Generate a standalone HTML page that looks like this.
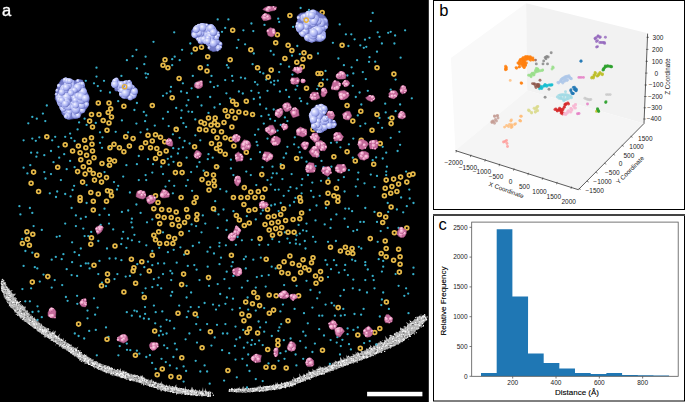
<!DOCTYPE html>
<html><head><meta charset="utf-8"><style>
html,body{margin:0;padding:0;background:#fff;width:685px;height:402px;overflow:hidden}
svg{display:block}
text{font-family:"Liberation Sans",sans-serif}
.tk{font-size:6.5px;fill:#222}
.tb{font-size:6.5px;fill:#222}
.lb{font-size:8px;fill:#000;stroke:#000;stroke-width:0.12px}
.pl{font-size:16.5px;fill:#000}
</style></head><body>
<svg width="685" height="402" viewBox="0 0 685 402">
<rect x="0" y="0" width="685" height="402" fill="#fff"/>
<rect x="0" y="0" width="428.8" height="402" fill="#000"/>
<filter id="sb" x="0" y="0" width="1" height="1"><feGaussianBlur stdDeviation="0.3"/></filter><g id="pana" filter="url(#sb)">
<defs><radialGradient id="lav" cx="0.42" cy="0.38" r="0.7"><stop offset="0" stop-color="#c9d0fb"/><stop offset="0.6" stop-color="#9ea6ec"/><stop offset="1" stop-color="#6f78c8"/></radialGradient><radialGradient id="pkg" cx="0.4" cy="0.35" r="0.7"><stop offset="0" stop-color="#f6b6d4"/><stop offset="0.6" stop-color="#e48ab6"/><stop offset="1" stop-color="#b95a8e"/></radialGradient><radialGradient id="lump" cx="0.36" cy="0.33" r="0.7"><stop offset="0" stop-color="#fbfbff"/><stop offset="0.3" stop-color="#cfd4fb"/><stop offset="0.72" stop-color="#a2aaee"/><stop offset="1" stop-color="#6a72c0"/></radialGradient><radialGradient id="plump" cx="0.38" cy="0.35" r="0.65"><stop offset="0" stop-color="#fde0ee"/><stop offset="0.45" stop-color="#f0a6ca"/><stop offset="0.85" stop-color="#d27aa8"/><stop offset="1" stop-color="#a85283"/></radialGradient></defs>
<polygon points="3.5,280.3 3.7,281.0 4.0,281.7 5.6,282.1 5.5,282.8 5.7,283.6 5.8,284.3 6.8,284.7 6.0,285.6 6.4,286.1 7.1,286.5 6.9,287.3 7.9,287.5 8.4,288.1 9.3,288.5 9.4,289.3 9.4,290.1 10.0,290.6 13.0,290.0 11.2,291.6 11.8,292.0 11.7,292.9 12.1,293.4 13.0,293.6 13.7,293.9 15.6,293.5 15.5,294.5 13.8,296.5 13.9,297.4 16.1,296.8 15.2,298.3 17.0,297.9 15.8,299.6 16.9,299.6 16.2,300.9 17.8,300.4 18.1,300.9 17.6,302.3 19.8,301.3 21.2,301.1 19.0,303.9 20.8,303.3 20.0,304.9 22.1,304.0 21.2,305.7 21.4,306.4 22.5,306.3 22.2,307.4 24.1,306.5 24.7,306.8 26.1,306.4 25.5,308.0 25.1,309.4 25.9,309.6 25.8,310.7 27.4,310.1 27.7,310.8 28.2,311.3 27.7,312.7 28.5,312.8 29.9,312.4 29.1,314.2 30.2,313.9 30.5,314.6 30.3,315.9 32.0,315.1 31.5,316.7 33.0,316.0 32.9,317.2 33.0,318.1 34.7,317.3 35.1,318.0 34.9,319.3 34.8,320.3 36.1,319.9 37.0,319.7 36.7,321.3 37.7,321.1 37.7,322.4 38.7,322.3 39.2,322.8 39.9,323.1 40.4,323.7 41.4,323.6 41.9,324.2 42.2,325.0 42.3,326.1 43.0,326.2 43.9,326.1 44.4,326.7 45.0,327.0 45.6,327.4 46.4,327.5 46.4,328.7 47.7,328.1 48.7,327.9 48.6,329.2 48.6,330.5 49.2,330.9 49.8,331.2 50.7,331.2 50.9,332.2 51.7,332.3 54.1,330.1 52.5,333.6 55.6,330.4 55.7,331.5 55.1,333.6 55.2,334.6 55.6,335.3 56.5,335.2 56.5,336.4 57.1,336.8 60.3,333.4 59.1,336.3 59.4,337.2 59.5,338.3 60.1,338.8 60.8,339.0 62.0,338.6 62.0,339.9 64.2,337.8 63.2,340.7 63.7,341.2 64.7,341.0 65.3,341.4 65.7,342.1 66.6,342.0 66.6,343.4 67.9,342.7 67.8,344.1 69.1,343.6 69.3,344.6 70.0,344.8 71.2,344.4 71.8,344.8 71.3,346.7 72.5,346.4 72.5,347.6 74.1,346.5 73.9,348.0 75.0,347.6 75.8,347.8 76.4,348.1 78.4,346.5 77.2,349.5 77.3,350.6 78.6,350.0 78.9,350.7 79.6,351.0 79.6,352.2 80.9,351.6 81.2,352.3 81.1,353.6 82.3,353.3 82.4,354.4 83.0,354.8 83.7,355.0 84.5,354.9 85.3,355.1 86.5,354.4 86.4,355.7 87.1,355.8 87.4,356.4 87.8,357.0 88.0,358.0 89.4,356.9 89.6,358.1 90.2,358.4 91.2,358.0 91.2,359.6 91.8,359.9 93.0,359.1 93.6,359.4 93.5,361.1 94.4,361.0 95.0,361.3 96.0,360.9 96.8,361.0 96.9,362.3 98.1,361.6 98.2,362.8 98.6,363.6 99.9,362.7 100.1,363.6 101.0,363.2 101.3,364.0 101.9,364.4 102.6,364.3 103.2,364.7 104.0,364.5 104.4,365.6 105.4,364.9 105.7,366.2 106.3,366.7 107.4,365.7 108.1,366.0 108.3,367.5 109.7,365.9 110.0,367.2 110.6,367.7 111.2,368.1 111.8,368.5 112.7,368.3 113.2,369.1 114.0,369.0 114.9,368.5 115.1,370.1 116.0,369.6 116.6,369.9 117.5,369.3 117.8,370.8 118.7,370.0 119.4,370.3 120.9,367.9 120.9,370.3 121.2,371.8 122.6,369.9 122.9,371.5 124.1,370.0 124.4,371.3 124.9,372.3 125.8,371.7 126.0,373.5 126.9,373.0 127.9,372.4 128.3,373.6 128.9,374.0 129.7,373.7 130.3,374.2 130.9,374.6 132.0,373.6 132.3,375.0 133.3,374.0 133.6,375.4 134.8,374.0 135.3,374.8 136.0,374.9 136.7,375.1 137.2,375.7 137.7,376.5 138.3,376.8 138.9,377.2 139.7,377.1 141.1,375.1 141.3,376.6 142.6,374.9 142.9,376.2 143.4,377.2 144.0,377.4 144.7,377.6 145.3,378.2 145.7,379.5 146.7,378.7 147.1,379.6 148.2,378.7 148.6,379.8 149.2,380.4 150.2,379.6 150.6,380.6 152.0,378.8 152.2,380.2 152.6,381.4 153.6,380.6 153.8,382.2 154.7,381.9 155.5,381.8 156.2,381.7 156.9,382.0 157.3,382.9 157.9,383.4 159.0,382.6 159.4,383.6 160.0,384.1 161.8,381.1 161.6,383.6 162.4,383.3 162.7,384.4 163.4,384.2 164.0,384.5 164.6,384.9 165.2,385.4 165.8,385.7 166.9,384.2 167.2,386.2 168.1,385.3 168.6,386.6 169.7,384.5 170.1,386.4 170.9,385.7 171.4,386.8 172.4,385.9 173.0,386.5 173.7,386.4 174.3,387.3 175.4,385.5 176.4,384.3 176.4,387.6 177.1,387.7 177.8,387.9 178.4,388.6 179.3,387.5 179.9,387.7 180.5,388.3 181.2,388.1 181.8,388.1 182.4,389.2 183.1,389.0 183.9,388.6 184.5,388.9 185.6,386.1 186.0,389.0 186.6,389.1 187.3,389.4 188.1,389.2 188.8,389.1 189.4,390.1 190.1,390.2 190.8,389.8 191.9,386.8 192.5,387.6 193.0,389.3 193.7,389.3 194.3,390.6 195.1,389.6 195.8,389.9 196.4,390.6 197.2,389.9 197.8,391.1 198.5,391.1 199.3,389.5 200.0,390.1 200.6,391.3 201.3,390.9 202.1,390.4 203.0,387.0 203.4,391.3 204.2,390.5 204.9,390.9 205.8,387.9 206.3,391.2 207.0,391.2 207.6,392.2 208.4,391.7 209.0,392.2 209.9,390.5 210.5,392.0 211.2,391.7 210.8,396.6 210.1,396.5 209.4,396.2 208.7,396.5 208.0,396.6 207.3,396.4 206.6,396.0 205.9,396.3 205.2,396.1 204.5,396.0 203.8,396.1 203.1,396.0 202.3,396.2 201.6,396.1 200.9,395.9 200.2,395.7 199.5,396.2 198.8,395.7 198.1,395.9 197.3,396.1 196.6,396.0 195.9,395.5 195.2,395.3 194.5,395.3 193.8,395.5 193.1,395.6 192.4,395.6 191.7,395.2 191.0,395.4 190.3,394.8 189.6,394.8 188.9,394.7 188.2,394.9 187.5,394.7 186.8,394.5 186.0,394.8 185.3,394.6 184.6,394.6 184.0,394.2 183.3,394.1 182.5,394.2 181.8,394.3 181.1,394.0 180.3,394.1 179.6,393.8 178.8,394.2 178.1,393.5 177.2,393.9 176.5,393.8 176.0,393.1 175.2,393.0 174.5,393.0 173.8,393.0 173.1,392.7 172.4,392.9 171.8,392.1 171.1,392.1 170.2,392.5 169.6,392.1 168.9,391.8 168.2,391.9 167.5,391.7 166.9,391.2 166.1,391.1 165.4,391.3 164.7,391.1 164.0,390.7 163.3,390.5 162.5,390.3 161.8,390.2 161.0,390.1 160.1,390.2 159.6,389.3 158.8,389.6 158.1,389.3 157.5,389.0 156.9,388.6 156.2,388.2 155.6,388.0 154.8,388.1 154.2,387.5 153.4,387.7 152.8,387.3 152.1,387.2 151.5,386.5 150.7,386.9 150.1,386.4 149.4,386.3 148.8,385.8 148.0,385.7 147.3,385.6 146.6,385.5 146.1,384.8 145.3,385.1 144.9,384.2 144.0,384.6 143.5,383.9 142.8,383.7 142.2,383.5 141.4,383.7 140.9,383.0 140.0,383.3 139.5,382.8 138.8,382.6 138.0,382.7 137.5,382.1 136.6,382.4 136.2,381.5 135.4,381.6 134.8,381.2 134.1,381.1 133.3,381.5 132.6,381.2 132.1,380.4 131.4,380.4 130.6,380.4 130.1,379.9 129.4,379.7 128.7,379.5 127.9,379.8 127.3,379.5 126.6,379.2 126.0,378.5 125.2,378.8 124.5,378.6 123.9,378.2 123.2,377.9 122.4,378.2 121.8,377.7 121.1,377.3 120.4,377.3 119.7,377.2 119.0,376.7 118.4,376.5 117.6,376.5 116.8,376.5 116.2,376.1 115.5,375.7 114.7,375.9 114.1,375.1 113.2,375.5 112.7,374.6 111.8,375.0 111.3,374.2 110.4,374.4 109.9,373.6 109.3,373.3 108.5,373.4 107.7,373.3 107.2,372.7 106.6,372.3 105.8,372.3 105.2,371.9 104.5,371.7 103.8,371.5 103.0,371.5 102.3,371.3 101.7,370.8 101.1,370.3 100.2,370.5 99.7,369.7 98.6,370.1 98.0,369.6 97.5,369.0 96.8,368.6 96.2,368.3 95.6,367.8 94.9,367.7 94.2,367.4 93.4,367.4 93.1,366.6 92.5,366.2 91.7,366.1 91.1,365.8 90.6,365.2 89.9,365.0 89.2,364.9 88.4,364.9 87.9,364.3 87.4,363.8 86.5,364.0 86.2,363.0 85.5,362.8 84.7,362.6 84.1,362.2 83.3,362.1 82.7,361.6 82.2,360.9 81.4,360.7 80.8,360.2 80.0,360.2 79.6,359.6 79.2,358.9 78.4,358.7 77.8,358.4 77.4,357.8 76.7,357.5 76.4,356.8 75.9,356.3 75.0,356.4 74.3,356.0 73.9,355.4 73.2,355.2 72.5,354.9 72.0,354.4 71.7,353.7 70.9,353.6 70.4,353.0 69.9,352.5 69.5,351.9 68.7,351.8 68.1,351.4 67.6,350.9 67.1,350.5 66.1,350.6 65.9,349.6 65.3,349.3 64.3,349.3 64.1,348.4 63.5,348.0 62.8,347.8 62.0,347.6 61.3,347.4 60.9,346.6 60.3,346.2 59.5,346.2 59.1,345.5 58.7,344.7 57.9,344.7 57.4,344.2 56.9,343.6 56.2,343.3 55.6,342.9 54.9,342.6 54.5,342.0 53.6,342.0 53.0,341.4 52.6,340.8 51.6,341.0 51.1,340.5 50.8,339.6 50.3,339.1 49.3,339.3 48.8,338.7 48.4,338.2 47.8,337.7 47.2,337.5 46.4,337.3 46.1,336.6 45.2,336.6 44.8,336.0 44.0,335.7 43.9,334.7 43.3,334.4 42.3,334.6 41.7,334.2 41.1,333.8 40.8,333.0 40.2,332.6 39.4,332.5 39.0,331.8 38.6,331.2 37.7,331.2 37.3,330.4 36.6,330.1 36.2,329.3 35.6,328.9 34.7,328.8 33.8,328.7 33.5,327.9 32.8,327.5 32.3,326.9 31.7,326.4 30.9,326.1 30.2,325.8 30.0,324.9 29.0,324.9 28.8,324.0 28.3,323.6 27.3,323.6 27.0,322.9 26.5,322.4 25.8,322.1 25.0,322.0 24.5,321.5 23.9,321.0 23.8,320.0 23.2,319.5 22.0,319.7 21.5,319.1 21.5,318.0 20.7,317.8 20.0,317.5 19.3,317.2 19.3,316.2 18.4,316.1 18.4,315.1 17.2,315.3 17.4,314.1 17.0,313.5 16.2,313.1 15.8,312.5 14.5,312.6 14.5,311.5 14.2,310.8 13.9,310.1 13.3,309.7 12.8,309.2 12.5,308.5 11.7,308.3 10.9,308.1 10.5,307.4 10.0,306.8 9.8,306.0 9.3,305.3 8.9,304.5 8.6,303.7 7.9,303.2 7.0,302.9 7.0,302.0 6.3,301.6 6.6,300.4 6.2,299.8 5.6,299.3 4.6,299.0 5.1,297.7 3.8,297.5 3.8,296.4 3.8,295.5 3.1,294.9 3.4,293.9 3.2,293.2 2.4,292.8 2.3,292.0 1.9,291.4 1.9,290.6 1.5,289.8 1.7,288.7 1.0,288.1 0.8,287.2 1.3,286.2 1.4,285.3 1.1,284.6 1.3,283.8 1.3,283.1 1.5,282.3 1.4,281.5 1.3,280.8" fill="#b4b4b4"/>
<g><circle cx="2.4" cy="279.6" r="0.63" fill="#444"/><circle cx="2.4" cy="279.5" r="0.70" fill="#ececec"/><circle cx="3.2" cy="280.3" r="0.74" fill="#666"/><circle cx="1.4" cy="282.1" r="0.59" fill="#fff"/><circle cx="2.9" cy="281.5" r="0.64" fill="#fff"/><circle cx="2.0" cy="282.4" r="0.37" fill="#fff"/><circle cx="1.3" cy="280.9" r="0.37" fill="#ececec"/><circle cx="3.8" cy="280.3" r="0.61" fill="#fff"/><circle cx="1.8" cy="281.7" r="0.59" fill="#fff"/><circle cx="3.0" cy="283.2" r="0.55" fill="#ececec"/><circle cx="1.4" cy="283.1" r="0.64" fill="#e8e8e8"/><circle cx="1.2" cy="284.0" r="0.38" fill="#e8e8e8"/><circle cx="3.8" cy="282.0" r="0.45" fill="#f6f6f6"/><circle cx="3.8" cy="281.8" r="0.63" fill="#666"/><circle cx="2.2" cy="283.6" r="0.62" fill="#fff"/><circle cx="5.3" cy="286.3" r="0.61" fill="#666"/><circle cx="5.5" cy="282.8" r="0.36" fill="#fff"/><circle cx="2.2" cy="282.9" r="0.73" fill="#444"/><circle cx="4.7" cy="284.0" r="0.48" fill="#fff"/><circle cx="2.2" cy="286.9" r="0.54" fill="#fff"/><circle cx="5.2" cy="285.8" r="0.52" fill="#fff"/><circle cx="4.9" cy="285.9" r="0.67" fill="#666"/><circle cx="3.1" cy="286.0" r="0.41" fill="#ececec"/><circle cx="1.1" cy="283.4" r="0.49" fill="#ececec"/><circle cx="1.7" cy="283.5" r="0.41" fill="#fff"/><circle cx="4.7" cy="283.6" r="0.64" fill="#f6f6f6"/><circle cx="1.2" cy="286.8" r="0.43" fill="#fff"/><circle cx="6.9" cy="287.2" r="0.70" fill="#f6f6f6"/><circle cx="5.6" cy="288.4" r="0.39" fill="#fff"/><circle cx="2.1" cy="284.5" r="0.73" fill="#fff"/><circle cx="7.1" cy="289.3" r="0.68" fill="#f6f6f6"/><circle cx="5.2" cy="286.3" r="0.40" fill="#f6f6f6"/><circle cx="6.3" cy="288.6" r="0.48" fill="#666"/><circle cx="4.1" cy="285.1" r="0.72" fill="#666"/><circle cx="1.6" cy="290.1" r="0.66" fill="#fff"/><circle cx="5.4" cy="288.2" r="0.60" fill="#666"/><circle cx="1.7" cy="288.4" r="0.56" fill="#fff"/><circle cx="2.2" cy="288.8" r="0.57" fill="#fff"/><circle cx="3.0" cy="291.6" r="0.58" fill="#f6f6f6"/><circle cx="3.8" cy="289.2" r="0.43" fill="#fff"/><circle cx="7.2" cy="293.1" r="0.49" fill="#fff"/><circle cx="2.4" cy="291.1" r="0.74" fill="#ececec"/><circle cx="6.4" cy="293.8" r="0.45" fill="#fff"/><circle cx="9.0" cy="288.7" r="0.73" fill="#444"/><circle cx="3.7" cy="287.8" r="0.55" fill="#f6f6f6"/><circle cx="9.8" cy="291.5" r="0.60" fill="#f6f6f6"/><circle cx="4.9" cy="290.2" r="0.71" fill="#fff"/><circle cx="7.9" cy="290.4" r="0.50" fill="#fff"/><circle cx="4.8" cy="291.1" r="0.55" fill="#fff"/><circle cx="5.4" cy="294.7" r="0.73" fill="#444"/><circle cx="3.4" cy="292.4" r="0.49" fill="#fff"/><circle cx="5.3" cy="289.5" r="0.61" fill="#e8e8e8"/><circle cx="8.6" cy="289.6" r="0.63" fill="#e8e8e8"/><circle cx="4.7" cy="290.1" r="0.53" fill="#fff"/><circle cx="10.2" cy="290.8" r="0.46" fill="#444"/><circle cx="9.1" cy="295.7" r="0.64" fill="#ececec"/><circle cx="11.0" cy="294.9" r="0.49" fill="#fff"/><circle cx="5.1" cy="297.6" r="0.74" fill="#666"/><circle cx="9.3" cy="290.3" r="0.43" fill="#f6f6f6"/><circle cx="4.3" cy="290.7" r="0.64" fill="#666"/><circle cx="7.1" cy="291.7" r="0.46" fill="#f6f6f6"/><circle cx="11.1" cy="294.0" r="0.51" fill="#fff"/><circle cx="10.2" cy="296.0" r="0.74" fill="#fff"/><circle cx="6.2" cy="290.7" r="0.59" fill="#666"/><circle cx="7.1" cy="297.2" r="0.63" fill="#fff"/><circle cx="8.8" cy="296.3" r="0.62" fill="#444"/><circle cx="9.8" cy="299.1" r="0.62" fill="#444"/><circle cx="9.7" cy="295.2" r="0.45" fill="#fff"/><circle cx="10.2" cy="299.2" r="0.66" fill="#444"/><circle cx="10.8" cy="297.4" r="0.69" fill="#666"/><circle cx="8.7" cy="291.8" r="0.56" fill="#fff"/><circle cx="10.3" cy="299.7" r="0.66" fill="#fff"/><circle cx="8.2" cy="296.8" r="0.37" fill="#f6f6f6"/><circle cx="9.7" cy="293.7" r="0.56" fill="#444"/><circle cx="5.6" cy="297.6" r="0.43" fill="#fff"/><circle cx="9.4" cy="293.0" r="0.56" fill="#fff"/><circle cx="8.8" cy="301.7" r="0.75" fill="#444"/><circle cx="6.7" cy="297.6" r="0.64" fill="#f6f6f6"/><circle cx="11.2" cy="299.4" r="0.46" fill="#666"/><circle cx="9.1" cy="293.5" r="0.72" fill="#fff"/><circle cx="11.3" cy="299.8" r="0.39" fill="#666"/><circle cx="8.6" cy="297.8" r="0.74" fill="#fff"/><circle cx="15.2" cy="303.1" r="0.43" fill="#e8e8e8"/><circle cx="7.0" cy="301.4" r="0.54" fill="#444"/><circle cx="11.5" cy="296.7" r="0.49" fill="#ececec"/><circle cx="12.2" cy="302.4" r="0.54" fill="#fff"/><circle cx="8.9" cy="299.8" r="0.66" fill="#ececec"/><circle cx="11.0" cy="302.7" r="0.46" fill="#444"/><circle cx="10.1" cy="297.6" r="0.62" fill="#fff"/><circle cx="11.2" cy="303.0" r="0.49" fill="#666"/><circle cx="13.3" cy="298.9" r="0.52" fill="#e8e8e8"/><circle cx="13.1" cy="302.2" r="0.41" fill="#fff"/><circle cx="9.8" cy="299.5" r="0.68" fill="#f6f6f6"/><circle cx="16.2" cy="304.0" r="0.56" fill="#ececec"/><circle cx="10.6" cy="302.1" r="0.43" fill="#fff"/><circle cx="8.0" cy="299.2" r="0.58" fill="#f6f6f6"/><circle cx="16.1" cy="298.8" r="0.49" fill="#e8e8e8"/><circle cx="9.1" cy="305.9" r="0.42" fill="#fff"/><circle cx="16.5" cy="302.9" r="0.62" fill="#f6f6f6"/><circle cx="16.9" cy="305.4" r="0.43" fill="#666"/><circle cx="14.9" cy="302.8" r="0.62" fill="#e8e8e8"/><circle cx="9.2" cy="298.7" r="0.44" fill="#fff"/><circle cx="9.9" cy="303.0" r="0.54" fill="#fff"/><circle cx="17.5" cy="305.0" r="0.55" fill="#444"/><circle cx="13.9" cy="306.7" r="0.41" fill="#fff"/><circle cx="12.1" cy="305.5" r="0.62" fill="#e8e8e8"/><circle cx="17.3" cy="302.3" r="0.75" fill="#fff"/><circle cx="15.7" cy="300.4" r="0.60" fill="#fff"/><circle cx="9.7" cy="305.2" r="0.67" fill="#fff"/><circle cx="10.3" cy="304.0" r="0.36" fill="#ececec"/><circle cx="16.6" cy="305.4" r="0.39" fill="#fff"/><circle cx="16.4" cy="303.1" r="0.57" fill="#fff"/><circle cx="19.0" cy="302.5" r="0.52" fill="#fff"/><circle cx="15.4" cy="307.9" r="0.49" fill="#666"/><circle cx="15.2" cy="303.5" r="0.70" fill="#666"/><circle cx="13.8" cy="302.2" r="0.67" fill="#e8e8e8"/><circle cx="13.6" cy="303.4" r="0.40" fill="#666"/><circle cx="20.5" cy="301.6" r="0.51" fill="#fff"/><circle cx="16.3" cy="304.8" r="0.51" fill="#fff"/><circle cx="11.9" cy="301.2" r="0.59" fill="#e8e8e8"/><circle cx="17.8" cy="309.2" r="0.59" fill="#fff"/><circle cx="17.4" cy="307.5" r="0.44" fill="#f6f6f6"/><circle cx="17.9" cy="305.8" r="0.39" fill="#ececec"/><circle cx="13.5" cy="302.2" r="0.72" fill="#f6f6f6"/><circle cx="18.2" cy="305.5" r="0.66" fill="#ececec"/><circle cx="17.3" cy="304.4" r="0.42" fill="#666"/><circle cx="12.5" cy="302.6" r="0.55" fill="#fff"/><circle cx="17.4" cy="310.6" r="0.58" fill="#fff"/><circle cx="21.3" cy="306.8" r="0.62" fill="#fff"/><circle cx="18.6" cy="312.8" r="0.54" fill="#ececec"/><circle cx="16.7" cy="303.9" r="0.43" fill="#e8e8e8"/><circle cx="14.1" cy="303.0" r="0.35" fill="#fff"/><circle cx="19.8" cy="313.3" r="0.44" fill="#f6f6f6"/><circle cx="14.3" cy="308.1" r="0.64" fill="#666"/><circle cx="15.5" cy="310.8" r="0.72" fill="#ececec"/><circle cx="17.2" cy="311.4" r="0.64" fill="#ececec"/><circle cx="14.4" cy="310.2" r="0.53" fill="#e8e8e8"/><circle cx="22.9" cy="306.5" r="0.64" fill="#fff"/><circle cx="14.1" cy="304.6" r="0.51" fill="#f6f6f6"/><circle cx="17.1" cy="310.5" r="0.59" fill="#e8e8e8"/><circle cx="17.2" cy="314.0" r="0.54" fill="#e8e8e8"/><circle cx="16.2" cy="314.6" r="0.50" fill="#f6f6f6"/><circle cx="20.9" cy="311.3" r="0.54" fill="#fff"/><circle cx="22.3" cy="309.5" r="0.66" fill="#666"/><circle cx="20.7" cy="308.4" r="0.60" fill="#fff"/><circle cx="21.5" cy="313.5" r="0.70" fill="#fff"/><circle cx="22.2" cy="305.7" r="0.59" fill="#ececec"/><circle cx="18.6" cy="310.3" r="0.50" fill="#444"/><circle cx="22.3" cy="312.0" r="0.67" fill="#444"/><circle cx="18.4" cy="306.1" r="0.46" fill="#666"/><circle cx="17.7" cy="315.6" r="0.47" fill="#fff"/><circle cx="17.5" cy="315.3" r="0.46" fill="#ececec"/><circle cx="24.4" cy="314.5" r="0.49" fill="#e8e8e8"/><circle cx="17.5" cy="312.5" r="0.43" fill="#fff"/><circle cx="23.9" cy="316.2" r="0.47" fill="#444"/><circle cx="17.2" cy="311.0" r="0.72" fill="#444"/><circle cx="22.8" cy="307.8" r="0.53" fill="#fff"/><circle cx="18.0" cy="315.5" r="0.44" fill="#f6f6f6"/><circle cx="22.8" cy="316.3" r="0.48" fill="#fff"/><circle cx="22.6" cy="310.1" r="0.43" fill="#444"/><circle cx="19.4" cy="314.9" r="0.58" fill="#fff"/><circle cx="21.1" cy="315.7" r="0.45" fill="#ececec"/><circle cx="27.0" cy="313.4" r="0.50" fill="#f6f6f6"/><circle cx="22.7" cy="309.5" r="0.59" fill="#fff"/><circle cx="21.5" cy="313.7" r="0.39" fill="#fff"/><circle cx="20.7" cy="317.5" r="0.58" fill="#e8e8e8"/><circle cx="20.8" cy="318.0" r="0.52" fill="#666"/><circle cx="27.7" cy="316.5" r="0.45" fill="#ececec"/><circle cx="19.6" cy="311.7" r="0.50" fill="#ececec"/><circle cx="19.5" cy="310.1" r="0.70" fill="#fff"/><circle cx="23.6" cy="318.7" r="0.70" fill="#f6f6f6"/><circle cx="25.8" cy="319.0" r="0.45" fill="#f6f6f6"/><circle cx="25.1" cy="316.3" r="0.51" fill="#fff"/><circle cx="24.0" cy="311.8" r="0.75" fill="#444"/><circle cx="22.4" cy="311.2" r="0.73" fill="#666"/><circle cx="20.9" cy="316.0" r="0.68" fill="#fff"/><circle cx="20.8" cy="318.2" r="0.37" fill="#e8e8e8"/><circle cx="22.2" cy="318.4" r="0.62" fill="#444"/><circle cx="23.6" cy="316.8" r="0.54" fill="#f6f6f6"/><circle cx="24.3" cy="315.0" r="0.54" fill="#fff"/><circle cx="23.0" cy="314.1" r="0.72" fill="#ececec"/><circle cx="29.6" cy="316.2" r="0.67" fill="#444"/><circle cx="22.8" cy="319.6" r="0.72" fill="#f6f6f6"/><circle cx="29.9" cy="320.5" r="0.66" fill="#ececec"/><circle cx="30.7" cy="320.9" r="0.69" fill="#fff"/><circle cx="27.7" cy="316.5" r="0.48" fill="#fff"/><circle cx="24.7" cy="313.9" r="0.41" fill="#fff"/><circle cx="24.5" cy="313.4" r="0.57" fill="#e8e8e8"/><circle cx="23.8" cy="320.8" r="0.52" fill="#666"/><circle cx="25.3" cy="313.6" r="0.48" fill="#666"/><circle cx="24.6" cy="317.8" r="0.53" fill="#fff"/><circle cx="27.4" cy="314.8" r="0.37" fill="#fff"/><circle cx="31.7" cy="319.9" r="0.57" fill="#444"/><circle cx="31.1" cy="315.0" r="0.74" fill="#444"/><circle cx="27.5" cy="316.2" r="0.72" fill="#444"/><circle cx="25.1" cy="317.0" r="0.37" fill="#ececec"/><circle cx="30.7" cy="317.0" r="0.53" fill="#fff"/><circle cx="28.7" cy="318.9" r="0.35" fill="#e8e8e8"/><circle cx="32.1" cy="319.5" r="0.49" fill="#ececec"/><circle cx="25.2" cy="318.5" r="0.58" fill="#666"/><circle cx="26.0" cy="316.5" r="0.63" fill="#444"/><circle cx="27.1" cy="316.1" r="0.71" fill="#f6f6f6"/><circle cx="31.7" cy="322.0" r="0.43" fill="#ececec"/><circle cx="30.7" cy="321.6" r="0.58" fill="#444"/><circle cx="27.7" cy="316.5" r="0.51" fill="#fff"/><circle cx="32.2" cy="316.4" r="0.48" fill="#fff"/><circle cx="33.2" cy="323.4" r="0.39" fill="#e8e8e8"/><circle cx="30.0" cy="323.0" r="0.70" fill="#ececec"/><circle cx="28.8" cy="318.0" r="0.36" fill="#fff"/><circle cx="32.5" cy="321.3" r="0.49" fill="#fff"/><circle cx="35.0" cy="325.2" r="0.40" fill="#f6f6f6"/><circle cx="33.2" cy="323.9" r="0.66" fill="#fff"/><circle cx="34.5" cy="321.8" r="0.47" fill="#fff"/><circle cx="28.5" cy="323.6" r="0.56" fill="#e8e8e8"/><circle cx="32.1" cy="321.9" r="0.45" fill="#fff"/><circle cx="28.4" cy="322.6" r="0.39" fill="#ececec"/><circle cx="30.3" cy="324.8" r="0.36" fill="#fff"/><circle cx="36.0" cy="324.1" r="0.36" fill="#666"/><circle cx="33.2" cy="322.7" r="0.45" fill="#fff"/><circle cx="32.5" cy="321.3" r="0.64" fill="#f6f6f6"/><circle cx="29.1" cy="319.4" r="0.58" fill="#e8e8e8"/><circle cx="35.1" cy="319.3" r="0.51" fill="#f6f6f6"/><circle cx="30.5" cy="323.8" r="0.41" fill="#444"/><circle cx="34.1" cy="325.1" r="0.73" fill="#ececec"/><circle cx="29.5" cy="324.1" r="0.59" fill="#fff"/><circle cx="34.8" cy="319.7" r="0.66" fill="#fff"/><circle cx="32.7" cy="321.4" r="0.64" fill="#fff"/><circle cx="36.8" cy="324.0" r="0.68" fill="#fff"/><circle cx="37.4" cy="320.3" r="0.41" fill="#fff"/><circle cx="36.1" cy="322.8" r="0.62" fill="#fff"/><circle cx="30.6" cy="320.8" r="0.38" fill="#ececec"/><circle cx="34.7" cy="324.4" r="0.44" fill="#fff"/><circle cx="34.6" cy="323.6" r="0.60" fill="#e8e8e8"/><circle cx="37.7" cy="327.5" r="0.36" fill="#fff"/><circle cx="36.9" cy="323.0" r="0.60" fill="#666"/><circle cx="38.3" cy="321.1" r="0.45" fill="#f6f6f6"/><circle cx="36.0" cy="324.3" r="0.47" fill="#fff"/><circle cx="34.9" cy="326.5" r="0.37" fill="#f6f6f6"/><circle cx="40.1" cy="328.7" r="0.38" fill="#666"/><circle cx="37.1" cy="328.7" r="0.40" fill="#e8e8e8"/><circle cx="34.1" cy="324.1" r="0.58" fill="#fff"/><circle cx="35.2" cy="327.6" r="0.46" fill="#fff"/><circle cx="36.6" cy="327.3" r="0.61" fill="#444"/><circle cx="35.3" cy="327.8" r="0.71" fill="#e8e8e8"/><circle cx="36.1" cy="326.0" r="0.36" fill="#666"/><circle cx="36.3" cy="323.8" r="0.50" fill="#fff"/><circle cx="38.9" cy="322.9" r="0.41" fill="#fff"/><circle cx="41.7" cy="325.3" r="0.55" fill="#fff"/><circle cx="36.5" cy="330.4" r="0.37" fill="#666"/><circle cx="35.1" cy="327.5" r="0.53" fill="#fff"/><circle cx="35.4" cy="326.2" r="0.49" fill="#e8e8e8"/><circle cx="40.8" cy="327.3" r="0.52" fill="#ececec"/><circle cx="40.7" cy="324.8" r="0.60" fill="#444"/><circle cx="42.1" cy="330.0" r="0.39" fill="#fff"/><circle cx="42.1" cy="330.8" r="0.46" fill="#e8e8e8"/><circle cx="41.0" cy="329.0" r="0.52" fill="#ececec"/><circle cx="37.0" cy="327.3" r="0.58" fill="#fff"/><circle cx="40.0" cy="331.5" r="0.52" fill="#ececec"/><circle cx="42.7" cy="331.2" r="0.50" fill="#f6f6f6"/><circle cx="40.2" cy="328.1" r="0.47" fill="#fff"/><circle cx="39.7" cy="328.8" r="0.61" fill="#fff"/><circle cx="37.4" cy="330.7" r="0.50" fill="#e8e8e8"/><circle cx="39.6" cy="329.1" r="0.52" fill="#ececec"/><circle cx="40.2" cy="326.8" r="0.48" fill="#fff"/><circle cx="44.3" cy="331.8" r="0.43" fill="#fff"/><circle cx="41.2" cy="332.3" r="0.36" fill="#fff"/><circle cx="39.9" cy="332.2" r="0.72" fill="#666"/><circle cx="44.4" cy="329.9" r="0.56" fill="#fff"/><circle cx="42.4" cy="331.0" r="0.54" fill="#fff"/><circle cx="38.8" cy="331.0" r="0.73" fill="#e8e8e8"/><circle cx="44.2" cy="330.2" r="0.51" fill="#f6f6f6"/><circle cx="42.9" cy="331.2" r="0.70" fill="#ececec"/><circle cx="46.4" cy="329.9" r="0.66" fill="#e8e8e8"/><circle cx="46.5" cy="331.1" r="0.65" fill="#fff"/><circle cx="40.4" cy="329.4" r="0.74" fill="#fff"/><circle cx="45.9" cy="330.5" r="0.61" fill="#f6f6f6"/><circle cx="42.5" cy="329.7" r="0.71" fill="#fff"/><circle cx="43.4" cy="328.3" r="0.68" fill="#666"/><circle cx="41.8" cy="333.8" r="0.42" fill="#fff"/><circle cx="45.6" cy="332.0" r="0.58" fill="#fff"/><circle cx="45.6" cy="332.9" r="0.35" fill="#fff"/><circle cx="40.9" cy="332.8" r="0.35" fill="#fff"/><circle cx="43.7" cy="334.2" r="0.62" fill="#fff"/><circle cx="42.9" cy="331.7" r="0.58" fill="#fff"/><circle cx="48.0" cy="334.6" r="0.75" fill="#fff"/><circle cx="46.3" cy="331.4" r="0.41" fill="#f6f6f6"/><circle cx="45.9" cy="332.1" r="0.39" fill="#fff"/><circle cx="43.3" cy="332.2" r="0.60" fill="#e8e8e8"/><circle cx="48.6" cy="329.2" r="0.62" fill="#fff"/><circle cx="46.9" cy="329.8" r="0.49" fill="#444"/><circle cx="43.9" cy="330.8" r="0.69" fill="#f6f6f6"/><circle cx="50.2" cy="329.7" r="0.53" fill="#444"/><circle cx="46.1" cy="329.6" r="0.58" fill="#fff"/><circle cx="50.3" cy="332.4" r="0.45" fill="#444"/><circle cx="44.1" cy="336.5" r="0.48" fill="#ececec"/><circle cx="50.5" cy="335.6" r="0.52" fill="#666"/><circle cx="45.7" cy="336.2" r="0.45" fill="#f6f6f6"/><circle cx="47.3" cy="335.3" r="0.52" fill="#444"/><circle cx="47.3" cy="335.3" r="0.67" fill="#fff"/><circle cx="46.2" cy="331.3" r="0.50" fill="#fff"/><circle cx="45.0" cy="336.9" r="0.57" fill="#fff"/><circle cx="45.8" cy="334.4" r="0.48" fill="#fff"/><circle cx="49.8" cy="337.5" r="0.68" fill="#fff"/><circle cx="48.1" cy="332.6" r="0.54" fill="#444"/><circle cx="48.1" cy="334.0" r="0.62" fill="#666"/><circle cx="48.1" cy="332.0" r="0.39" fill="#ececec"/><circle cx="48.1" cy="337.4" r="0.57" fill="#ececec"/><circle cx="49.6" cy="337.1" r="0.41" fill="#444"/><circle cx="48.7" cy="336.6" r="0.60" fill="#fff"/><circle cx="51.0" cy="333.9" r="0.55" fill="#e8e8e8"/><circle cx="48.4" cy="335.0" r="0.73" fill="#ececec"/><circle cx="54.0" cy="336.0" r="0.59" fill="#e8e8e8"/><circle cx="50.0" cy="333.9" r="0.44" fill="#fff"/><circle cx="53.7" cy="333.0" r="0.39" fill="#fff"/><circle cx="53.5" cy="337.5" r="0.36" fill="#fff"/><circle cx="53.1" cy="333.6" r="0.51" fill="#fff"/><circle cx="48.5" cy="333.8" r="0.48" fill="#444"/><circle cx="52.7" cy="333.3" r="0.72" fill="#fff"/><circle cx="54.3" cy="338.4" r="0.38" fill="#444"/><circle cx="50.7" cy="334.6" r="0.68" fill="#ececec"/><circle cx="51.4" cy="335.5" r="0.66" fill="#e8e8e8"/><circle cx="55.5" cy="339.6" r="0.72" fill="#ececec"/><circle cx="50.3" cy="336.0" r="0.71" fill="#fff"/><circle cx="49.2" cy="338.4" r="0.45" fill="#e8e8e8"/><circle cx="55.8" cy="336.3" r="0.42" fill="#f6f6f6"/><circle cx="50.5" cy="340.4" r="0.64" fill="#444"/><circle cx="49.9" cy="334.0" r="0.52" fill="#ececec"/><circle cx="55.7" cy="335.3" r="0.57" fill="#fff"/><circle cx="54.8" cy="341.0" r="0.58" fill="#444"/><circle cx="55.4" cy="336.0" r="0.62" fill="#fff"/><circle cx="55.0" cy="341.3" r="0.68" fill="#f6f6f6"/><circle cx="56.4" cy="336.7" r="0.70" fill="#fff"/><circle cx="55.0" cy="339.6" r="0.62" fill="#444"/><circle cx="51.7" cy="337.3" r="0.65" fill="#fff"/><circle cx="52.0" cy="340.0" r="0.75" fill="#fff"/><circle cx="55.8" cy="336.6" r="0.39" fill="#fff"/><circle cx="58.8" cy="338.5" r="0.63" fill="#fff"/><circle cx="57.3" cy="341.4" r="0.55" fill="#e8e8e8"/><circle cx="56.9" cy="336.9" r="0.69" fill="#fff"/><circle cx="58.2" cy="339.3" r="0.37" fill="#444"/><circle cx="57.7" cy="341.6" r="0.42" fill="#666"/><circle cx="53.8" cy="341.4" r="0.57" fill="#444"/><circle cx="55.0" cy="336.7" r="0.49" fill="#fff"/><circle cx="53.9" cy="340.8" r="0.40" fill="#ececec"/><circle cx="58.3" cy="341.0" r="0.63" fill="#444"/><circle cx="53.9" cy="341.6" r="0.72" fill="#ececec"/><circle cx="56.3" cy="338.8" r="0.59" fill="#ececec"/><circle cx="55.6" cy="341.1" r="0.57" fill="#f6f6f6"/><circle cx="59.9" cy="338.3" r="0.59" fill="#ececec"/><circle cx="57.7" cy="342.5" r="0.40" fill="#444"/><circle cx="56.5" cy="339.6" r="0.37" fill="#444"/><circle cx="61.4" cy="339.6" r="0.63" fill="#f6f6f6"/><circle cx="58.2" cy="338.3" r="0.53" fill="#fff"/><circle cx="59.1" cy="339.5" r="0.38" fill="#fff"/><circle cx="55.7" cy="344.9" r="0.38" fill="#e8e8e8"/><circle cx="60.7" cy="344.8" r="0.39" fill="#666"/><circle cx="59.1" cy="341.0" r="0.66" fill="#444"/><circle cx="58.5" cy="340.8" r="0.61" fill="#f6f6f6"/><circle cx="60.7" cy="344.9" r="0.61" fill="#666"/><circle cx="56.8" cy="343.6" r="0.66" fill="#fff"/><circle cx="62.8" cy="340.8" r="0.73" fill="#ececec"/><circle cx="60.6" cy="345.0" r="0.39" fill="#ececec"/><circle cx="61.9" cy="340.9" r="0.50" fill="#fff"/><circle cx="62.0" cy="341.6" r="0.50" fill="#444"/><circle cx="61.4" cy="341.7" r="0.45" fill="#666"/><circle cx="57.8" cy="343.1" r="0.71" fill="#fff"/><circle cx="64.7" cy="343.0" r="0.64" fill="#e8e8e8"/><circle cx="65.1" cy="343.8" r="0.41" fill="#f6f6f6"/><circle cx="59.7" cy="340.5" r="0.39" fill="#fff"/><circle cx="59.0" cy="343.0" r="0.44" fill="#444"/><circle cx="61.3" cy="340.2" r="0.52" fill="#fff"/><circle cx="60.7" cy="344.6" r="0.63" fill="#fff"/><circle cx="65.5" cy="340.8" r="0.62" fill="#fff"/><circle cx="65.1" cy="346.7" r="0.50" fill="#ececec"/><circle cx="59.3" cy="346.0" r="0.58" fill="#fff"/><circle cx="63.2" cy="344.6" r="0.53" fill="#fff"/><circle cx="66.7" cy="347.1" r="0.74" fill="#ececec"/><circle cx="66.6" cy="345.1" r="0.64" fill="#fff"/><circle cx="62.8" cy="345.8" r="0.73" fill="#fff"/><circle cx="63.9" cy="345.7" r="0.70" fill="#666"/><circle cx="64.2" cy="345.6" r="0.44" fill="#444"/><circle cx="66.3" cy="346.4" r="0.61" fill="#ececec"/><circle cx="63.7" cy="345.6" r="0.49" fill="#fff"/><circle cx="62.8" cy="344.7" r="0.40" fill="#666"/><circle cx="63.0" cy="348.2" r="0.65" fill="#fff"/><circle cx="63.3" cy="347.8" r="0.43" fill="#f6f6f6"/><circle cx="66.4" cy="346.9" r="0.57" fill="#444"/><circle cx="63.9" cy="346.4" r="0.64" fill="#f6f6f6"/><circle cx="68.6" cy="346.3" r="0.62" fill="#fff"/><circle cx="67.9" cy="343.3" r="0.57" fill="#fff"/><circle cx="67.9" cy="348.0" r="0.60" fill="#f6f6f6"/><circle cx="69.6" cy="346.4" r="0.68" fill="#e8e8e8"/><circle cx="65.7" cy="344.0" r="0.58" fill="#444"/><circle cx="68.9" cy="344.2" r="0.51" fill="#fff"/><circle cx="63.9" cy="343.5" r="0.53" fill="#444"/><circle cx="64.4" cy="344.2" r="0.60" fill="#f6f6f6"/><circle cx="70.2" cy="347.5" r="0.42" fill="#fff"/><circle cx="69.3" cy="346.0" r="0.68" fill="#fff"/><circle cx="65.0" cy="346.2" r="0.73" fill="#fff"/><circle cx="69.7" cy="344.4" r="0.39" fill="#fff"/><circle cx="68.5" cy="349.6" r="0.36" fill="#f6f6f6"/><circle cx="71.0" cy="345.7" r="0.43" fill="#fff"/><circle cx="68.4" cy="350.2" r="0.40" fill="#e8e8e8"/><circle cx="65.5" cy="345.2" r="0.42" fill="#666"/><circle cx="69.2" cy="346.5" r="0.68" fill="#fff"/><circle cx="70.0" cy="346.6" r="0.73" fill="#666"/><circle cx="66.1" cy="347.2" r="0.54" fill="#ececec"/><circle cx="69.3" cy="345.1" r="0.38" fill="#fff"/><circle cx="70.8" cy="349.7" r="0.69" fill="#fff"/><circle cx="73.2" cy="350.0" r="0.51" fill="#e8e8e8"/><circle cx="72.5" cy="349.5" r="0.49" fill="#f6f6f6"/><circle cx="70.8" cy="347.8" r="0.59" fill="#ececec"/><circle cx="67.5" cy="346.9" r="0.64" fill="#fff"/><circle cx="69.4" cy="348.9" r="0.48" fill="#fff"/><circle cx="70.0" cy="349.4" r="0.36" fill="#444"/><circle cx="70.9" cy="352.8" r="0.60" fill="#fff"/><circle cx="72.7" cy="347.1" r="0.46" fill="#fff"/><circle cx="71.7" cy="348.3" r="0.58" fill="#fff"/><circle cx="69.3" cy="351.3" r="0.71" fill="#fff"/><circle cx="69.0" cy="347.9" r="0.60" fill="#fff"/><circle cx="73.2" cy="349.4" r="0.67" fill="#666"/><circle cx="70.5" cy="352.3" r="0.62" fill="#ececec"/><circle cx="71.0" cy="352.1" r="0.55" fill="#fff"/><circle cx="73.8" cy="349.7" r="0.64" fill="#fff"/><circle cx="71.8" cy="352.1" r="0.70" fill="#fff"/><circle cx="74.8" cy="350.7" r="0.67" fill="#444"/><circle cx="76.8" cy="348.8" r="0.35" fill="#444"/><circle cx="76.0" cy="350.8" r="0.51" fill="#e8e8e8"/><circle cx="75.3" cy="354.0" r="0.41" fill="#f6f6f6"/><circle cx="75.5" cy="349.9" r="0.61" fill="#fff"/><circle cx="77.2" cy="348.6" r="0.58" fill="#444"/><circle cx="71.2" cy="349.4" r="0.74" fill="#fff"/><circle cx="73.7" cy="353.8" r="0.64" fill="#fff"/><circle cx="77.5" cy="354.2" r="0.71" fill="#fff"/><circle cx="73.1" cy="350.3" r="0.65" fill="#fff"/><circle cx="76.0" cy="350.6" r="0.44" fill="#fff"/><circle cx="74.5" cy="350.3" r="0.70" fill="#666"/><circle cx="76.2" cy="350.3" r="0.74" fill="#fff"/><circle cx="76.4" cy="349.9" r="0.64" fill="#fff"/><circle cx="72.4" cy="351.2" r="0.61" fill="#fff"/><circle cx="78.6" cy="350.8" r="0.70" fill="#fff"/><circle cx="73.2" cy="353.1" r="0.42" fill="#fff"/><circle cx="78.8" cy="355.1" r="0.60" fill="#f6f6f6"/><circle cx="75.2" cy="353.1" r="0.45" fill="#fff"/><circle cx="76.7" cy="350.3" r="0.58" fill="#fff"/><circle cx="80.2" cy="350.6" r="0.41" fill="#fff"/><circle cx="73.7" cy="351.6" r="0.66" fill="#fff"/><circle cx="74.8" cy="356.1" r="0.49" fill="#fff"/><circle cx="78.7" cy="356.4" r="0.61" fill="#ececec"/><circle cx="78.2" cy="352.8" r="0.68" fill="#666"/><circle cx="77.9" cy="351.2" r="0.61" fill="#666"/><circle cx="78.4" cy="355.7" r="0.46" fill="#fff"/><circle cx="78.2" cy="357.3" r="0.45" fill="#ececec"/><circle cx="79.0" cy="352.1" r="0.41" fill="#fff"/><circle cx="79.5" cy="354.1" r="0.72" fill="#f6f6f6"/><circle cx="79.5" cy="352.2" r="0.55" fill="#fff"/><circle cx="79.6" cy="353.0" r="0.65" fill="#fff"/><circle cx="81.9" cy="357.6" r="0.56" fill="#ececec"/><circle cx="78.2" cy="356.6" r="0.74" fill="#e8e8e8"/><circle cx="79.8" cy="356.5" r="0.71" fill="#fff"/><circle cx="79.1" cy="353.6" r="0.39" fill="#fff"/><circle cx="81.4" cy="352.7" r="0.62" fill="#fff"/><circle cx="79.4" cy="354.2" r="0.51" fill="#fff"/><circle cx="83.2" cy="358.9" r="0.36" fill="#444"/><circle cx="77.2" cy="357.4" r="0.44" fill="#444"/><circle cx="79.0" cy="358.1" r="0.47" fill="#666"/><circle cx="84.3" cy="354.5" r="0.54" fill="#ececec"/><circle cx="83.8" cy="358.2" r="0.68" fill="#ececec"/><circle cx="80.1" cy="355.7" r="0.70" fill="#e8e8e8"/><circle cx="79.9" cy="355.6" r="0.43" fill="#e8e8e8"/><circle cx="78.6" cy="358.7" r="0.37" fill="#fff"/><circle cx="83.9" cy="356.8" r="0.70" fill="#fff"/><circle cx="85.4" cy="355.8" r="0.67" fill="#fff"/><circle cx="79.8" cy="359.9" r="0.71" fill="#ececec"/><circle cx="80.4" cy="359.1" r="0.65" fill="#f6f6f6"/><circle cx="82.5" cy="356.9" r="0.49" fill="#fff"/><circle cx="85.5" cy="359.0" r="0.74" fill="#fff"/><circle cx="80.2" cy="356.2" r="0.37" fill="#fff"/><circle cx="83.3" cy="356.2" r="0.63" fill="#fff"/><circle cx="84.8" cy="355.0" r="0.38" fill="#fff"/><circle cx="81.3" cy="361.4" r="0.56" fill="#ececec"/><circle cx="80.6" cy="356.6" r="0.41" fill="#fff"/><circle cx="85.4" cy="358.4" r="0.56" fill="#f6f6f6"/><circle cx="86.7" cy="361.8" r="0.49" fill="#f6f6f6"/><circle cx="82.5" cy="361.9" r="0.64" fill="#444"/><circle cx="82.9" cy="356.7" r="0.46" fill="#666"/><circle cx="88.1" cy="357.2" r="0.51" fill="#fff"/><circle cx="85.4" cy="358.3" r="0.48" fill="#fff"/><circle cx="82.0" cy="358.9" r="0.57" fill="#666"/><circle cx="86.9" cy="362.7" r="0.51" fill="#666"/><circle cx="84.4" cy="359.0" r="0.50" fill="#ececec"/><circle cx="84.9" cy="358.9" r="0.71" fill="#ececec"/><circle cx="87.1" cy="358.1" r="0.72" fill="#fff"/><circle cx="84.6" cy="360.6" r="0.75" fill="#fff"/><circle cx="88.4" cy="360.9" r="0.69" fill="#f6f6f6"/><circle cx="88.7" cy="362.9" r="0.51" fill="#fff"/><circle cx="87.3" cy="361.4" r="0.57" fill="#e8e8e8"/><circle cx="85.7" cy="363.3" r="0.54" fill="#fff"/><circle cx="88.5" cy="360.3" r="0.59" fill="#fff"/><circle cx="90.7" cy="358.8" r="0.49" fill="#fff"/><circle cx="84.7" cy="363.6" r="0.60" fill="#666"/><circle cx="89.3" cy="359.7" r="0.62" fill="#fff"/><circle cx="90.9" cy="362.6" r="0.71" fill="#666"/><circle cx="88.0" cy="362.3" r="0.59" fill="#fff"/><circle cx="89.2" cy="364.4" r="0.72" fill="#f6f6f6"/><circle cx="88.9" cy="361.3" r="0.42" fill="#fff"/><circle cx="87.9" cy="362.3" r="0.68" fill="#ececec"/><circle cx="89.1" cy="362.4" r="0.48" fill="#fff"/><circle cx="88.5" cy="363.8" r="0.40" fill="#fff"/><circle cx="87.1" cy="359.9" r="0.50" fill="#f6f6f6"/><circle cx="91.1" cy="361.9" r="0.53" fill="#666"/><circle cx="87.3" cy="361.1" r="0.63" fill="#e8e8e8"/><circle cx="89.7" cy="361.7" r="0.65" fill="#ececec"/><circle cx="88.4" cy="363.3" r="0.55" fill="#fff"/><circle cx="91.7" cy="362.9" r="0.49" fill="#fff"/><circle cx="89.9" cy="359.0" r="0.35" fill="#444"/><circle cx="89.7" cy="363.0" r="0.64" fill="#666"/><circle cx="89.8" cy="361.3" r="0.46" fill="#444"/><circle cx="90.9" cy="362.6" r="0.69" fill="#e8e8e8"/><circle cx="90.0" cy="362.3" r="0.60" fill="#666"/><circle cx="91.1" cy="359.8" r="0.50" fill="#e8e8e8"/><circle cx="88.9" cy="364.4" r="0.52" fill="#fff"/><circle cx="93.2" cy="361.5" r="0.50" fill="#444"/><circle cx="93.0" cy="365.8" r="0.74" fill="#444"/><circle cx="94.8" cy="363.6" r="0.62" fill="#f6f6f6"/><circle cx="92.0" cy="360.7" r="0.50" fill="#e8e8e8"/><circle cx="93.3" cy="363.4" r="0.39" fill="#fff"/><circle cx="93.5" cy="366.2" r="0.52" fill="#fff"/><circle cx="93.6" cy="366.2" r="0.51" fill="#e8e8e8"/><circle cx="91.4" cy="365.4" r="0.62" fill="#fff"/><circle cx="95.3" cy="363.1" r="0.72" fill="#fff"/><circle cx="93.1" cy="363.0" r="0.66" fill="#fff"/><circle cx="92.0" cy="362.3" r="0.58" fill="#f6f6f6"/><circle cx="91.3" cy="364.1" r="0.58" fill="#444"/><circle cx="92.2" cy="365.5" r="0.54" fill="#fff"/><circle cx="92.2" cy="365.6" r="0.69" fill="#fff"/><circle cx="92.7" cy="363.8" r="0.70" fill="#fff"/><circle cx="93.4" cy="363.7" r="0.74" fill="#fff"/><circle cx="93.6" cy="365.0" r="0.45" fill="#fff"/><circle cx="94.4" cy="363.2" r="0.57" fill="#666"/><circle cx="96.3" cy="364.5" r="0.47" fill="#fff"/><circle cx="94.7" cy="364.3" r="0.69" fill="#fff"/><circle cx="94.7" cy="363.2" r="0.43" fill="#fff"/><circle cx="97.8" cy="368.1" r="0.63" fill="#e8e8e8"/><circle cx="94.6" cy="368.1" r="0.43" fill="#fff"/><circle cx="99.5" cy="365.7" r="0.64" fill="#fff"/><circle cx="94.4" cy="363.0" r="0.36" fill="#fff"/><circle cx="95.7" cy="365.3" r="0.63" fill="#444"/><circle cx="99.4" cy="366.3" r="0.51" fill="#e8e8e8"/><circle cx="99.5" cy="364.2" r="0.37" fill="#444"/><circle cx="97.7" cy="366.9" r="0.40" fill="#fff"/><circle cx="100.5" cy="368.0" r="0.42" fill="#e8e8e8"/><circle cx="101.4" cy="366.7" r="0.55" fill="#ececec"/><circle cx="99.8" cy="367.4" r="0.67" fill="#666"/><circle cx="99.0" cy="364.2" r="0.56" fill="#444"/><circle cx="99.2" cy="364.8" r="0.73" fill="#f6f6f6"/><circle cx="98.8" cy="367.7" r="0.63" fill="#666"/><circle cx="99.0" cy="366.2" r="0.72" fill="#fff"/><circle cx="97.7" cy="364.9" r="0.47" fill="#e8e8e8"/><circle cx="98.3" cy="367.5" r="0.63" fill="#fff"/><circle cx="101.4" cy="365.8" r="0.48" fill="#666"/><circle cx="102.8" cy="365.1" r="0.51" fill="#444"/><circle cx="97.8" cy="366.5" r="0.44" fill="#666"/><circle cx="101.0" cy="364.7" r="0.41" fill="#e8e8e8"/><circle cx="99.4" cy="366.5" r="0.40" fill="#fff"/><circle cx="103.4" cy="365.2" r="0.75" fill="#444"/><circle cx="104.1" cy="367.7" r="0.55" fill="#666"/><circle cx="99.0" cy="369.5" r="0.43" fill="#f6f6f6"/><circle cx="100.7" cy="366.5" r="0.65" fill="#fff"/><circle cx="100.2" cy="367.6" r="0.58" fill="#444"/><circle cx="101.5" cy="368.5" r="0.74" fill="#f6f6f6"/><circle cx="101.8" cy="370.8" r="0.37" fill="#666"/><circle cx="101.7" cy="367.7" r="0.48" fill="#444"/><circle cx="102.6" cy="365.8" r="0.67" fill="#666"/><circle cx="104.8" cy="368.0" r="0.40" fill="#fff"/><circle cx="101.3" cy="367.6" r="0.36" fill="#fff"/><circle cx="104.2" cy="366.0" r="0.52" fill="#ececec"/><circle cx="106.2" cy="365.8" r="0.49" fill="#ececec"/><circle cx="105.1" cy="365.9" r="0.69" fill="#fff"/><circle cx="107.1" cy="368.6" r="0.45" fill="#ececec"/><circle cx="102.3" cy="367.1" r="0.55" fill="#ececec"/><circle cx="105.0" cy="366.4" r="0.45" fill="#e8e8e8"/><circle cx="105.9" cy="366.1" r="0.50" fill="#666"/><circle cx="103.6" cy="368.4" r="0.75" fill="#444"/><circle cx="108.0" cy="370.4" r="0.55" fill="#fff"/><circle cx="108.6" cy="366.2" r="0.55" fill="#fff"/><circle cx="108.0" cy="369.7" r="0.38" fill="#444"/><circle cx="104.1" cy="371.4" r="0.52" fill="#fff"/><circle cx="107.6" cy="367.0" r="0.38" fill="#f6f6f6"/><circle cx="107.3" cy="367.8" r="0.63" fill="#fff"/><circle cx="104.1" cy="367.9" r="0.74" fill="#fff"/><circle cx="104.6" cy="370.5" r="0.68" fill="#ececec"/><circle cx="106.5" cy="371.7" r="0.59" fill="#e8e8e8"/><circle cx="105.5" cy="368.6" r="0.66" fill="#fff"/><circle cx="105.2" cy="371.8" r="0.64" fill="#ececec"/><circle cx="109.3" cy="367.8" r="0.66" fill="#fff"/><circle cx="106.3" cy="372.7" r="0.63" fill="#fff"/><circle cx="106.1" cy="367.1" r="0.37" fill="#e8e8e8"/><circle cx="109.0" cy="369.2" r="0.65" fill="#f6f6f6"/><circle cx="109.7" cy="368.3" r="0.69" fill="#fff"/><circle cx="111.4" cy="367.9" r="0.58" fill="#fff"/><circle cx="111.5" cy="370.5" r="0.40" fill="#e8e8e8"/><circle cx="111.6" cy="373.3" r="0.65" fill="#fff"/><circle cx="112.3" cy="372.7" r="0.52" fill="#ececec"/><circle cx="112.3" cy="372.6" r="0.47" fill="#fff"/><circle cx="113.1" cy="371.0" r="0.38" fill="#f6f6f6"/><circle cx="112.7" cy="372.9" r="0.45" fill="#444"/><circle cx="111.5" cy="371.4" r="0.58" fill="#e8e8e8"/><circle cx="113.7" cy="373.5" r="0.51" fill="#fff"/><circle cx="113.4" cy="373.1" r="0.68" fill="#fff"/><circle cx="111.0" cy="368.6" r="0.62" fill="#fff"/><circle cx="114.2" cy="370.8" r="0.35" fill="#666"/><circle cx="112.2" cy="368.4" r="0.70" fill="#f6f6f6"/><circle cx="112.1" cy="370.9" r="0.53" fill="#666"/><circle cx="111.2" cy="369.7" r="0.51" fill="#fff"/><circle cx="112.7" cy="368.8" r="0.39" fill="#fff"/><circle cx="111.5" cy="373.0" r="0.51" fill="#e8e8e8"/><circle cx="113.2" cy="370.1" r="0.62" fill="#444"/><circle cx="110.7" cy="374.1" r="0.51" fill="#ececec"/><circle cx="112.6" cy="369.8" r="0.44" fill="#ececec"/><circle cx="116.1" cy="372.7" r="0.47" fill="#fff"/><circle cx="113.2" cy="374.7" r="0.69" fill="#444"/><circle cx="117.3" cy="371.6" r="0.35" fill="#fff"/><circle cx="112.2" cy="375.1" r="0.58" fill="#e8e8e8"/><circle cx="116.0" cy="374.0" r="0.74" fill="#f6f6f6"/><circle cx="116.5" cy="374.1" r="0.40" fill="#fff"/><circle cx="116.6" cy="370.9" r="0.38" fill="#fff"/><circle cx="116.5" cy="372.3" r="0.49" fill="#666"/><circle cx="116.7" cy="373.5" r="0.73" fill="#fff"/><circle cx="117.7" cy="369.9" r="0.55" fill="#e8e8e8"/><circle cx="117.6" cy="369.8" r="0.57" fill="#f6f6f6"/><circle cx="116.1" cy="374.5" r="0.64" fill="#ececec"/><circle cx="118.0" cy="369.9" r="0.54" fill="#fff"/><circle cx="113.9" cy="375.9" r="0.41" fill="#666"/><circle cx="117.6" cy="373.6" r="0.75" fill="#fff"/><circle cx="115.0" cy="373.7" r="0.60" fill="#666"/><circle cx="116.1" cy="375.1" r="0.52" fill="#fff"/><circle cx="120.8" cy="374.3" r="0.55" fill="#fff"/><circle cx="120.8" cy="372.4" r="0.48" fill="#666"/><circle cx="120.6" cy="373.5" r="0.67" fill="#fff"/><circle cx="117.5" cy="371.2" r="0.67" fill="#fff"/><circle cx="115.7" cy="372.3" r="0.42" fill="#fff"/><circle cx="118.0" cy="370.9" r="0.74" fill="#666"/><circle cx="120.9" cy="372.8" r="0.46" fill="#ececec"/><circle cx="121.6" cy="373.6" r="0.72" fill="#fff"/><circle cx="119.2" cy="375.1" r="0.51" fill="#fff"/><circle cx="119.1" cy="376.9" r="0.39" fill="#666"/><circle cx="122.6" cy="374.7" r="0.68" fill="#fff"/><circle cx="121.4" cy="375.9" r="0.37" fill="#fff"/><circle cx="119.2" cy="374.4" r="0.69" fill="#fff"/><circle cx="120.0" cy="371.5" r="0.50" fill="#fff"/><circle cx="123.9" cy="374.5" r="0.69" fill="#666"/><circle cx="118.9" cy="374.0" r="0.37" fill="#fff"/><circle cx="123.3" cy="374.8" r="0.59" fill="#fff"/><circle cx="121.1" cy="377.6" r="0.70" fill="#f6f6f6"/><circle cx="119.4" cy="375.2" r="0.68" fill="#fff"/><circle cx="123.3" cy="377.3" r="0.61" fill="#ececec"/><circle cx="125.6" cy="375.6" r="0.66" fill="#f6f6f6"/><circle cx="122.0" cy="377.5" r="0.51" fill="#fff"/><circle cx="122.6" cy="373.7" r="0.63" fill="#ececec"/><circle cx="121.1" cy="376.4" r="0.62" fill="#fff"/><circle cx="125.8" cy="372.7" r="0.62" fill="#fff"/><circle cx="126.0" cy="372.3" r="0.69" fill="#fff"/><circle cx="125.1" cy="375.7" r="0.44" fill="#fff"/><circle cx="125.5" cy="377.0" r="0.41" fill="#ececec"/><circle cx="125.1" cy="376.8" r="0.40" fill="#fff"/><circle cx="123.4" cy="372.5" r="0.70" fill="#fff"/><circle cx="122.4" cy="376.7" r="0.59" fill="#fff"/><circle cx="123.3" cy="372.7" r="0.46" fill="#fff"/><circle cx="123.6" cy="373.9" r="0.49" fill="#f6f6f6"/><circle cx="125.8" cy="378.0" r="0.49" fill="#f6f6f6"/><circle cx="126.7" cy="372.9" r="0.44" fill="#fff"/><circle cx="125.8" cy="377.4" r="0.46" fill="#e8e8e8"/><circle cx="123.4" cy="375.5" r="0.59" fill="#fff"/><circle cx="123.2" cy="376.0" r="0.39" fill="#e8e8e8"/><circle cx="125.1" cy="376.8" r="0.74" fill="#fff"/><circle cx="127.0" cy="374.3" r="0.67" fill="#fff"/><circle cx="125.0" cy="378.1" r="0.64" fill="#fff"/><circle cx="125.8" cy="374.2" r="0.46" fill="#fff"/><circle cx="126.7" cy="379.0" r="0.64" fill="#666"/><circle cx="128.0" cy="375.6" r="0.73" fill="#fff"/><circle cx="127.6" cy="377.4" r="0.67" fill="#fff"/><circle cx="131.0" cy="375.3" r="0.38" fill="#666"/><circle cx="128.0" cy="374.1" r="0.74" fill="#e8e8e8"/><circle cx="131.2" cy="377.3" r="0.49" fill="#444"/><circle cx="126.9" cy="376.0" r="0.65" fill="#666"/><circle cx="126.2" cy="379.1" r="0.53" fill="#fff"/><circle cx="127.7" cy="378.1" r="0.66" fill="#444"/><circle cx="127.7" cy="378.4" r="0.65" fill="#666"/><circle cx="132.3" cy="379.4" r="0.38" fill="#fff"/><circle cx="128.4" cy="374.0" r="0.46" fill="#fff"/><circle cx="129.3" cy="374.9" r="0.75" fill="#fff"/><circle cx="129.0" cy="374.2" r="0.63" fill="#ececec"/><circle cx="130.4" cy="374.3" r="0.66" fill="#e8e8e8"/><circle cx="129.9" cy="379.4" r="0.66" fill="#fff"/><circle cx="130.7" cy="380.2" r="0.67" fill="#fff"/><circle cx="131.4" cy="379.4" r="0.69" fill="#ececec"/><circle cx="131.7" cy="375.9" r="0.43" fill="#fff"/><circle cx="130.0" cy="374.5" r="0.63" fill="#444"/><circle cx="134.9" cy="380.6" r="0.66" fill="#fff"/><circle cx="133.6" cy="375.5" r="0.40" fill="#fff"/><circle cx="129.2" cy="375.9" r="0.50" fill="#fff"/><circle cx="129.9" cy="379.9" r="0.54" fill="#f6f6f6"/><circle cx="130.1" cy="380.2" r="0.72" fill="#fff"/><circle cx="135.1" cy="376.8" r="0.70" fill="#fff"/><circle cx="133.5" cy="378.9" r="0.35" fill="#444"/><circle cx="131.7" cy="377.1" r="0.39" fill="#f6f6f6"/><circle cx="135.9" cy="380.8" r="0.53" fill="#e8e8e8"/><circle cx="134.8" cy="379.1" r="0.65" fill="#e8e8e8"/><circle cx="134.7" cy="379.6" r="0.42" fill="#e8e8e8"/><circle cx="135.2" cy="380.5" r="0.64" fill="#444"/><circle cx="134.7" cy="380.8" r="0.40" fill="#ececec"/><circle cx="134.9" cy="377.7" r="0.67" fill="#444"/><circle cx="137.3" cy="375.4" r="0.60" fill="#444"/><circle cx="137.1" cy="375.8" r="0.71" fill="#f6f6f6"/><circle cx="133.7" cy="375.6" r="0.37" fill="#e8e8e8"/><circle cx="134.0" cy="381.3" r="0.66" fill="#444"/><circle cx="133.5" cy="379.2" r="0.46" fill="#fff"/><circle cx="134.1" cy="375.9" r="0.65" fill="#f6f6f6"/><circle cx="138.6" cy="376.4" r="0.67" fill="#ececec"/><circle cx="134.9" cy="379.1" r="0.55" fill="#f6f6f6"/><circle cx="139.7" cy="378.3" r="0.38" fill="#fff"/><circle cx="134.1" cy="380.0" r="0.55" fill="#f6f6f6"/><circle cx="138.3" cy="379.8" r="0.38" fill="#fff"/><circle cx="134.9" cy="379.5" r="0.53" fill="#666"/><circle cx="138.6" cy="379.6" r="0.36" fill="#444"/><circle cx="140.3" cy="381.4" r="0.43" fill="#e8e8e8"/><circle cx="139.5" cy="380.9" r="0.74" fill="#fff"/><circle cx="139.0" cy="376.9" r="0.49" fill="#fff"/><circle cx="136.5" cy="381.1" r="0.39" fill="#f6f6f6"/><circle cx="137.6" cy="378.5" r="0.41" fill="#666"/><circle cx="139.6" cy="382.6" r="0.35" fill="#444"/><circle cx="137.0" cy="377.5" r="0.56" fill="#444"/><circle cx="139.3" cy="379.3" r="0.72" fill="#444"/><circle cx="141.0" cy="381.7" r="0.68" fill="#fff"/><circle cx="141.6" cy="377.2" r="0.69" fill="#ececec"/><circle cx="139.9" cy="382.4" r="0.60" fill="#ececec"/><circle cx="139.0" cy="378.6" r="0.45" fill="#ececec"/><circle cx="139.8" cy="379.4" r="0.50" fill="#fff"/><circle cx="138.9" cy="378.2" r="0.65" fill="#e8e8e8"/><circle cx="143.0" cy="383.3" r="0.46" fill="#fff"/><circle cx="140.1" cy="380.0" r="0.49" fill="#fff"/><circle cx="141.9" cy="379.6" r="0.35" fill="#fff"/><circle cx="143.3" cy="378.9" r="0.67" fill="#fff"/><circle cx="142.5" cy="378.3" r="0.52" fill="#fff"/><circle cx="141.3" cy="378.1" r="0.74" fill="#f6f6f6"/><circle cx="140.3" cy="380.9" r="0.45" fill="#fff"/><circle cx="145.5" cy="383.5" r="0.63" fill="#fff"/><circle cx="145.8" cy="378.4" r="0.44" fill="#444"/><circle cx="144.5" cy="383.2" r="0.52" fill="#666"/><circle cx="141.4" cy="383.8" r="0.60" fill="#e8e8e8"/><circle cx="141.6" cy="383.8" r="0.65" fill="#666"/><circle cx="142.1" cy="379.6" r="0.39" fill="#fff"/><circle cx="146.5" cy="382.1" r="0.61" fill="#ececec"/><circle cx="144.9" cy="382.5" r="0.38" fill="#666"/><circle cx="145.7" cy="381.5" r="0.49" fill="#f6f6f6"/><circle cx="142.9" cy="379.2" r="0.61" fill="#e8e8e8"/><circle cx="145.1" cy="383.8" r="0.42" fill="#e8e8e8"/><circle cx="142.6" cy="380.3" r="0.63" fill="#fff"/><circle cx="143.7" cy="384.7" r="0.69" fill="#f6f6f6"/><circle cx="145.4" cy="380.7" r="0.36" fill="#444"/><circle cx="147.6" cy="380.1" r="0.67" fill="#444"/><circle cx="147.4" cy="380.6" r="0.69" fill="#fff"/><circle cx="143.8" cy="379.5" r="0.61" fill="#666"/><circle cx="144.4" cy="379.8" r="0.68" fill="#f6f6f6"/><circle cx="144.4" cy="380.7" r="0.58" fill="#f6f6f6"/><circle cx="145.4" cy="379.6" r="0.46" fill="#fff"/><circle cx="149.6" cy="384.8" r="0.50" fill="#fff"/><circle cx="149.0" cy="380.3" r="0.50" fill="#666"/><circle cx="145.7" cy="383.4" r="0.71" fill="#444"/><circle cx="145.7" cy="384.0" r="0.44" fill="#fff"/><circle cx="146.5" cy="381.0" r="0.69" fill="#fff"/><circle cx="146.8" cy="385.0" r="0.70" fill="#666"/><circle cx="145.7" cy="383.7" r="0.44" fill="#fff"/><circle cx="146.2" cy="382.5" r="0.39" fill="#f6f6f6"/><circle cx="149.4" cy="382.9" r="0.40" fill="#fff"/><circle cx="148.9" cy="381.0" r="0.52" fill="#444"/><circle cx="147.1" cy="381.3" r="0.49" fill="#666"/><circle cx="149.5" cy="385.8" r="0.37" fill="#fff"/><circle cx="149.8" cy="383.0" r="0.58" fill="#444"/><circle cx="152.6" cy="386.2" r="0.39" fill="#fff"/><circle cx="153.0" cy="383.5" r="0.56" fill="#444"/><circle cx="150.4" cy="382.3" r="0.38" fill="#f6f6f6"/><circle cx="149.6" cy="386.2" r="0.66" fill="#e8e8e8"/><circle cx="148.8" cy="385.5" r="0.39" fill="#fff"/><circle cx="149.7" cy="385.3" r="0.40" fill="#f6f6f6"/><circle cx="154.6" cy="383.7" r="0.55" fill="#ececec"/><circle cx="152.5" cy="385.7" r="0.61" fill="#fff"/><circle cx="152.9" cy="381.0" r="0.66" fill="#444"/><circle cx="153.4" cy="381.9" r="0.41" fill="#fff"/><circle cx="154.2" cy="386.8" r="0.69" fill="#fff"/><circle cx="151.6" cy="386.5" r="0.63" fill="#ececec"/><circle cx="150.2" cy="384.1" r="0.53" fill="#f6f6f6"/><circle cx="155.2" cy="383.0" r="0.69" fill="#ececec"/><circle cx="151.9" cy="383.2" r="0.73" fill="#444"/><circle cx="153.2" cy="385.6" r="0.49" fill="#fff"/><circle cx="153.7" cy="381.9" r="0.55" fill="#fff"/><circle cx="156.4" cy="384.5" r="0.60" fill="#444"/><circle cx="152.7" cy="386.8" r="0.47" fill="#444"/><circle cx="156.1" cy="383.4" r="0.36" fill="#fff"/><circle cx="152.5" cy="384.3" r="0.58" fill="#fff"/><circle cx="156.7" cy="383.4" r="0.41" fill="#fff"/><circle cx="157.0" cy="385.7" r="0.57" fill="#e8e8e8"/><circle cx="156.4" cy="382.8" r="0.57" fill="#444"/><circle cx="154.4" cy="384.8" r="0.75" fill="#ececec"/><circle cx="153.6" cy="384.2" r="0.42" fill="#fff"/><circle cx="155.3" cy="382.7" r="0.67" fill="#e8e8e8"/><circle cx="155.0" cy="385.9" r="0.69" fill="#444"/><circle cx="159.2" cy="384.1" r="0.39" fill="#fff"/><circle cx="156.1" cy="387.4" r="0.71" fill="#fff"/><circle cx="154.5" cy="387.2" r="0.70" fill="#ececec"/><circle cx="156.6" cy="385.9" r="0.67" fill="#666"/><circle cx="158.0" cy="385.8" r="0.53" fill="#f6f6f6"/><circle cx="157.8" cy="386.1" r="0.71" fill="#fff"/><circle cx="160.6" cy="384.1" r="0.59" fill="#f6f6f6"/><circle cx="156.3" cy="385.2" r="0.61" fill="#666"/><circle cx="157.9" cy="388.9" r="0.62" fill="#666"/><circle cx="155.9" cy="387.6" r="0.43" fill="#e8e8e8"/><circle cx="157.4" cy="388.7" r="0.54" fill="#e8e8e8"/><circle cx="160.2" cy="387.7" r="0.54" fill="#ececec"/><circle cx="158.1" cy="389.3" r="0.39" fill="#fff"/><circle cx="162.0" cy="386.7" r="0.73" fill="#fff"/><circle cx="162.2" cy="385.1" r="0.50" fill="#fff"/><circle cx="159.8" cy="385.9" r="0.61" fill="#444"/><circle cx="162.1" cy="384.3" r="0.40" fill="#fff"/><circle cx="159.9" cy="386.4" r="0.54" fill="#f6f6f6"/><circle cx="160.2" cy="385.9" r="0.49" fill="#fff"/><circle cx="161.7" cy="386.5" r="0.67" fill="#ececec"/><circle cx="162.3" cy="388.2" r="0.51" fill="#ececec"/><circle cx="158.9" cy="387.9" r="0.68" fill="#666"/><circle cx="162.0" cy="387.9" r="0.50" fill="#444"/><circle cx="163.9" cy="388.3" r="0.68" fill="#ececec"/><circle cx="162.4" cy="389.5" r="0.43" fill="#fff"/><circle cx="158.9" cy="387.6" r="0.46" fill="#fff"/><circle cx="159.9" cy="384.6" r="0.38" fill="#ececec"/><circle cx="161.0" cy="385.6" r="0.46" fill="#ececec"/><circle cx="163.8" cy="390.5" r="0.36" fill="#fff"/><circle cx="160.7" cy="385.3" r="0.41" fill="#444"/><circle cx="162.2" cy="387.9" r="0.47" fill="#fff"/><circle cx="164.7" cy="390.0" r="0.37" fill="#fff"/><circle cx="161.4" cy="385.9" r="0.38" fill="#f6f6f6"/><circle cx="161.2" cy="390.7" r="0.67" fill="#ececec"/><circle cx="165.3" cy="386.9" r="0.41" fill="#e8e8e8"/><circle cx="165.2" cy="391.0" r="0.65" fill="#fff"/><circle cx="166.6" cy="387.6" r="0.64" fill="#666"/><circle cx="163.0" cy="389.8" r="0.39" fill="#e8e8e8"/><circle cx="165.8" cy="386.3" r="0.67" fill="#e8e8e8"/><circle cx="167.0" cy="386.6" r="0.68" fill="#f6f6f6"/><circle cx="165.1" cy="387.8" r="0.43" fill="#fff"/><circle cx="166.5" cy="386.0" r="0.45" fill="#e8e8e8"/><circle cx="164.6" cy="387.9" r="0.48" fill="#fff"/><circle cx="163.4" cy="386.7" r="0.44" fill="#fff"/><circle cx="165.5" cy="389.3" r="0.60" fill="#e8e8e8"/><circle cx="169.1" cy="386.7" r="0.75" fill="#666"/><circle cx="169.1" cy="386.3" r="0.44" fill="#fff"/><circle cx="169.0" cy="390.6" r="0.51" fill="#666"/><circle cx="167.5" cy="387.5" r="0.39" fill="#fff"/><circle cx="164.7" cy="388.7" r="0.42" fill="#ececec"/><circle cx="168.9" cy="387.3" r="0.43" fill="#fff"/><circle cx="165.8" cy="388.8" r="0.70" fill="#fff"/><circle cx="169.2" cy="388.6" r="0.66" fill="#666"/><circle cx="166.5" cy="386.4" r="0.52" fill="#fff"/><circle cx="166.2" cy="390.7" r="0.44" fill="#fff"/><circle cx="167.7" cy="388.8" r="0.66" fill="#fff"/><circle cx="168.7" cy="388.8" r="0.60" fill="#fff"/><circle cx="167.2" cy="388.8" r="0.40" fill="#666"/><circle cx="171.6" cy="391.7" r="0.40" fill="#fff"/><circle cx="170.0" cy="389.9" r="0.61" fill="#666"/><circle cx="172.3" cy="390.2" r="0.52" fill="#fff"/><circle cx="167.8" cy="388.6" r="0.64" fill="#f6f6f6"/><circle cx="172.3" cy="386.6" r="0.56" fill="#ececec"/><circle cx="172.1" cy="388.3" r="0.59" fill="#fff"/><circle cx="170.3" cy="387.8" r="0.66" fill="#fff"/><circle cx="171.2" cy="388.6" r="0.71" fill="#f6f6f6"/><circle cx="171.4" cy="389.8" r="0.45" fill="#f6f6f6"/><circle cx="173.0" cy="391.8" r="0.54" fill="#fff"/><circle cx="175.0" cy="390.3" r="0.65" fill="#666"/><circle cx="171.7" cy="387.9" r="0.65" fill="#ececec"/><circle cx="174.7" cy="389.6" r="0.49" fill="#fff"/><circle cx="171.5" cy="388.4" r="0.68" fill="#e8e8e8"/><circle cx="174.1" cy="392.6" r="0.48" fill="#fff"/><circle cx="174.3" cy="391.9" r="0.61" fill="#444"/><circle cx="171.1" cy="387.0" r="0.58" fill="#444"/><circle cx="170.8" cy="391.5" r="0.71" fill="#fff"/><circle cx="176.4" cy="389.0" r="0.68" fill="#fff"/><circle cx="173.0" cy="389.3" r="0.60" fill="#fff"/><circle cx="173.8" cy="388.8" r="0.36" fill="#444"/><circle cx="175.4" cy="391.6" r="0.68" fill="#444"/><circle cx="175.9" cy="387.6" r="0.65" fill="#ececec"/><circle cx="176.9" cy="388.8" r="0.50" fill="#fff"/><circle cx="177.1" cy="388.1" r="0.64" fill="#fff"/><circle cx="176.8" cy="387.8" r="0.69" fill="#ececec"/><circle cx="178.0" cy="388.3" r="0.61" fill="#fff"/><circle cx="173.2" cy="392.6" r="0.74" fill="#fff"/><circle cx="179.1" cy="390.4" r="0.66" fill="#e8e8e8"/><circle cx="178.7" cy="388.9" r="0.49" fill="#fff"/><circle cx="174.0" cy="388.3" r="0.71" fill="#fff"/><circle cx="174.4" cy="390.0" r="0.55" fill="#f6f6f6"/><circle cx="174.6" cy="392.8" r="0.47" fill="#fff"/><circle cx="177.1" cy="390.0" r="0.48" fill="#e8e8e8"/><circle cx="177.0" cy="392.8" r="0.58" fill="#fff"/><circle cx="175.6" cy="391.4" r="0.38" fill="#fff"/><circle cx="177.6" cy="388.0" r="0.43" fill="#444"/><circle cx="177.8" cy="390.2" r="0.61" fill="#f6f6f6"/><circle cx="179.0" cy="390.8" r="0.36" fill="#fff"/><circle cx="176.5" cy="393.9" r="0.56" fill="#ececec"/><circle cx="181.2" cy="392.8" r="0.39" fill="#fff"/><circle cx="181.0" cy="391.8" r="0.44" fill="#fff"/><circle cx="181.5" cy="394.0" r="0.41" fill="#fff"/><circle cx="180.8" cy="388.8" r="0.43" fill="#fff"/><circle cx="178.9" cy="390.3" r="0.55" fill="#ececec"/><circle cx="181.5" cy="388.5" r="0.59" fill="#ececec"/><circle cx="180.0" cy="393.3" r="0.42" fill="#ececec"/><circle cx="183.1" cy="391.7" r="0.70" fill="#f6f6f6"/><circle cx="179.9" cy="393.8" r="0.55" fill="#444"/><circle cx="183.7" cy="393.5" r="0.55" fill="#444"/><circle cx="183.9" cy="391.8" r="0.41" fill="#ececec"/><circle cx="181.1" cy="388.7" r="0.59" fill="#ececec"/><circle cx="180.7" cy="390.2" r="0.44" fill="#fff"/><circle cx="182.9" cy="389.0" r="0.67" fill="#fff"/><circle cx="184.4" cy="389.6" r="0.57" fill="#444"/><circle cx="181.3" cy="393.5" r="0.59" fill="#444"/><circle cx="185.1" cy="389.9" r="0.65" fill="#f6f6f6"/><circle cx="184.0" cy="392.8" r="0.68" fill="#666"/><circle cx="183.1" cy="391.7" r="0.73" fill="#e8e8e8"/><circle cx="183.2" cy="389.3" r="0.71" fill="#f6f6f6"/><circle cx="183.9" cy="391.2" r="0.53" fill="#fff"/><circle cx="185.0" cy="394.6" r="0.51" fill="#fff"/><circle cx="185.5" cy="394.6" r="0.41" fill="#444"/><circle cx="183.7" cy="392.4" r="0.47" fill="#666"/><circle cx="185.7" cy="391.5" r="0.43" fill="#ececec"/><circle cx="183.9" cy="391.9" r="0.52" fill="#ececec"/><circle cx="186.9" cy="393.4" r="0.54" fill="#e8e8e8"/><circle cx="184.4" cy="392.0" r="0.59" fill="#e8e8e8"/><circle cx="183.6" cy="390.0" r="0.49" fill="#f6f6f6"/><circle cx="185.0" cy="389.5" r="0.49" fill="#f6f6f6"/><circle cx="185.9" cy="391.1" r="0.61" fill="#fff"/><circle cx="186.1" cy="393.9" r="0.35" fill="#fff"/><circle cx="188.3" cy="393.3" r="0.55" fill="#fff"/><circle cx="188.2" cy="393.1" r="0.60" fill="#fff"/><circle cx="185.1" cy="392.9" r="0.73" fill="#fff"/><circle cx="185.0" cy="391.3" r="0.67" fill="#fff"/><circle cx="188.3" cy="393.1" r="0.67" fill="#fff"/><circle cx="185.8" cy="392.4" r="0.46" fill="#ececec"/><circle cx="185.7" cy="394.4" r="0.60" fill="#fff"/><circle cx="190.2" cy="391.9" r="0.50" fill="#666"/><circle cx="190.7" cy="391.4" r="0.67" fill="#fff"/><circle cx="187.5" cy="394.7" r="0.48" fill="#f6f6f6"/><circle cx="188.5" cy="392.9" r="0.36" fill="#666"/><circle cx="190.8" cy="389.9" r="0.35" fill="#fff"/><circle cx="191.3" cy="391.1" r="0.41" fill="#e8e8e8"/><circle cx="190.9" cy="389.7" r="0.43" fill="#444"/><circle cx="191.2" cy="390.4" r="0.44" fill="#666"/><circle cx="187.4" cy="391.0" r="0.73" fill="#f6f6f6"/><circle cx="190.8" cy="394.8" r="0.66" fill="#f6f6f6"/><circle cx="188.6" cy="394.3" r="0.65" fill="#fff"/><circle cx="192.6" cy="391.8" r="0.60" fill="#f6f6f6"/><circle cx="192.4" cy="390.7" r="0.74" fill="#ececec"/><circle cx="188.7" cy="390.1" r="0.37" fill="#f6f6f6"/><circle cx="190.3" cy="393.6" r="0.39" fill="#ececec"/><circle cx="190.1" cy="390.8" r="0.62" fill="#fff"/><circle cx="194.6" cy="391.8" r="0.48" fill="#fff"/><circle cx="191.5" cy="392.3" r="0.74" fill="#e8e8e8"/><circle cx="195.4" cy="393.8" r="0.42" fill="#ececec"/><circle cx="194.8" cy="394.3" r="0.53" fill="#fff"/><circle cx="193.3" cy="394.9" r="0.57" fill="#e8e8e8"/><circle cx="195.5" cy="390.1" r="0.70" fill="#e8e8e8"/><circle cx="193.9" cy="391.8" r="0.55" fill="#fff"/><circle cx="191.4" cy="390.3" r="0.56" fill="#fff"/><circle cx="194.1" cy="393.9" r="0.63" fill="#ececec"/><circle cx="191.4" cy="394.5" r="0.73" fill="#fff"/><circle cx="196.0" cy="392.1" r="0.58" fill="#444"/><circle cx="196.0" cy="392.4" r="0.73" fill="#e8e8e8"/><circle cx="197.1" cy="393.5" r="0.71" fill="#fff"/><circle cx="193.1" cy="395.6" r="0.67" fill="#444"/><circle cx="197.1" cy="394.7" r="0.48" fill="#fff"/><circle cx="196.9" cy="391.7" r="0.41" fill="#fff"/><circle cx="197.4" cy="392.9" r="0.69" fill="#666"/><circle cx="198.8" cy="393.0" r="0.41" fill="#fff"/><circle cx="197.6" cy="393.4" r="0.58" fill="#666"/><circle cx="195.8" cy="395.4" r="0.59" fill="#f6f6f6"/><circle cx="194.9" cy="392.5" r="0.59" fill="#f6f6f6"/><circle cx="196.5" cy="395.2" r="0.38" fill="#666"/><circle cx="196.6" cy="392.4" r="0.55" fill="#fff"/><circle cx="198.8" cy="391.7" r="0.46" fill="#666"/><circle cx="196.9" cy="395.5" r="0.75" fill="#fff"/><circle cx="197.2" cy="393.6" r="0.53" fill="#666"/><circle cx="200.3" cy="392.7" r="0.73" fill="#e8e8e8"/><circle cx="195.9" cy="395.1" r="0.37" fill="#666"/><circle cx="200.9" cy="393.5" r="0.49" fill="#ececec"/><circle cx="200.9" cy="395.2" r="0.68" fill="#666"/><circle cx="196.5" cy="393.2" r="0.38" fill="#f6f6f6"/><circle cx="200.6" cy="395.4" r="0.54" fill="#444"/><circle cx="199.6" cy="394.5" r="0.49" fill="#666"/><circle cx="202.0" cy="391.7" r="0.61" fill="#ececec"/><circle cx="201.1" cy="394.1" r="0.45" fill="#fff"/><circle cx="198.7" cy="395.6" r="0.54" fill="#444"/><circle cx="201.9" cy="392.1" r="0.44" fill="#fff"/><circle cx="202.6" cy="394.0" r="0.60" fill="#f6f6f6"/><circle cx="201.3" cy="395.3" r="0.43" fill="#e8e8e8"/><circle cx="200.7" cy="393.3" r="0.62" fill="#fff"/><circle cx="202.4" cy="392.1" r="0.54" fill="#e8e8e8"/><circle cx="202.0" cy="391.9" r="0.41" fill="#666"/><circle cx="202.8" cy="393.8" r="0.71" fill="#fff"/><circle cx="204.0" cy="395.6" r="0.55" fill="#e8e8e8"/><circle cx="201.3" cy="392.9" r="0.55" fill="#fff"/><circle cx="205.0" cy="392.7" r="0.70" fill="#fff"/><circle cx="201.9" cy="395.9" r="0.55" fill="#ececec"/><circle cx="202.1" cy="392.7" r="0.42" fill="#fff"/><circle cx="204.6" cy="392.7" r="0.40" fill="#e8e8e8"/><circle cx="202.1" cy="394.3" r="0.54" fill="#fff"/><circle cx="206.1" cy="392.1" r="0.49" fill="#ececec"/><circle cx="204.5" cy="392.7" r="0.63" fill="#444"/><circle cx="204.4" cy="393.3" r="0.57" fill="#444"/><circle cx="203.2" cy="393.8" r="0.65" fill="#f6f6f6"/><circle cx="203.3" cy="391.7" r="0.72" fill="#666"/><circle cx="207.2" cy="394.6" r="0.46" fill="#fff"/><circle cx="207.8" cy="391.7" r="0.48" fill="#666"/><circle cx="205.7" cy="391.3" r="0.49" fill="#fff"/><circle cx="206.4" cy="393.9" r="0.36" fill="#ececec"/><circle cx="204.6" cy="392.2" r="0.39" fill="#444"/><circle cx="208.2" cy="392.7" r="0.73" fill="#fff"/><circle cx="206.9" cy="393.2" r="0.38" fill="#fff"/><circle cx="208.4" cy="396.3" r="0.68" fill="#f6f6f6"/><circle cx="208.7" cy="394.0" r="0.50" fill="#fff"/><circle cx="207.6" cy="396.1" r="0.75" fill="#fff"/><circle cx="208.1" cy="394.7" r="0.50" fill="#ececec"/><circle cx="206.8" cy="392.1" r="0.45" fill="#fff"/><circle cx="205.7" cy="392.2" r="0.39" fill="#ececec"/><circle cx="209.6" cy="392.1" r="0.55" fill="#666"/><circle cx="208.5" cy="394.3" r="0.54" fill="#fff"/><circle cx="209.4" cy="395.1" r="0.52" fill="#444"/><circle cx="207.6" cy="395.3" r="0.71" fill="#444"/><circle cx="208.2" cy="395.4" r="0.59" fill="#e8e8e8"/><circle cx="208.5" cy="393.9" r="0.44" fill="#fff"/><circle cx="210.4" cy="395.7" r="0.75" fill="#e8e8e8"/><circle cx="208.3" cy="391.8" r="0.43" fill="#ececec"/><circle cx="208.4" cy="395.4" r="0.49" fill="#f6f6f6"/><circle cx="208.3" cy="395.4" r="0.55" fill="#f6f6f6"/><circle cx="212.4" cy="392.9" r="0.42" fill="#ececec"/><circle cx="210.0" cy="396.2" r="0.63" fill="#f6f6f6"/><circle cx="210.7" cy="392.6" r="0.55" fill="#fff"/><circle cx="213.4" cy="395.3" r="0.68" fill="#ececec"/><circle cx="212.4" cy="393.2" r="0.48" fill="#fff"/></g>
<polygon points="229.2,389.4 230.0,389.1 230.7,389.2 231.4,387.9 232.2,387.8 232.8,389.2 233.6,389.3 234.3,388.4 235.0,388.6 235.7,389.0 236.5,388.8 237.2,389.2 237.9,387.5 238.6,388.8 239.2,386.5 240.0,389.3 240.6,388.8 241.3,388.6 242.0,389.0 242.6,387.1 243.3,386.1 244.2,389.0 244.8,387.6 245.5,388.0 246.2,388.2 246.9,387.9 247.7,388.3 248.4,388.3 249.1,388.2 249.8,388.4 250.5,388.2 251.2,388.1 251.8,387.8 252.6,388.3 253.3,388.0 253.9,387.6 254.6,387.5 255.4,387.8 256.0,387.3 256.8,387.8 257.4,387.2 258.0,386.0 258.8,386.8 259.5,386.7 260.0,384.8 261.0,387.1 261.7,387.0 262.3,386.5 263.1,386.9 263.6,385.6 264.4,386.2 265.1,386.1 265.8,386.1 266.4,385.8 267.2,386.1 267.9,386.2 268.6,386.1 269.3,385.6 270.1,386.4 270.8,385.9 271.4,385.0 272.1,385.3 272.9,385.5 273.3,383.7 274.3,385.2 275.0,385.4 275.5,384.3 275.8,382.0 277.0,384.9 277.0,381.9 278.2,384.1 278.9,384.0 279.7,384.4 280.3,383.8 281.0,383.6 281.4,382.0 282.4,383.2 283.1,383.0 283.8,382.8 284.4,382.1 285.2,382.6 285.9,382.2 286.4,381.4 287.2,381.7 288.0,382.0 288.6,381.7 289.2,381.5 289.7,380.9 290.5,381.2 290.8,380.2 291.9,380.9 292.2,379.8 293.0,379.8 293.6,379.2 293.2,376.6 295.0,378.8 295.9,379.0 296.5,378.7 296.9,377.9 297.6,377.6 298.1,376.9 299.1,377.2 299.5,376.3 299.1,373.3 300.9,375.9 301.9,376.5 302.6,376.4 302.8,375.0 303.5,374.7 303.7,373.5 305.2,375.3 305.8,374.9 306.0,373.6 306.7,373.2 307.7,374.0 308.1,373.0 308.6,372.5 308.4,369.8 310.0,372.2 310.6,371.7 311.3,371.6 312.2,372.0 312.6,370.9 312.4,368.6 313.9,370.5 314.9,371.0 315.5,370.7 315.8,369.6 316.6,369.6 317.5,370.0 318.2,369.8 318.8,369.4 318.3,366.3 319.8,368.2 319.6,365.5 321.1,367.6 321.8,367.4 322.4,366.9 323.3,367.5 324.1,367.6 324.8,367.5 325.4,367.1 325.9,366.5 326.9,366.9 327.5,366.6 327.8,365.6 328.6,365.7 329.1,365.0 328.9,362.4 330.7,365.2 331.4,365.0 332.1,364.8 331.8,362.2 333.2,363.9 333.6,362.8 333.9,361.8 334.9,362.5 334.9,360.3 336.1,361.6 337.3,362.8 337.7,361.9 338.1,361.0 339.0,361.4 339.5,360.8 340.2,360.6 340.0,358.1 340.4,357.0 342.0,359.4 343.0,360.1 343.7,360.0 343.3,357.0 344.7,358.8 345.3,358.4 346.2,358.7 347.0,358.8 346.0,354.4 348.3,358.1 347.9,355.3 349.0,356.1 350.2,357.2 350.5,356.2 351.1,355.7 352.3,356.7 352.8,356.2 352.6,353.6 353.6,354.2 354.5,354.6 355.2,354.6 355.8,354.0 355.5,351.5 357.5,354.6 357.3,352.1 358.2,352.5 359.4,353.5 360.0,353.0 360.8,353.1 360.7,351.0 361.0,349.9 362.3,351.2 363.0,351.1 363.8,351.3 364.5,351.0 364.6,349.7 365.8,350.8 365.9,349.3 366.3,348.6 366.9,348.3 368.1,349.3 368.8,349.1 368.9,347.5 369.4,347.1 370.3,347.3 369.7,344.3 371.7,346.9 372.8,347.5 373.1,346.4 373.4,345.5 374.3,345.8 375.2,345.9 375.2,344.3 375.8,343.8 376.5,343.8 377.0,343.1 378.0,343.7 378.3,342.6 379.1,342.6 379.8,342.5 379.8,340.7 380.8,341.2 382.0,342.1 383.0,342.5 383.6,342.2 384.2,341.9 384.1,339.8 384.9,339.9 385.8,340.2 385.6,338.3 385.1,335.8 387.2,338.4 388.4,339.3 388.7,338.4 389.0,337.6 389.6,337.2 390.3,337.0 390.3,335.5 391.0,335.4 391.6,335.0 392.8,335.8 393.9,336.3 394.4,335.6 394.1,333.6 394.7,333.2 395.5,333.2 395.8,332.4 395.9,331.5 396.7,331.9 397.5,332.1 398.7,332.9 398.5,331.7 399.0,331.5 399.3,330.7 400.5,331.0 400.0,329.3 400.1,328.2 400.3,327.3 402.6,329.0 402.7,328.0 404.4,329.0 403.4,326.6 404.1,326.4 404.6,325.8 406.4,326.9 406.8,326.3 407.3,325.8 407.5,324.8 405.9,321.7 408.3,323.6 409.3,323.7 409.5,322.8 410.8,323.2 408.9,319.7 412.1,322.5 411.9,321.1 413.2,321.4 413.0,320.1 414.0,320.2 414.2,319.2 414.8,318.8 416.2,319.4 417.0,319.1 417.0,318.0 417.0,317.0 417.9,316.9 418.5,316.4 419.1,316.1 419.7,315.6 421.6,316.7 422.2,316.2 422.3,315.2 423.3,315.2 424.1,314.9 427.2,318.4 426.9,319.2 426.5,319.9 426.0,320.5 425.7,321.2 424.9,321.5 424.5,322.2 424.0,322.8 423.5,323.4 423.1,324.1 422.4,324.4 422.0,325.2 421.9,326.2 420.7,325.9 420.5,326.9 419.8,327.2 419.2,327.6 419.2,328.8 418.4,329.0 417.6,329.1 417.5,330.2 416.4,330.0 415.8,330.4 415.7,331.5 415.2,332.1 414.6,332.4 414.0,332.9 413.7,333.7 412.9,333.9 412.2,334.1 412.0,335.1 411.0,334.9 410.2,335.1 410.3,336.4 409.6,336.6 408.6,336.5 408.3,337.2 407.6,337.6 407.3,338.3 406.8,338.9 405.8,338.7 405.3,339.3 404.7,340.0 404.1,340.6 403.3,340.9 403.0,342.0 401.9,341.9 400.9,341.9 400.4,342.4 399.9,343.0 399.2,343.2 398.9,344.1 398.2,344.3 397.3,344.1 396.7,344.6 396.2,345.1 395.6,345.5 395.1,346.0 394.4,346.2 393.7,346.3 393.1,346.7 392.1,346.6 391.8,347.5 391.1,347.8 390.1,347.4 389.5,348.0 388.8,348.1 388.4,348.9 387.5,348.7 386.9,349.1 386.3,349.4 385.6,349.7 385.2,350.5 384.2,350.1 383.7,350.5 382.9,350.6 382.6,351.6 381.7,351.4 381.3,352.1 380.7,352.5 380.0,352.7 379.2,352.7 378.8,353.4 377.9,353.3 377.3,353.7 376.5,353.7 376.2,354.6 375.4,354.6 374.5,354.3 374.0,355.0 373.3,355.1 372.5,355.2 372.1,356.0 371.5,356.3 371.0,356.9 370.3,357.2 369.4,357.0 368.7,357.4 367.9,357.4 367.1,357.5 366.5,358.0 365.9,358.3 365.2,358.4 364.6,359.1 363.9,359.2 363.1,359.0 362.7,359.9 361.9,359.8 361.3,360.1 360.5,360.1 359.8,360.2 359.3,361.0 358.4,360.7 357.8,361.1 357.1,361.1 356.5,361.6 355.9,362.0 355.3,362.5 354.7,362.8 353.8,362.4 353.2,362.9 352.5,363.1 351.9,363.4 351.2,363.6 350.6,364.0 349.9,364.1 349.1,364.1 348.7,365.0 348.0,365.2 347.1,364.9 346.5,365.3 345.9,365.8 345.3,366.1 344.4,365.9 343.9,366.5 343.3,367.0 342.6,366.9 341.9,367.1 341.2,367.3 340.5,367.4 340.0,368.1 339.3,368.1 338.6,368.2 337.9,368.5 337.4,369.2 336.5,368.7 335.9,369.0 335.3,369.4 334.6,369.6 333.9,369.7 333.5,370.5 332.8,370.7 332.1,370.9 331.3,370.9 330.6,371.0 330.1,371.6 329.4,371.7 328.7,371.7 328.2,372.4 327.4,372.4 326.8,372.7 326.1,372.8 325.3,372.9 324.7,373.1 324.2,373.7 323.5,374.0 322.8,373.9 322.2,374.4 321.4,374.4 320.7,374.6 320.2,375.0 319.4,375.0 318.9,375.7 318.2,375.7 317.4,375.7 316.9,376.3 316.1,376.3 315.6,376.9 314.9,376.9 314.1,377.0 313.6,377.5 312.9,377.8 312.1,377.7 311.5,378.1 310.9,378.4 310.1,378.3 309.6,379.1 309.0,379.3 308.3,379.6 307.5,379.4 306.8,379.6 306.1,379.8 305.7,380.5 304.9,380.5 304.2,380.7 303.6,381.0 303.0,381.5 302.4,381.8 301.5,381.5 301.1,382.2 300.4,382.4 299.7,382.5 299.1,382.9 298.4,383.2 297.7,383.4 297.0,383.6 296.3,383.7 295.6,384.0 294.9,384.2 294.3,384.7 293.8,385.3 293.1,385.4 292.3,385.6 291.5,385.8 290.8,386.3 290.0,386.3 289.3,386.5 288.5,386.7 287.8,386.7 287.1,386.9 286.4,387.4 285.8,387.7 285.0,387.6 284.3,387.6 283.6,388.1 282.9,388.1 282.1,388.0 281.4,388.2 280.8,388.8 280.2,389.0 279.4,389.2 278.6,389.0 277.9,389.4 277.2,389.7 276.4,389.6 275.6,389.5 274.9,390.0 274.2,389.7 273.5,390.0 272.7,389.7 272.1,390.1 271.4,390.4 270.7,390.3 269.9,390.2 269.2,390.3 268.5,390.2 267.8,390.3 267.1,390.6 266.4,390.5 265.7,390.7 265.0,391.1 264.3,391.2 263.5,391.3 262.8,391.1 262.1,391.4 261.4,391.1 260.7,391.4 259.9,391.2 259.3,391.5 258.5,391.2 257.8,391.6 257.1,391.6 256.4,391.5 255.7,391.6 255.0,391.7 254.3,391.8 253.6,391.8 252.9,391.9 252.1,392.0 251.4,392.1 250.7,391.8 250.0,392.0 249.3,391.9 248.6,392.0 247.9,392.1 247.2,392.4 246.5,392.2 245.8,392.4 245.1,392.4 244.3,392.3 243.6,392.4 242.9,392.5 242.2,392.3 241.5,392.5 240.8,392.3 240.0,392.2 239.3,392.6 238.6,392.4 237.8,392.2 237.1,392.4 236.4,392.4 235.6,392.0 234.9,392.0 234.2,392.1 233.5,392.1 232.8,392.0 232.0,392.1 231.3,391.8 230.6,391.6 229.9,391.8 229.2,391.7" fill="#b4b4b4"/>
<g><circle cx="230.1" cy="390.6" r="0.67" fill="#666"/><circle cx="229.5" cy="389.6" r="0.71" fill="#fff"/><circle cx="228.5" cy="390.9" r="0.43" fill="#f6f6f6"/><circle cx="229.4" cy="389.1" r="0.39" fill="#fff"/><circle cx="229.3" cy="391.1" r="0.67" fill="#e8e8e8"/><circle cx="230.0" cy="390.3" r="0.49" fill="#f6f6f6"/><circle cx="231.7" cy="389.5" r="0.72" fill="#f6f6f6"/><circle cx="229.3" cy="391.6" r="0.38" fill="#fff"/><circle cx="229.9" cy="390.9" r="0.60" fill="#fff"/><circle cx="230.3" cy="390.2" r="0.45" fill="#444"/><circle cx="232.2" cy="391.1" r="0.56" fill="#e8e8e8"/><circle cx="231.9" cy="389.4" r="0.38" fill="#fff"/><circle cx="231.9" cy="389.9" r="0.44" fill="#f6f6f6"/><circle cx="231.6" cy="389.9" r="0.47" fill="#e8e8e8"/><circle cx="232.4" cy="389.3" r="0.53" fill="#f6f6f6"/><circle cx="233.0" cy="391.6" r="0.55" fill="#666"/><circle cx="232.5" cy="389.7" r="0.55" fill="#ececec"/><circle cx="231.9" cy="389.0" r="0.68" fill="#fff"/><circle cx="234.9" cy="390.1" r="0.57" fill="#f6f6f6"/><circle cx="234.2" cy="389.3" r="0.61" fill="#fff"/><circle cx="232.9" cy="390.6" r="0.48" fill="#666"/><circle cx="235.3" cy="389.9" r="0.59" fill="#e8e8e8"/><circle cx="234.6" cy="389.5" r="0.61" fill="#666"/><circle cx="235.4" cy="390.3" r="0.46" fill="#fff"/><circle cx="235.1" cy="390.6" r="0.52" fill="#444"/><circle cx="233.4" cy="392.1" r="0.63" fill="#444"/><circle cx="235.5" cy="389.3" r="0.47" fill="#444"/><circle cx="234.7" cy="390.2" r="0.60" fill="#e8e8e8"/><circle cx="235.3" cy="389.3" r="0.47" fill="#f6f6f6"/><circle cx="234.4" cy="391.4" r="0.61" fill="#fff"/><circle cx="236.6" cy="391.1" r="0.73" fill="#444"/><circle cx="236.7" cy="390.8" r="0.48" fill="#fff"/><circle cx="236.0" cy="392.3" r="0.36" fill="#e8e8e8"/><circle cx="237.1" cy="390.7" r="0.68" fill="#fff"/><circle cx="235.6" cy="390.0" r="0.71" fill="#f6f6f6"/><circle cx="236.2" cy="391.6" r="0.71" fill="#e8e8e8"/><circle cx="237.5" cy="389.2" r="0.42" fill="#f6f6f6"/><circle cx="236.8" cy="389.2" r="0.72" fill="#ececec"/><circle cx="239.0" cy="390.0" r="0.41" fill="#f6f6f6"/><circle cx="238.0" cy="390.4" r="0.37" fill="#f6f6f6"/><circle cx="238.5" cy="389.0" r="0.60" fill="#fff"/><circle cx="237.8" cy="390.5" r="0.46" fill="#444"/><circle cx="239.2" cy="389.5" r="0.73" fill="#e8e8e8"/><circle cx="240.7" cy="391.6" r="0.59" fill="#ececec"/><circle cx="239.9" cy="390.3" r="0.38" fill="#fff"/><circle cx="239.3" cy="390.2" r="0.56" fill="#666"/><circle cx="240.5" cy="389.2" r="0.50" fill="#fff"/><circle cx="240.4" cy="390.0" r="0.53" fill="#fff"/><circle cx="242.1" cy="391.7" r="0.47" fill="#fff"/><circle cx="239.7" cy="391.4" r="0.43" fill="#666"/><circle cx="241.2" cy="390.8" r="0.58" fill="#e8e8e8"/><circle cx="242.6" cy="392.4" r="0.38" fill="#fff"/><circle cx="242.8" cy="390.9" r="0.59" fill="#fff"/><circle cx="242.1" cy="391.1" r="0.55" fill="#fff"/><circle cx="241.9" cy="391.1" r="0.55" fill="#444"/><circle cx="240.4" cy="391.5" r="0.48" fill="#444"/><circle cx="243.1" cy="391.3" r="0.62" fill="#666"/><circle cx="243.8" cy="391.0" r="0.67" fill="#e8e8e8"/><circle cx="243.3" cy="391.8" r="0.56" fill="#666"/><circle cx="243.2" cy="391.4" r="0.75" fill="#444"/><circle cx="243.2" cy="388.7" r="0.49" fill="#666"/><circle cx="244.4" cy="390.8" r="0.52" fill="#ececec"/><circle cx="242.7" cy="390.0" r="0.74" fill="#ececec"/><circle cx="243.5" cy="391.4" r="0.46" fill="#fff"/><circle cx="245.7" cy="392.1" r="0.66" fill="#666"/><circle cx="244.9" cy="392.0" r="0.45" fill="#fff"/><circle cx="246.6" cy="392.1" r="0.44" fill="#fff"/><circle cx="243.9" cy="391.4" r="0.46" fill="#fff"/><circle cx="244.3" cy="391.3" r="0.46" fill="#666"/><circle cx="245.7" cy="392.1" r="0.43" fill="#ececec"/><circle cx="244.2" cy="389.8" r="0.55" fill="#f6f6f6"/><circle cx="245.4" cy="388.8" r="0.55" fill="#e8e8e8"/><circle cx="245.8" cy="390.4" r="0.49" fill="#fff"/><circle cx="248.0" cy="391.4" r="0.42" fill="#fff"/><circle cx="246.4" cy="391.9" r="0.70" fill="#444"/><circle cx="247.5" cy="388.7" r="0.70" fill="#444"/><circle cx="245.3" cy="391.0" r="0.40" fill="#444"/><circle cx="247.8" cy="390.2" r="0.50" fill="#e8e8e8"/><circle cx="246.1" cy="390.9" r="0.52" fill="#444"/><circle cx="249.6" cy="389.0" r="0.37" fill="#fff"/><circle cx="246.9" cy="388.8" r="0.56" fill="#ececec"/><circle cx="250.0" cy="392.0" r="0.56" fill="#f6f6f6"/><circle cx="247.1" cy="389.7" r="0.44" fill="#666"/><circle cx="249.5" cy="390.1" r="0.49" fill="#e8e8e8"/><circle cx="248.8" cy="391.9" r="0.36" fill="#fff"/><circle cx="249.1" cy="390.1" r="0.57" fill="#444"/><circle cx="250.9" cy="388.7" r="0.66" fill="#e8e8e8"/><circle cx="250.9" cy="390.5" r="0.48" fill="#f6f6f6"/><circle cx="248.5" cy="388.9" r="0.64" fill="#fff"/><circle cx="249.2" cy="390.8" r="0.39" fill="#fff"/><circle cx="250.8" cy="389.3" r="0.67" fill="#fff"/><circle cx="250.4" cy="389.2" r="0.47" fill="#fff"/><circle cx="250.8" cy="388.2" r="0.42" fill="#e8e8e8"/><circle cx="250.1" cy="389.4" r="0.43" fill="#fff"/><circle cx="252.2" cy="388.3" r="0.56" fill="#f6f6f6"/><circle cx="252.7" cy="388.2" r="0.36" fill="#ececec"/><circle cx="253.7" cy="389.8" r="0.46" fill="#666"/><circle cx="250.1" cy="391.7" r="0.56" fill="#666"/><circle cx="251.1" cy="389.8" r="0.65" fill="#444"/><circle cx="251.5" cy="388.5" r="0.40" fill="#666"/><circle cx="252.4" cy="391.7" r="0.52" fill="#fff"/><circle cx="253.5" cy="390.0" r="0.55" fill="#f6f6f6"/><circle cx="253.8" cy="391.3" r="0.51" fill="#fff"/><circle cx="251.9" cy="391.0" r="0.41" fill="#ececec"/><circle cx="253.5" cy="391.1" r="0.55" fill="#ececec"/><circle cx="255.9" cy="388.9" r="0.45" fill="#f6f6f6"/><circle cx="254.0" cy="390.4" r="0.71" fill="#f6f6f6"/><circle cx="254.2" cy="389.9" r="0.44" fill="#fff"/><circle cx="252.8" cy="389.0" r="0.44" fill="#fff"/><circle cx="253.0" cy="388.4" r="0.72" fill="#f6f6f6"/><circle cx="254.8" cy="391.3" r="0.65" fill="#444"/><circle cx="254.7" cy="390.6" r="0.41" fill="#444"/><circle cx="256.3" cy="389.5" r="0.42" fill="#e8e8e8"/><circle cx="254.9" cy="391.0" r="0.74" fill="#fff"/><circle cx="254.7" cy="388.4" r="0.40" fill="#f6f6f6"/><circle cx="257.3" cy="388.9" r="0.66" fill="#fff"/><circle cx="256.3" cy="389.9" r="0.61" fill="#fff"/><circle cx="257.3" cy="389.5" r="0.58" fill="#fff"/><circle cx="255.4" cy="389.2" r="0.38" fill="#fff"/><circle cx="255.9" cy="389.6" r="0.51" fill="#fff"/><circle cx="257.3" cy="388.9" r="0.53" fill="#f6f6f6"/><circle cx="256.9" cy="387.9" r="0.53" fill="#e8e8e8"/><circle cx="258.0" cy="388.9" r="0.58" fill="#444"/><circle cx="256.9" cy="387.5" r="0.70" fill="#666"/><circle cx="259.1" cy="391.1" r="0.68" fill="#444"/><circle cx="257.3" cy="388.4" r="0.53" fill="#e8e8e8"/><circle cx="257.4" cy="388.0" r="0.40" fill="#fff"/><circle cx="259.5" cy="391.4" r="0.72" fill="#e8e8e8"/><circle cx="261.0" cy="389.0" r="0.38" fill="#444"/><circle cx="261.1" cy="390.0" r="0.67" fill="#e8e8e8"/><circle cx="261.6" cy="390.4" r="0.39" fill="#ececec"/><circle cx="260.1" cy="388.9" r="0.55" fill="#444"/><circle cx="261.4" cy="391.3" r="0.53" fill="#444"/><circle cx="259.3" cy="390.9" r="0.53" fill="#f6f6f6"/><circle cx="261.8" cy="387.8" r="0.48" fill="#fff"/><circle cx="263.1" cy="391.1" r="0.70" fill="#fff"/><circle cx="259.1" cy="388.1" r="0.61" fill="#ececec"/><circle cx="260.5" cy="387.1" r="0.48" fill="#f6f6f6"/><circle cx="260.6" cy="390.6" r="0.60" fill="#fff"/><circle cx="263.6" cy="389.1" r="0.71" fill="#666"/><circle cx="262.7" cy="388.8" r="0.47" fill="#ececec"/><circle cx="263.5" cy="387.8" r="0.58" fill="#ececec"/><circle cx="262.3" cy="390.6" r="0.42" fill="#fff"/><circle cx="264.0" cy="388.2" r="0.74" fill="#e8e8e8"/><circle cx="261.8" cy="388.3" r="0.52" fill="#fff"/><circle cx="265.1" cy="387.8" r="0.48" fill="#fff"/><circle cx="262.0" cy="391.0" r="0.40" fill="#ececec"/><circle cx="265.8" cy="391.0" r="0.56" fill="#e8e8e8"/><circle cx="264.4" cy="387.3" r="0.74" fill="#fff"/><circle cx="265.2" cy="387.8" r="0.42" fill="#fff"/><circle cx="266.7" cy="387.0" r="0.68" fill="#f6f6f6"/><circle cx="264.9" cy="388.0" r="0.74" fill="#444"/><circle cx="266.1" cy="390.1" r="0.63" fill="#fff"/><circle cx="267.1" cy="389.4" r="0.58" fill="#f6f6f6"/><circle cx="263.3" cy="389.0" r="0.38" fill="#fff"/><circle cx="266.0" cy="390.3" r="0.45" fill="#444"/><circle cx="268.3" cy="389.7" r="0.53" fill="#fff"/><circle cx="267.7" cy="387.7" r="0.51" fill="#f6f6f6"/><circle cx="267.4" cy="389.9" r="0.47" fill="#fff"/><circle cx="265.0" cy="387.1" r="0.46" fill="#fff"/><circle cx="265.8" cy="386.6" r="0.38" fill="#fff"/><circle cx="266.3" cy="388.8" r="0.49" fill="#fff"/><circle cx="266.5" cy="389.0" r="0.55" fill="#fff"/><circle cx="266.1" cy="390.1" r="0.57" fill="#f6f6f6"/><circle cx="265.4" cy="387.8" r="0.54" fill="#fff"/><circle cx="268.5" cy="389.3" r="0.42" fill="#e8e8e8"/><circle cx="267.6" cy="386.4" r="0.68" fill="#fff"/><circle cx="266.1" cy="386.3" r="0.40" fill="#ececec"/><circle cx="268.0" cy="389.8" r="0.55" fill="#f6f6f6"/><circle cx="267.4" cy="390.0" r="0.57" fill="#ececec"/><circle cx="268.0" cy="386.7" r="0.42" fill="#e8e8e8"/><circle cx="269.2" cy="386.4" r="0.40" fill="#fff"/><circle cx="268.8" cy="386.9" r="0.67" fill="#fff"/><circle cx="267.7" cy="387.3" r="0.70" fill="#e8e8e8"/><circle cx="272.3" cy="389.2" r="0.57" fill="#fff"/><circle cx="270.9" cy="389.7" r="0.59" fill="#666"/><circle cx="268.7" cy="387.2" r="0.36" fill="#fff"/><circle cx="269.2" cy="386.4" r="0.67" fill="#fff"/><circle cx="272.8" cy="387.0" r="0.65" fill="#ececec"/><circle cx="270.0" cy="386.1" r="0.49" fill="#fff"/><circle cx="270.1" cy="389.4" r="0.61" fill="#e8e8e8"/><circle cx="269.6" cy="386.9" r="0.39" fill="#fff"/><circle cx="270.9" cy="385.7" r="0.51" fill="#fff"/><circle cx="274.2" cy="388.9" r="0.59" fill="#fff"/><circle cx="272.2" cy="386.0" r="0.67" fill="#f6f6f6"/><circle cx="271.5" cy="385.7" r="0.61" fill="#444"/><circle cx="272.8" cy="385.4" r="0.46" fill="#fff"/><circle cx="275.2" cy="386.1" r="0.57" fill="#fff"/><circle cx="271.4" cy="386.4" r="0.73" fill="#ececec"/><circle cx="273.6" cy="388.1" r="0.72" fill="#fff"/><circle cx="271.7" cy="385.1" r="0.65" fill="#444"/><circle cx="275.9" cy="386.9" r="0.41" fill="#ececec"/><circle cx="274.7" cy="389.4" r="0.74" fill="#fff"/><circle cx="276.1" cy="385.0" r="0.62" fill="#444"/><circle cx="273.6" cy="388.5" r="0.72" fill="#e8e8e8"/><circle cx="273.0" cy="387.0" r="0.62" fill="#ececec"/><circle cx="275.0" cy="387.6" r="0.48" fill="#fff"/><circle cx="276.0" cy="388.3" r="0.57" fill="#e8e8e8"/><circle cx="276.2" cy="384.8" r="0.64" fill="#e8e8e8"/><circle cx="277.6" cy="386.6" r="0.61" fill="#fff"/><circle cx="273.7" cy="385.3" r="0.39" fill="#f6f6f6"/><circle cx="276.2" cy="385.8" r="0.61" fill="#e8e8e8"/><circle cx="276.4" cy="387.3" r="0.72" fill="#fff"/><circle cx="277.1" cy="387.3" r="0.49" fill="#fff"/><circle cx="279.8" cy="389.3" r="0.68" fill="#444"/><circle cx="275.3" cy="385.1" r="0.63" fill="#fff"/><circle cx="277.6" cy="389.1" r="0.73" fill="#444"/><circle cx="276.7" cy="385.4" r="0.51" fill="#fff"/><circle cx="277.0" cy="384.4" r="0.47" fill="#fff"/><circle cx="279.0" cy="387.1" r="0.65" fill="#666"/><circle cx="279.2" cy="387.3" r="0.54" fill="#ececec"/><circle cx="278.6" cy="385.6" r="0.39" fill="#fff"/><circle cx="281.0" cy="385.8" r="0.70" fill="#fff"/><circle cx="281.3" cy="388.1" r="0.70" fill="#e8e8e8"/><circle cx="278.1" cy="385.8" r="0.48" fill="#f6f6f6"/><circle cx="279.9" cy="388.6" r="0.59" fill="#fff"/><circle cx="278.2" cy="388.0" r="0.48" fill="#fff"/><circle cx="281.3" cy="387.9" r="0.42" fill="#ececec"/><circle cx="282.5" cy="386.7" r="0.53" fill="#f6f6f6"/><circle cx="283.3" cy="385.2" r="0.72" fill="#444"/><circle cx="278.9" cy="385.5" r="0.56" fill="#fff"/><circle cx="283.2" cy="384.9" r="0.38" fill="#fff"/><circle cx="281.8" cy="386.9" r="0.38" fill="#fff"/><circle cx="281.9" cy="387.0" r="0.70" fill="#fff"/><circle cx="280.4" cy="387.6" r="0.49" fill="#fff"/><circle cx="279.9" cy="384.7" r="0.50" fill="#fff"/><circle cx="282.7" cy="384.4" r="0.61" fill="#fff"/><circle cx="280.2" cy="387.9" r="0.56" fill="#f6f6f6"/><circle cx="281.8" cy="383.5" r="0.65" fill="#f6f6f6"/><circle cx="284.4" cy="387.3" r="0.67" fill="#e8e8e8"/><circle cx="285.4" cy="387.7" r="0.67" fill="#fff"/><circle cx="285.9" cy="384.6" r="0.62" fill="#e8e8e8"/><circle cx="285.4" cy="384.9" r="0.58" fill="#fff"/><circle cx="285.3" cy="383.3" r="0.57" fill="#fff"/><circle cx="286.2" cy="383.0" r="0.49" fill="#e8e8e8"/><circle cx="283.9" cy="387.0" r="0.52" fill="#666"/><circle cx="281.9" cy="383.1" r="0.40" fill="#fff"/><circle cx="283.8" cy="386.6" r="0.64" fill="#ececec"/><circle cx="287.6" cy="382.6" r="0.48" fill="#fff"/><circle cx="282.8" cy="383.8" r="0.59" fill="#444"/><circle cx="288.3" cy="383.4" r="0.61" fill="#f6f6f6"/><circle cx="284.4" cy="383.5" r="0.53" fill="#f6f6f6"/><circle cx="288.3" cy="384.0" r="0.75" fill="#fff"/><circle cx="288.7" cy="386.2" r="0.63" fill="#e8e8e8"/><circle cx="285.6" cy="386.2" r="0.56" fill="#ececec"/><circle cx="287.4" cy="382.6" r="0.72" fill="#fff"/><circle cx="285.2" cy="385.8" r="0.69" fill="#fff"/><circle cx="285.1" cy="385.4" r="0.54" fill="#fff"/><circle cx="287.1" cy="385.5" r="0.55" fill="#fff"/><circle cx="290.1" cy="383.2" r="0.71" fill="#f6f6f6"/><circle cx="290.5" cy="384.6" r="0.50" fill="#fff"/><circle cx="288.4" cy="386.0" r="0.45" fill="#444"/><circle cx="289.6" cy="386.7" r="0.55" fill="#fff"/><circle cx="288.6" cy="384.4" r="0.43" fill="#ececec"/><circle cx="287.8" cy="386.7" r="0.38" fill="#f6f6f6"/><circle cx="287.3" cy="382.3" r="0.60" fill="#e8e8e8"/><circle cx="291.5" cy="384.9" r="0.51" fill="#fff"/><circle cx="289.7" cy="384.1" r="0.36" fill="#444"/><circle cx="290.1" cy="384.5" r="0.65" fill="#444"/><circle cx="289.2" cy="382.9" r="0.49" fill="#444"/><circle cx="290.6" cy="384.0" r="0.43" fill="#666"/><circle cx="292.8" cy="385.8" r="0.65" fill="#fff"/><circle cx="292.5" cy="381.2" r="0.36" fill="#666"/><circle cx="291.7" cy="385.9" r="0.66" fill="#fff"/><circle cx="290.8" cy="383.4" r="0.65" fill="#fff"/><circle cx="290.6" cy="385.0" r="0.72" fill="#fff"/><circle cx="292.6" cy="384.3" r="0.59" fill="#ececec"/><circle cx="290.2" cy="384.7" r="0.48" fill="#e8e8e8"/><circle cx="290.8" cy="385.1" r="0.54" fill="#fff"/><circle cx="290.9" cy="385.0" r="0.38" fill="#fff"/><circle cx="295.2" cy="384.8" r="0.56" fill="#fff"/><circle cx="294.5" cy="384.2" r="0.67" fill="#e8e8e8"/><circle cx="294.2" cy="384.2" r="0.46" fill="#f6f6f6"/><circle cx="292.8" cy="384.4" r="0.68" fill="#fff"/><circle cx="293.4" cy="381.0" r="0.40" fill="#444"/><circle cx="292.4" cy="379.7" r="0.52" fill="#fff"/><circle cx="295.4" cy="383.7" r="0.74" fill="#ececec"/><circle cx="295.4" cy="384.3" r="0.38" fill="#fff"/><circle cx="295.3" cy="380.6" r="0.75" fill="#fff"/><circle cx="294.1" cy="383.7" r="0.52" fill="#fff"/><circle cx="292.7" cy="384.4" r="0.43" fill="#e8e8e8"/><circle cx="293.6" cy="379.2" r="0.48" fill="#444"/><circle cx="294.9" cy="382.8" r="0.47" fill="#444"/><circle cx="297.2" cy="382.8" r="0.51" fill="#444"/><circle cx="295.7" cy="379.3" r="0.39" fill="#f6f6f6"/><circle cx="296.2" cy="381.1" r="0.64" fill="#f6f6f6"/><circle cx="296.6" cy="379.7" r="0.68" fill="#ececec"/><circle cx="296.6" cy="379.8" r="0.51" fill="#fff"/><circle cx="295.4" cy="379.1" r="0.60" fill="#fff"/><circle cx="299.0" cy="379.2" r="0.73" fill="#666"/><circle cx="296.5" cy="382.8" r="0.57" fill="#444"/><circle cx="297.2" cy="382.8" r="0.50" fill="#fff"/><circle cx="294.7" cy="383.2" r="0.38" fill="#ececec"/><circle cx="300.0" cy="381.9" r="0.69" fill="#ececec"/><circle cx="296.2" cy="378.5" r="0.45" fill="#fff"/><circle cx="297.4" cy="378.8" r="0.68" fill="#fff"/><circle cx="299.0" cy="382.3" r="0.52" fill="#ececec"/><circle cx="297.9" cy="379.1" r="0.55" fill="#fff"/><circle cx="297.6" cy="380.6" r="0.61" fill="#fff"/><circle cx="296.4" cy="379.9" r="0.68" fill="#444"/><circle cx="299.2" cy="377.8" r="0.53" fill="#fff"/><circle cx="302.0" cy="377.1" r="0.60" fill="#ececec"/><circle cx="300.3" cy="380.5" r="0.56" fill="#fff"/><circle cx="300.9" cy="377.9" r="0.38" fill="#666"/><circle cx="301.5" cy="377.7" r="0.40" fill="#fff"/><circle cx="300.3" cy="382.0" r="0.46" fill="#fff"/><circle cx="299.0" cy="378.7" r="0.62" fill="#f6f6f6"/><circle cx="299.2" cy="378.6" r="0.52" fill="#f6f6f6"/><circle cx="300.8" cy="377.4" r="0.41" fill="#666"/><circle cx="302.2" cy="377.1" r="0.55" fill="#444"/><circle cx="303.8" cy="377.4" r="0.41" fill="#ececec"/><circle cx="299.0" cy="378.2" r="0.61" fill="#fff"/><circle cx="299.7" cy="377.2" r="0.36" fill="#fff"/><circle cx="302.9" cy="379.2" r="0.39" fill="#f6f6f6"/><circle cx="301.3" cy="381.1" r="0.56" fill="#fff"/><circle cx="301.8" cy="381.0" r="0.58" fill="#fff"/><circle cx="303.0" cy="381.2" r="0.66" fill="#ececec"/><circle cx="302.8" cy="379.7" r="0.74" fill="#fff"/><circle cx="304.7" cy="376.7" r="0.53" fill="#fff"/><circle cx="301.8" cy="379.8" r="0.64" fill="#444"/><circle cx="300.9" cy="379.8" r="0.63" fill="#fff"/><circle cx="305.2" cy="380.7" r="0.67" fill="#fff"/><circle cx="302.6" cy="378.9" r="0.63" fill="#e8e8e8"/><circle cx="301.4" cy="378.0" r="0.36" fill="#fff"/><circle cx="304.4" cy="377.9" r="0.47" fill="#666"/><circle cx="304.6" cy="375.4" r="0.53" fill="#ececec"/><circle cx="307.2" cy="377.6" r="0.56" fill="#666"/><circle cx="304.6" cy="375.5" r="0.60" fill="#fff"/><circle cx="303.0" cy="376.8" r="0.49" fill="#ececec"/><circle cx="304.3" cy="378.9" r="0.59" fill="#e8e8e8"/><circle cx="307.7" cy="375.3" r="0.71" fill="#444"/><circle cx="304.4" cy="376.3" r="0.74" fill="#ececec"/><circle cx="305.6" cy="377.7" r="0.61" fill="#fff"/><circle cx="307.1" cy="378.8" r="0.63" fill="#fff"/><circle cx="307.8" cy="375.0" r="0.71" fill="#f6f6f6"/><circle cx="305.5" cy="376.5" r="0.46" fill="#e8e8e8"/><circle cx="309.6" cy="376.0" r="0.56" fill="#666"/><circle cx="305.7" cy="376.7" r="0.54" fill="#ececec"/><circle cx="310.0" cy="374.6" r="0.54" fill="#444"/><circle cx="310.0" cy="379.3" r="0.66" fill="#fff"/><circle cx="309.1" cy="378.2" r="0.66" fill="#f6f6f6"/><circle cx="305.6" cy="376.5" r="0.54" fill="#444"/><circle cx="310.8" cy="376.1" r="0.69" fill="#666"/><circle cx="310.9" cy="374.1" r="0.63" fill="#ececec"/><circle cx="306.9" cy="376.2" r="0.44" fill="#ececec"/><circle cx="307.9" cy="373.2" r="0.46" fill="#fff"/><circle cx="311.6" cy="377.3" r="0.69" fill="#fff"/><circle cx="308.0" cy="373.7" r="0.59" fill="#666"/><circle cx="307.3" cy="377.9" r="0.71" fill="#ececec"/><circle cx="310.7" cy="376.4" r="0.40" fill="#e8e8e8"/><circle cx="307.1" cy="374.1" r="0.49" fill="#fff"/><circle cx="309.3" cy="378.0" r="0.72" fill="#fff"/><circle cx="313.3" cy="373.0" r="0.45" fill="#fff"/><circle cx="308.6" cy="377.1" r="0.41" fill="#f6f6f6"/><circle cx="311.2" cy="378.0" r="0.42" fill="#e8e8e8"/><circle cx="310.1" cy="374.2" r="0.66" fill="#fff"/><circle cx="309.4" cy="374.0" r="0.35" fill="#fff"/><circle cx="312.5" cy="372.6" r="0.52" fill="#f6f6f6"/><circle cx="314.3" cy="373.4" r="0.44" fill="#f6f6f6"/><circle cx="309.2" cy="372.6" r="0.66" fill="#f6f6f6"/><circle cx="315.2" cy="374.9" r="0.64" fill="#f6f6f6"/><circle cx="309.8" cy="374.8" r="0.55" fill="#fff"/><circle cx="312.4" cy="376.2" r="0.39" fill="#fff"/><circle cx="312.2" cy="372.1" r="0.39" fill="#fff"/><circle cx="310.5" cy="373.1" r="0.74" fill="#fff"/><circle cx="315.9" cy="376.6" r="0.60" fill="#f6f6f6"/><circle cx="315.6" cy="376.2" r="0.59" fill="#444"/><circle cx="311.6" cy="372.6" r="0.35" fill="#ececec"/><circle cx="311.7" cy="375.8" r="0.73" fill="#fff"/><circle cx="312.0" cy="372.1" r="0.43" fill="#666"/><circle cx="317.0" cy="371.6" r="0.71" fill="#fff"/><circle cx="314.9" cy="374.6" r="0.42" fill="#fff"/><circle cx="313.3" cy="373.3" r="0.56" fill="#fff"/><circle cx="312.9" cy="372.1" r="0.38" fill="#fff"/><circle cx="312.8" cy="372.3" r="0.57" fill="#fff"/><circle cx="315.0" cy="376.3" r="0.38" fill="#444"/><circle cx="315.5" cy="370.9" r="0.54" fill="#fff"/><circle cx="315.1" cy="374.1" r="0.42" fill="#fff"/><circle cx="317.0" cy="372.2" r="0.36" fill="#e8e8e8"/><circle cx="314.4" cy="375.5" r="0.48" fill="#666"/><circle cx="317.1" cy="375.2" r="0.71" fill="#e8e8e8"/><circle cx="314.7" cy="370.7" r="0.55" fill="#ececec"/><circle cx="317.3" cy="371.3" r="0.45" fill="#e8e8e8"/><circle cx="316.1" cy="370.8" r="0.71" fill="#666"/><circle cx="320.4" cy="371.2" r="0.58" fill="#f6f6f6"/><circle cx="318.5" cy="369.9" r="0.48" fill="#666"/><circle cx="317.4" cy="373.9" r="0.50" fill="#ececec"/><circle cx="316.8" cy="370.0" r="0.58" fill="#e8e8e8"/><circle cx="316.0" cy="370.8" r="0.69" fill="#666"/><circle cx="317.3" cy="373.4" r="0.72" fill="#e8e8e8"/><circle cx="319.4" cy="374.8" r="0.36" fill="#e8e8e8"/><circle cx="318.2" cy="369.4" r="0.72" fill="#fff"/><circle cx="319.0" cy="369.2" r="0.73" fill="#fff"/><circle cx="317.2" cy="369.1" r="0.54" fill="#fff"/><circle cx="322.4" cy="373.6" r="0.51" fill="#f6f6f6"/><circle cx="319.0" cy="371.3" r="0.61" fill="#f6f6f6"/><circle cx="320.4" cy="368.9" r="0.56" fill="#e8e8e8"/><circle cx="317.5" cy="369.6" r="0.40" fill="#fff"/><circle cx="322.9" cy="372.0" r="0.43" fill="#ececec"/><circle cx="323.2" cy="374.6" r="0.46" fill="#f6f6f6"/><circle cx="323.9" cy="371.0" r="0.42" fill="#ececec"/><circle cx="321.6" cy="370.6" r="0.38" fill="#f6f6f6"/><circle cx="322.1" cy="374.1" r="0.70" fill="#e8e8e8"/><circle cx="319.3" cy="371.7" r="0.65" fill="#ececec"/><circle cx="324.3" cy="373.7" r="0.71" fill="#fff"/><circle cx="324.6" cy="369.2" r="0.66" fill="#ececec"/><circle cx="319.8" cy="373.3" r="0.50" fill="#fff"/><circle cx="321.5" cy="374.0" r="0.63" fill="#fff"/><circle cx="321.0" cy="373.8" r="0.64" fill="#fff"/><circle cx="320.8" cy="371.0" r="0.61" fill="#666"/><circle cx="324.4" cy="370.5" r="0.72" fill="#666"/><circle cx="322.5" cy="370.8" r="0.41" fill="#ececec"/><circle cx="323.6" cy="371.5" r="0.66" fill="#f6f6f6"/><circle cx="323.6" cy="367.8" r="0.39" fill="#666"/><circle cx="321.8" cy="368.1" r="0.37" fill="#fff"/><circle cx="325.6" cy="371.0" r="0.67" fill="#e8e8e8"/><circle cx="322.5" cy="370.8" r="0.63" fill="#f6f6f6"/><circle cx="322.7" cy="368.8" r="0.58" fill="#f6f6f6"/><circle cx="325.1" cy="371.3" r="0.40" fill="#e8e8e8"/><circle cx="327.8" cy="371.0" r="0.50" fill="#fff"/><circle cx="324.1" cy="369.8" r="0.61" fill="#f6f6f6"/><circle cx="323.5" cy="372.0" r="0.53" fill="#666"/><circle cx="323.3" cy="367.6" r="0.47" fill="#666"/><circle cx="328.3" cy="371.6" r="0.45" fill="#444"/><circle cx="325.8" cy="368.6" r="0.66" fill="#f6f6f6"/><circle cx="326.8" cy="368.0" r="0.57" fill="#fff"/><circle cx="329.4" cy="366.6" r="0.38" fill="#fff"/><circle cx="324.8" cy="366.5" r="0.69" fill="#666"/><circle cx="328.9" cy="366.5" r="0.72" fill="#fff"/><circle cx="330.2" cy="372.0" r="0.59" fill="#666"/><circle cx="325.8" cy="366.5" r="0.38" fill="#666"/><circle cx="327.7" cy="371.9" r="0.50" fill="#444"/><circle cx="326.9" cy="371.5" r="0.64" fill="#fff"/><circle cx="328.9" cy="367.2" r="0.51" fill="#444"/><circle cx="327.8" cy="369.5" r="0.66" fill="#fff"/><circle cx="328.1" cy="368.8" r="0.35" fill="#444"/><circle cx="330.7" cy="369.5" r="0.55" fill="#f6f6f6"/><circle cx="327.0" cy="369.9" r="0.54" fill="#fff"/><circle cx="332.6" cy="366.3" r="0.37" fill="#444"/><circle cx="330.0" cy="369.8" r="0.40" fill="#ececec"/><circle cx="332.0" cy="367.4" r="0.73" fill="#ececec"/><circle cx="331.7" cy="368.3" r="0.42" fill="#fff"/><circle cx="329.2" cy="366.9" r="0.47" fill="#444"/><circle cx="333.4" cy="365.2" r="0.54" fill="#fff"/><circle cx="332.4" cy="368.3" r="0.49" fill="#ececec"/><circle cx="330.2" cy="370.1" r="0.43" fill="#fff"/><circle cx="333.4" cy="368.1" r="0.46" fill="#fff"/><circle cx="331.7" cy="367.4" r="0.43" fill="#ececec"/><circle cx="331.8" cy="364.9" r="0.52" fill="#fff"/><circle cx="328.7" cy="370.3" r="0.69" fill="#ececec"/><circle cx="333.6" cy="370.4" r="0.41" fill="#fff"/><circle cx="330.7" cy="366.8" r="0.52" fill="#e8e8e8"/><circle cx="331.7" cy="366.7" r="0.69" fill="#fff"/><circle cx="330.0" cy="367.1" r="0.66" fill="#ececec"/><circle cx="335.6" cy="365.1" r="0.37" fill="#fff"/><circle cx="334.0" cy="366.2" r="0.72" fill="#666"/><circle cx="331.7" cy="367.0" r="0.46" fill="#f6f6f6"/><circle cx="334.7" cy="366.2" r="0.47" fill="#fff"/><circle cx="333.3" cy="367.2" r="0.52" fill="#fff"/><circle cx="332.9" cy="366.4" r="0.42" fill="#fff"/><circle cx="332.1" cy="367.6" r="0.44" fill="#fff"/><circle cx="336.4" cy="368.5" r="0.54" fill="#ececec"/><circle cx="336.2" cy="367.9" r="0.38" fill="#666"/><circle cx="332.1" cy="366.3" r="0.53" fill="#fff"/><circle cx="332.2" cy="365.4" r="0.40" fill="#fff"/><circle cx="332.7" cy="365.4" r="0.70" fill="#f6f6f6"/><circle cx="334.7" cy="365.2" r="0.75" fill="#fff"/><circle cx="332.4" cy="368.4" r="0.62" fill="#f6f6f6"/><circle cx="336.2" cy="368.8" r="0.73" fill="#e8e8e8"/><circle cx="338.4" cy="362.7" r="0.43" fill="#ececec"/><circle cx="335.4" cy="364.4" r="0.60" fill="#666"/><circle cx="336.4" cy="365.1" r="0.62" fill="#ececec"/><circle cx="336.8" cy="363.6" r="0.70" fill="#666"/><circle cx="337.3" cy="368.0" r="0.68" fill="#666"/><circle cx="338.5" cy="362.3" r="0.43" fill="#f6f6f6"/><circle cx="338.5" cy="365.7" r="0.37" fill="#fff"/><circle cx="335.2" cy="368.2" r="0.50" fill="#444"/><circle cx="338.2" cy="363.0" r="0.44" fill="#fff"/><circle cx="339.0" cy="362.0" r="0.74" fill="#f6f6f6"/><circle cx="338.4" cy="364.1" r="0.54" fill="#fff"/><circle cx="341.7" cy="364.1" r="0.36" fill="#fff"/><circle cx="340.1" cy="365.2" r="0.70" fill="#fff"/><circle cx="339.3" cy="363.8" r="0.73" fill="#666"/><circle cx="341.3" cy="365.6" r="0.72" fill="#fff"/><circle cx="336.5" cy="365.7" r="0.36" fill="#fff"/><circle cx="341.0" cy="362.3" r="0.36" fill="#fff"/><circle cx="336.9" cy="362.1" r="0.75" fill="#f6f6f6"/><circle cx="341.2" cy="364.5" r="0.51" fill="#fff"/><circle cx="342.0" cy="366.8" r="0.44" fill="#fff"/><circle cx="343.8" cy="361.3" r="0.51" fill="#f6f6f6"/><circle cx="337.9" cy="364.6" r="0.37" fill="#444"/><circle cx="340.5" cy="363.3" r="0.60" fill="#e8e8e8"/><circle cx="342.8" cy="366.9" r="0.54" fill="#666"/><circle cx="338.4" cy="363.0" r="0.68" fill="#fff"/><circle cx="343.2" cy="364.5" r="0.55" fill="#666"/><circle cx="339.1" cy="361.0" r="0.49" fill="#ececec"/><circle cx="344.2" cy="364.8" r="0.72" fill="#e8e8e8"/><circle cx="340.7" cy="363.1" r="0.60" fill="#fff"/><circle cx="340.8" cy="366.6" r="0.54" fill="#444"/><circle cx="340.0" cy="365.7" r="0.36" fill="#f6f6f6"/><circle cx="343.3" cy="360.6" r="0.65" fill="#fff"/><circle cx="344.6" cy="362.5" r="0.57" fill="#fff"/><circle cx="346.4" cy="363.1" r="0.52" fill="#fff"/><circle cx="341.3" cy="361.0" r="0.66" fill="#f6f6f6"/><circle cx="343.7" cy="363.7" r="0.57" fill="#f6f6f6"/><circle cx="343.1" cy="360.1" r="0.56" fill="#f6f6f6"/><circle cx="345.8" cy="364.2" r="0.50" fill="#ececec"/><circle cx="344.5" cy="360.6" r="0.69" fill="#ececec"/><circle cx="342.6" cy="361.5" r="0.74" fill="#fff"/><circle cx="342.9" cy="362.0" r="0.51" fill="#e8e8e8"/><circle cx="344.8" cy="360.4" r="0.52" fill="#e8e8e8"/><circle cx="345.2" cy="364.8" r="0.66" fill="#e8e8e8"/><circle cx="343.4" cy="361.3" r="0.47" fill="#fff"/><circle cx="343.7" cy="365.0" r="0.43" fill="#f6f6f6"/><circle cx="343.6" cy="364.5" r="0.41" fill="#fff"/><circle cx="347.2" cy="365.0" r="0.42" fill="#fff"/><circle cx="345.3" cy="364.6" r="0.57" fill="#e8e8e8"/><circle cx="349.0" cy="359.1" r="0.35" fill="#fff"/><circle cx="347.4" cy="363.9" r="0.47" fill="#e8e8e8"/><circle cx="349.0" cy="362.4" r="0.42" fill="#fff"/><circle cx="345.1" cy="363.0" r="0.38" fill="#ececec"/><circle cx="346.8" cy="360.0" r="0.66" fill="#e8e8e8"/><circle cx="348.1" cy="364.1" r="0.66" fill="#fff"/><circle cx="346.4" cy="362.1" r="0.46" fill="#fff"/><circle cx="345.0" cy="362.8" r="0.42" fill="#ececec"/><circle cx="351.0" cy="358.6" r="0.64" fill="#fff"/><circle cx="350.2" cy="362.0" r="0.36" fill="#fff"/><circle cx="351.9" cy="358.9" r="0.63" fill="#fff"/><circle cx="346.2" cy="358.6" r="0.35" fill="#666"/><circle cx="346.6" cy="359.8" r="0.55" fill="#f6f6f6"/><circle cx="346.7" cy="360.4" r="0.55" fill="#f6f6f6"/><circle cx="353.3" cy="363.0" r="0.55" fill="#ececec"/><circle cx="346.9" cy="358.6" r="0.41" fill="#fff"/><circle cx="348.0" cy="357.8" r="0.48" fill="#444"/><circle cx="347.2" cy="357.1" r="0.58" fill="#fff"/><circle cx="353.0" cy="357.3" r="0.55" fill="#666"/><circle cx="351.6" cy="358.4" r="0.59" fill="#fff"/><circle cx="354.6" cy="358.3" r="0.47" fill="#444"/><circle cx="353.1" cy="356.5" r="0.46" fill="#fff"/><circle cx="348.3" cy="356.4" r="0.54" fill="#fff"/><circle cx="353.8" cy="356.6" r="0.41" fill="#fff"/><circle cx="354.9" cy="361.2" r="0.43" fill="#e8e8e8"/><circle cx="350.0" cy="362.6" r="0.65" fill="#fff"/><circle cx="349.0" cy="362.9" r="0.57" fill="#666"/><circle cx="349.0" cy="362.6" r="0.63" fill="#f6f6f6"/><circle cx="356.0" cy="359.2" r="0.55" fill="#666"/><circle cx="353.7" cy="358.8" r="0.68" fill="#ececec"/><circle cx="356.1" cy="357.8" r="0.69" fill="#f6f6f6"/><circle cx="356.1" cy="356.0" r="0.45" fill="#666"/><circle cx="356.2" cy="360.3" r="0.51" fill="#e8e8e8"/><circle cx="357.2" cy="362.0" r="0.58" fill="#fff"/><circle cx="355.7" cy="360.2" r="0.60" fill="#fff"/><circle cx="354.7" cy="359.0" r="0.55" fill="#666"/><circle cx="352.0" cy="357.5" r="0.63" fill="#666"/><circle cx="354.7" cy="359.2" r="0.35" fill="#fff"/><circle cx="354.8" cy="361.9" r="0.49" fill="#444"/><circle cx="352.0" cy="356.8" r="0.68" fill="#e8e8e8"/><circle cx="351.8" cy="360.6" r="0.70" fill="#fff"/><circle cx="354.1" cy="361.4" r="0.56" fill="#fff"/><circle cx="357.1" cy="361.8" r="0.62" fill="#fff"/><circle cx="353.0" cy="354.4" r="0.52" fill="#666"/><circle cx="353.4" cy="360.2" r="0.73" fill="#fff"/><circle cx="357.9" cy="355.6" r="0.68" fill="#fff"/><circle cx="359.6" cy="359.6" r="0.66" fill="#fff"/><circle cx="357.8" cy="359.1" r="0.44" fill="#fff"/><circle cx="360.0" cy="359.9" r="0.58" fill="#e8e8e8"/><circle cx="354.4" cy="355.7" r="0.38" fill="#e8e8e8"/><circle cx="358.3" cy="354.4" r="0.46" fill="#ececec"/><circle cx="359.8" cy="356.2" r="0.65" fill="#fff"/><circle cx="358.5" cy="354.0" r="0.50" fill="#fff"/><circle cx="362.2" cy="355.3" r="0.61" fill="#666"/><circle cx="361.2" cy="360.7" r="0.42" fill="#f6f6f6"/><circle cx="362.3" cy="358.8" r="0.73" fill="#fff"/><circle cx="361.9" cy="355.2" r="0.66" fill="#fff"/><circle cx="361.3" cy="358.2" r="0.39" fill="#f6f6f6"/><circle cx="362.1" cy="357.4" r="0.48" fill="#fff"/><circle cx="357.0" cy="359.0" r="0.46" fill="#e8e8e8"/><circle cx="358.1" cy="354.1" r="0.57" fill="#f6f6f6"/><circle cx="356.2" cy="354.6" r="0.36" fill="#fff"/><circle cx="363.2" cy="356.6" r="0.75" fill="#fff"/><circle cx="359.0" cy="352.9" r="0.44" fill="#444"/><circle cx="364.3" cy="357.1" r="0.58" fill="#e8e8e8"/><circle cx="363.2" cy="358.6" r="0.48" fill="#fff"/><circle cx="358.0" cy="353.1" r="0.70" fill="#f6f6f6"/><circle cx="364.2" cy="356.8" r="0.69" fill="#e8e8e8"/><circle cx="363.0" cy="354.2" r="0.38" fill="#fff"/><circle cx="358.3" cy="359.4" r="0.40" fill="#444"/><circle cx="364.3" cy="357.4" r="0.52" fill="#f6f6f6"/><circle cx="364.8" cy="357.5" r="0.62" fill="#666"/><circle cx="360.4" cy="355.3" r="0.50" fill="#444"/><circle cx="366.4" cy="356.7" r="0.37" fill="#ececec"/><circle cx="366.2" cy="357.5" r="0.43" fill="#fff"/><circle cx="363.9" cy="357.2" r="0.56" fill="#fff"/><circle cx="361.4" cy="355.4" r="0.53" fill="#444"/><circle cx="362.9" cy="356.3" r="0.43" fill="#ececec"/><circle cx="363.9" cy="355.7" r="0.53" fill="#fff"/><circle cx="363.9" cy="356.5" r="0.56" fill="#fff"/><circle cx="366.7" cy="356.2" r="0.65" fill="#f6f6f6"/><circle cx="363.7" cy="353.0" r="0.55" fill="#444"/><circle cx="362.8" cy="358.7" r="0.50" fill="#666"/><circle cx="366.7" cy="357.9" r="0.66" fill="#ececec"/><circle cx="363.4" cy="357.2" r="0.70" fill="#fff"/><circle cx="367.6" cy="353.0" r="0.54" fill="#ececec"/><circle cx="366.6" cy="353.7" r="0.54" fill="#fff"/><circle cx="367.6" cy="357.4" r="0.66" fill="#fff"/><circle cx="363.2" cy="353.2" r="0.37" fill="#fff"/><circle cx="364.9" cy="357.3" r="0.55" fill="#e8e8e8"/><circle cx="368.2" cy="355.3" r="0.45" fill="#444"/><circle cx="368.0" cy="352.6" r="0.68" fill="#fff"/><circle cx="364.7" cy="355.5" r="0.71" fill="#666"/><circle cx="365.0" cy="352.9" r="0.74" fill="#fff"/><circle cx="368.4" cy="354.1" r="0.38" fill="#fff"/><circle cx="370.8" cy="354.5" r="0.60" fill="#ececec"/><circle cx="368.9" cy="355.6" r="0.65" fill="#444"/><circle cx="370.3" cy="355.4" r="0.45" fill="#ececec"/><circle cx="364.9" cy="356.0" r="0.43" fill="#f6f6f6"/><circle cx="371.3" cy="349.3" r="0.46" fill="#f6f6f6"/><circle cx="372.3" cy="350.3" r="0.38" fill="#ececec"/><circle cx="370.0" cy="351.1" r="0.57" fill="#fff"/><circle cx="371.5" cy="351.4" r="0.37" fill="#fff"/><circle cx="369.4" cy="349.7" r="0.50" fill="#444"/><circle cx="371.2" cy="355.0" r="0.41" fill="#f6f6f6"/><circle cx="371.5" cy="348.6" r="0.64" fill="#e8e8e8"/><circle cx="366.8" cy="352.8" r="0.43" fill="#fff"/><circle cx="366.5" cy="353.3" r="0.35" fill="#e8e8e8"/><circle cx="373.1" cy="355.5" r="0.70" fill="#fff"/><circle cx="367.2" cy="351.5" r="0.53" fill="#fff"/><circle cx="375.1" cy="355.8" r="0.57" fill="#444"/><circle cx="370.2" cy="350.5" r="0.36" fill="#fff"/><circle cx="374.0" cy="354.4" r="0.70" fill="#444"/><circle cx="371.2" cy="354.5" r="0.38" fill="#ececec"/><circle cx="369.2" cy="348.2" r="0.53" fill="#fff"/><circle cx="375.1" cy="353.3" r="0.61" fill="#e8e8e8"/><circle cx="370.9" cy="348.0" r="0.51" fill="#ececec"/><circle cx="375.5" cy="352.6" r="0.58" fill="#fff"/><circle cx="374.4" cy="348.1" r="0.58" fill="#ececec"/><circle cx="373.7" cy="348.3" r="0.46" fill="#f6f6f6"/><circle cx="375.2" cy="353.3" r="0.72" fill="#666"/><circle cx="377.1" cy="349.3" r="0.71" fill="#fff"/><circle cx="370.0" cy="353.0" r="0.73" fill="#fff"/><circle cx="371.9" cy="354.1" r="0.52" fill="#666"/><circle cx="374.9" cy="353.8" r="0.71" fill="#f6f6f6"/><circle cx="374.9" cy="353.9" r="0.49" fill="#fff"/><circle cx="371.6" cy="347.3" r="0.70" fill="#444"/><circle cx="371.1" cy="349.0" r="0.42" fill="#fff"/><circle cx="373.8" cy="352.1" r="0.38" fill="#fff"/><circle cx="371.0" cy="346.7" r="0.40" fill="#ececec"/><circle cx="373.0" cy="350.3" r="0.45" fill="#fff"/><circle cx="375.6" cy="347.0" r="0.51" fill="#444"/><circle cx="371.9" cy="349.5" r="0.67" fill="#fff"/><circle cx="378.0" cy="350.6" r="0.38" fill="#f6f6f6"/><circle cx="376.5" cy="353.5" r="0.39" fill="#fff"/><circle cx="376.4" cy="348.2" r="0.63" fill="#666"/><circle cx="377.0" cy="347.3" r="0.47" fill="#fff"/><circle cx="377.2" cy="345.2" r="0.39" fill="#fff"/><circle cx="376.0" cy="353.4" r="0.68" fill="#fff"/><circle cx="377.4" cy="347.2" r="0.64" fill="#fff"/><circle cx="376.3" cy="350.7" r="0.45" fill="#444"/><circle cx="375.0" cy="349.4" r="0.47" fill="#ececec"/><circle cx="381.1" cy="345.4" r="0.39" fill="#f6f6f6"/><circle cx="376.7" cy="352.5" r="0.73" fill="#f6f6f6"/><circle cx="377.5" cy="351.7" r="0.43" fill="#fff"/><circle cx="379.3" cy="347.0" r="0.41" fill="#fff"/><circle cx="374.9" cy="348.4" r="0.62" fill="#fff"/><circle cx="375.8" cy="348.8" r="0.45" fill="#444"/><circle cx="381.5" cy="352.3" r="0.73" fill="#e8e8e8"/><circle cx="383.3" cy="349.0" r="0.38" fill="#444"/><circle cx="377.3" cy="345.0" r="0.49" fill="#e8e8e8"/><circle cx="382.6" cy="348.5" r="0.55" fill="#e8e8e8"/><circle cx="375.4" cy="351.1" r="0.68" fill="#444"/><circle cx="375.8" cy="348.8" r="0.45" fill="#fff"/><circle cx="382.0" cy="344.4" r="0.49" fill="#fff"/><circle cx="384.7" cy="351.4" r="0.69" fill="#fff"/><circle cx="379.3" cy="351.4" r="0.48" fill="#e8e8e8"/><circle cx="382.8" cy="346.5" r="0.63" fill="#fff"/><circle cx="381.6" cy="343.6" r="0.62" fill="#e8e8e8"/><circle cx="377.5" cy="350.9" r="0.64" fill="#fff"/><circle cx="384.4" cy="345.7" r="0.44" fill="#666"/><circle cx="379.2" cy="347.9" r="0.57" fill="#fff"/><circle cx="384.6" cy="343.1" r="0.48" fill="#fff"/><circle cx="383.6" cy="345.8" r="0.48" fill="#e8e8e8"/><circle cx="387.0" cy="344.9" r="0.67" fill="#ececec"/><circle cx="385.2" cy="346.3" r="0.74" fill="#e8e8e8"/><circle cx="386.1" cy="345.6" r="0.62" fill="#fff"/><circle cx="379.6" cy="347.3" r="0.57" fill="#fff"/><circle cx="379.2" cy="347.9" r="0.56" fill="#fff"/><circle cx="380.0" cy="349.5" r="0.52" fill="#fff"/><circle cx="381.6" cy="344.5" r="0.41" fill="#ececec"/><circle cx="381.6" cy="348.4" r="0.59" fill="#fff"/><circle cx="382.2" cy="350.2" r="0.47" fill="#f6f6f6"/><circle cx="387.6" cy="341.8" r="0.67" fill="#444"/><circle cx="380.2" cy="345.3" r="0.42" fill="#444"/><circle cx="383.9" cy="344.7" r="0.39" fill="#ececec"/><circle cx="381.6" cy="347.2" r="0.36" fill="#e8e8e8"/><circle cx="381.8" cy="344.7" r="0.74" fill="#666"/><circle cx="383.2" cy="344.8" r="0.69" fill="#fff"/><circle cx="382.8" cy="340.6" r="0.37" fill="#fff"/><circle cx="385.5" cy="341.5" r="0.52" fill="#ececec"/><circle cx="388.8" cy="346.4" r="0.58" fill="#444"/><circle cx="387.2" cy="349.0" r="0.49" fill="#fff"/><circle cx="384.2" cy="343.0" r="0.72" fill="#fff"/><circle cx="390.4" cy="346.0" r="0.59" fill="#fff"/><circle cx="389.3" cy="345.1" r="0.41" fill="#444"/><circle cx="387.6" cy="342.2" r="0.40" fill="#e8e8e8"/><circle cx="387.5" cy="342.0" r="0.49" fill="#666"/><circle cx="386.2" cy="345.6" r="0.52" fill="#fff"/><circle cx="387.1" cy="343.3" r="0.48" fill="#fff"/><circle cx="383.4" cy="342.8" r="0.43" fill="#444"/><circle cx="385.1" cy="341.5" r="0.48" fill="#ececec"/><circle cx="392.9" cy="345.7" r="0.61" fill="#fff"/><circle cx="390.3" cy="347.9" r="0.71" fill="#e8e8e8"/><circle cx="388.2" cy="341.1" r="0.61" fill="#fff"/><circle cx="385.5" cy="343.5" r="0.37" fill="#f6f6f6"/><circle cx="390.1" cy="345.4" r="0.51" fill="#f6f6f6"/><circle cx="392.9" cy="338.4" r="0.73" fill="#ececec"/><circle cx="387.1" cy="340.8" r="0.44" fill="#ececec"/><circle cx="389.7" cy="338.2" r="0.54" fill="#fff"/><circle cx="391.2" cy="345.4" r="0.61" fill="#fff"/><circle cx="390.2" cy="343.0" r="0.62" fill="#ececec"/><circle cx="394.1" cy="339.0" r="0.48" fill="#f6f6f6"/><circle cx="394.8" cy="345.2" r="0.37" fill="#fff"/><circle cx="388.0" cy="343.6" r="0.57" fill="#fff"/><circle cx="391.4" cy="344.4" r="0.58" fill="#fff"/><circle cx="393.4" cy="340.2" r="0.62" fill="#666"/><circle cx="395.3" cy="340.7" r="0.61" fill="#fff"/><circle cx="390.2" cy="344.6" r="0.51" fill="#666"/><circle cx="393.1" cy="341.4" r="0.74" fill="#fff"/><circle cx="392.0" cy="343.9" r="0.73" fill="#fff"/><circle cx="389.7" cy="343.0" r="0.47" fill="#f6f6f6"/><circle cx="389.7" cy="345.0" r="0.36" fill="#fff"/><circle cx="390.1" cy="339.7" r="0.42" fill="#ececec"/><circle cx="392.5" cy="339.1" r="0.63" fill="#fff"/><circle cx="393.4" cy="343.5" r="0.52" fill="#f6f6f6"/><circle cx="395.3" cy="341.4" r="0.72" fill="#666"/><circle cx="391.8" cy="344.5" r="0.55" fill="#444"/><circle cx="395.0" cy="340.6" r="0.53" fill="#ececec"/><circle cx="393.4" cy="340.6" r="0.39" fill="#fff"/><circle cx="393.5" cy="337.8" r="0.37" fill="#fff"/><circle cx="392.2" cy="344.6" r="0.54" fill="#666"/><circle cx="390.2" cy="335.8" r="0.74" fill="#ececec"/><circle cx="390.8" cy="337.6" r="0.55" fill="#ececec"/><circle cx="398.5" cy="340.8" r="0.70" fill="#fff"/><circle cx="390.8" cy="335.3" r="0.52" fill="#f6f6f6"/><circle cx="394.9" cy="336.4" r="0.50" fill="#444"/><circle cx="398.0" cy="344.4" r="0.52" fill="#f6f6f6"/><circle cx="397.2" cy="336.0" r="0.70" fill="#ececec"/><circle cx="399.6" cy="336.1" r="0.41" fill="#ececec"/><circle cx="401.4" cy="334.7" r="0.65" fill="#f6f6f6"/><circle cx="394.3" cy="335.4" r="0.67" fill="#666"/><circle cx="394.5" cy="334.3" r="0.75" fill="#f6f6f6"/><circle cx="398.2" cy="337.6" r="0.44" fill="#fff"/><circle cx="400.1" cy="337.9" r="0.43" fill="#444"/><circle cx="399.2" cy="339.9" r="0.47" fill="#e8e8e8"/><circle cx="399.9" cy="343.6" r="0.44" fill="#e8e8e8"/><circle cx="393.5" cy="336.3" r="0.65" fill="#fff"/><circle cx="399.7" cy="342.0" r="0.73" fill="#fff"/><circle cx="394.9" cy="336.7" r="0.49" fill="#666"/><circle cx="393.1" cy="343.4" r="0.53" fill="#666"/><circle cx="396.1" cy="340.4" r="0.62" fill="#fff"/><circle cx="400.6" cy="337.9" r="0.41" fill="#f6f6f6"/><circle cx="399.5" cy="339.9" r="0.41" fill="#fff"/><circle cx="398.1" cy="336.1" r="0.62" fill="#e8e8e8"/><circle cx="403.5" cy="337.4" r="0.50" fill="#444"/><circle cx="401.2" cy="336.4" r="0.50" fill="#f6f6f6"/><circle cx="397.9" cy="337.0" r="0.65" fill="#fff"/><circle cx="397.8" cy="337.5" r="0.75" fill="#444"/><circle cx="402.4" cy="339.6" r="0.52" fill="#e8e8e8"/><circle cx="396.1" cy="341.0" r="0.64" fill="#ececec"/><circle cx="397.8" cy="337.0" r="0.74" fill="#fff"/><circle cx="403.7" cy="340.2" r="0.74" fill="#fff"/><circle cx="402.0" cy="342.0" r="0.45" fill="#ececec"/><circle cx="396.5" cy="337.8" r="0.47" fill="#fff"/><circle cx="403.1" cy="335.2" r="0.58" fill="#e8e8e8"/><circle cx="403.8" cy="332.4" r="0.35" fill="#444"/><circle cx="405.9" cy="336.4" r="0.68" fill="#444"/><circle cx="405.9" cy="334.9" r="0.51" fill="#fff"/><circle cx="404.2" cy="339.6" r="0.67" fill="#fff"/><circle cx="400.2" cy="340.0" r="0.51" fill="#ececec"/><circle cx="406.0" cy="331.1" r="0.67" fill="#f6f6f6"/><circle cx="403.0" cy="337.1" r="0.73" fill="#666"/><circle cx="399.1" cy="338.4" r="0.67" fill="#e8e8e8"/><circle cx="405.7" cy="331.3" r="0.61" fill="#fff"/><circle cx="402.4" cy="336.7" r="0.74" fill="#ececec"/><circle cx="406.2" cy="336.9" r="0.42" fill="#666"/><circle cx="403.9" cy="332.9" r="0.59" fill="#666"/><circle cx="408.6" cy="339.4" r="0.65" fill="#444"/><circle cx="402.8" cy="329.4" r="0.57" fill="#f6f6f6"/><circle cx="404.9" cy="336.2" r="0.62" fill="#fff"/><circle cx="403.3" cy="334.6" r="0.60" fill="#fff"/><circle cx="403.7" cy="338.1" r="0.59" fill="#fff"/><circle cx="399.5" cy="335.1" r="0.75" fill="#fff"/><circle cx="407.6" cy="337.4" r="0.69" fill="#e8e8e8"/><circle cx="403.2" cy="330.8" r="0.67" fill="#fff"/><circle cx="403.1" cy="331.5" r="0.53" fill="#ececec"/><circle cx="400.6" cy="329.0" r="0.49" fill="#fff"/><circle cx="407.5" cy="329.3" r="0.52" fill="#fff"/><circle cx="405.7" cy="328.8" r="0.48" fill="#fff"/><circle cx="404.0" cy="330.6" r="0.63" fill="#ececec"/><circle cx="402.8" cy="331.6" r="0.72" fill="#fff"/><circle cx="410.1" cy="336.4" r="0.71" fill="#fff"/><circle cx="408.9" cy="333.9" r="0.55" fill="#fff"/><circle cx="408.5" cy="332.0" r="0.72" fill="#fff"/><circle cx="409.9" cy="336.1" r="0.74" fill="#fff"/><circle cx="405.2" cy="331.4" r="0.71" fill="#fff"/><circle cx="403.1" cy="335.9" r="0.61" fill="#444"/><circle cx="404.5" cy="327.5" r="0.40" fill="#444"/><circle cx="407.3" cy="328.4" r="0.54" fill="#444"/><circle cx="408.6" cy="335.6" r="0.51" fill="#666"/><circle cx="407.5" cy="328.0" r="0.60" fill="#e8e8e8"/><circle cx="407.9" cy="334.1" r="0.43" fill="#fff"/><circle cx="412.1" cy="328.6" r="0.58" fill="#e8e8e8"/><circle cx="405.3" cy="332.1" r="0.67" fill="#fff"/><circle cx="410.8" cy="333.2" r="0.55" fill="#666"/><circle cx="406.9" cy="332.7" r="0.55" fill="#444"/><circle cx="407.7" cy="325.9" r="0.70" fill="#fff"/><circle cx="404.7" cy="331.2" r="0.65" fill="#e8e8e8"/><circle cx="409.2" cy="334.8" r="0.70" fill="#f6f6f6"/><circle cx="407.8" cy="330.2" r="0.53" fill="#f6f6f6"/><circle cx="413.0" cy="331.9" r="0.53" fill="#666"/><circle cx="405.6" cy="331.1" r="0.44" fill="#fff"/><circle cx="407.0" cy="332.6" r="0.69" fill="#f6f6f6"/><circle cx="410.8" cy="331.8" r="0.60" fill="#444"/><circle cx="415.1" cy="324.3" r="0.72" fill="#fff"/><circle cx="412.7" cy="327.7" r="0.39" fill="#fff"/><circle cx="414.5" cy="333.9" r="0.53" fill="#fff"/><circle cx="411.0" cy="323.4" r="0.65" fill="#fff"/><circle cx="409.9" cy="331.8" r="0.41" fill="#fff"/><circle cx="410.3" cy="325.0" r="0.67" fill="#e8e8e8"/><circle cx="407.9" cy="328.2" r="0.60" fill="#fff"/><circle cx="416.3" cy="332.7" r="0.61" fill="#ececec"/><circle cx="414.6" cy="327.8" r="0.59" fill="#ececec"/><circle cx="413.0" cy="323.6" r="0.69" fill="#fff"/><circle cx="411.8" cy="327.7" r="0.50" fill="#ececec"/><circle cx="409.9" cy="322.7" r="0.56" fill="#444"/><circle cx="417.5" cy="323.7" r="0.49" fill="#444"/><circle cx="417.9" cy="329.0" r="0.56" fill="#fff"/><circle cx="415.5" cy="324.9" r="0.52" fill="#ececec"/><circle cx="418.4" cy="324.3" r="0.60" fill="#fff"/><circle cx="411.5" cy="328.5" r="0.59" fill="#ececec"/><circle cx="411.4" cy="330.0" r="0.40" fill="#fff"/><circle cx="412.4" cy="323.9" r="0.72" fill="#f6f6f6"/><circle cx="412.9" cy="328.0" r="0.61" fill="#e8e8e8"/><circle cx="409.4" cy="328.0" r="0.43" fill="#ececec"/><circle cx="410.7" cy="321.4" r="0.69" fill="#fff"/><circle cx="412.9" cy="324.5" r="0.75" fill="#444"/><circle cx="417.1" cy="324.9" r="0.72" fill="#ececec"/><circle cx="419.5" cy="325.7" r="0.71" fill="#fff"/><circle cx="413.6" cy="320.5" r="0.62" fill="#666"/><circle cx="416.8" cy="328.2" r="0.60" fill="#ececec"/><circle cx="419.0" cy="321.1" r="0.48" fill="#f6f6f6"/><circle cx="419.4" cy="320.8" r="0.51" fill="#666"/><circle cx="416.8" cy="324.3" r="0.47" fill="#fff"/><circle cx="420.2" cy="326.4" r="0.70" fill="#666"/><circle cx="418.8" cy="324.7" r="0.72" fill="#fff"/><circle cx="412.0" cy="323.5" r="0.61" fill="#ececec"/><circle cx="415.6" cy="322.7" r="0.69" fill="#fff"/><circle cx="419.4" cy="323.3" r="0.40" fill="#fff"/><circle cx="418.8" cy="328.3" r="0.58" fill="#f6f6f6"/><circle cx="420.0" cy="325.5" r="0.43" fill="#fff"/><circle cx="420.0" cy="325.1" r="0.41" fill="#ececec"/><circle cx="421.9" cy="324.9" r="0.54" fill="#666"/><circle cx="421.2" cy="326.9" r="0.55" fill="#f6f6f6"/><circle cx="417.3" cy="319.4" r="0.42" fill="#f6f6f6"/><circle cx="417.7" cy="319.5" r="0.57" fill="#e8e8e8"/><circle cx="417.2" cy="318.1" r="0.72" fill="#fff"/><circle cx="415.1" cy="323.6" r="0.43" fill="#444"/><circle cx="419.9" cy="322.8" r="0.60" fill="#ececec"/><circle cx="418.4" cy="325.3" r="0.67" fill="#444"/><circle cx="418.3" cy="325.2" r="0.56" fill="#e8e8e8"/><circle cx="423.0" cy="326.4" r="0.60" fill="#f6f6f6"/><circle cx="422.4" cy="323.4" r="0.53" fill="#fff"/><circle cx="415.8" cy="317.7" r="0.65" fill="#fff"/><circle cx="417.1" cy="319.8" r="0.45" fill="#f6f6f6"/><circle cx="419.1" cy="325.4" r="0.55" fill="#fff"/><circle cx="423.5" cy="325.4" r="0.59" fill="#fff"/><circle cx="422.2" cy="320.9" r="0.71" fill="#fff"/><circle cx="417.1" cy="316.6" r="0.51" fill="#666"/><circle cx="421.5" cy="321.3" r="0.36" fill="#f6f6f6"/><circle cx="417.2" cy="319.8" r="0.66" fill="#fff"/><circle cx="423.2" cy="317.3" r="0.67" fill="#e8e8e8"/><circle cx="419.5" cy="317.0" r="0.50" fill="#fff"/><circle cx="422.3" cy="316.8" r="0.70" fill="#f6f6f6"/><circle cx="421.5" cy="318.9" r="0.52" fill="#e8e8e8"/><circle cx="419.4" cy="321.6" r="0.65" fill="#ececec"/><circle cx="425.6" cy="317.5" r="0.67" fill="#ececec"/><circle cx="421.0" cy="322.0" r="0.62" fill="#fff"/><circle cx="425.3" cy="315.9" r="0.45" fill="#fff"/><circle cx="421.4" cy="317.2" r="0.40" fill="#fff"/><circle cx="421.1" cy="318.0" r="0.75" fill="#ececec"/><circle cx="421.0" cy="315.1" r="0.51" fill="#e8e8e8"/><circle cx="425.3" cy="318.8" r="0.54" fill="#f6f6f6"/><circle cx="426.6" cy="319.8" r="0.69" fill="#fff"/><circle cx="421.5" cy="318.6" r="0.49" fill="#fff"/><circle cx="423.7" cy="320.5" r="0.74" fill="#f6f6f6"/><circle cx="427.1" cy="316.9" r="0.66" fill="#e8e8e8"/><circle cx="423.1" cy="316.5" r="0.57" fill="#fff"/><circle cx="423.2" cy="316.0" r="0.59" fill="#f6f6f6"/><circle cx="424.4" cy="316.4" r="0.74" fill="#fff"/><circle cx="424.6" cy="314.8" r="0.73" fill="#f6f6f6"/><circle cx="424.0" cy="315.9" r="0.68" fill="#ececec"/><circle cx="425.0" cy="315.1" r="0.44" fill="#fff"/><circle cx="424.1" cy="318.9" r="0.35" fill="#ececec"/><circle cx="424.4" cy="318.4" r="0.54" fill="#666"/></g>
<g fill="#36b0cc"><circle cx="96.5" cy="67.7" r="1.15"/><circle cx="85.8" cy="80.8" r="1.15"/><circle cx="94.0" cy="83.3" r="1.15"/><circle cx="104.0" cy="80.8" r="1.15"/><circle cx="100.7" cy="90.8" r="1.15"/><circle cx="96.5" cy="76.6" r="1.15"/><circle cx="174.2" cy="32.3" r="1.15"/><circle cx="153.5" cy="41.8" r="1.15"/><circle cx="136.4" cy="49.8" r="1.15"/><circle cx="132.6" cy="56.2" r="1.15"/><circle cx="126.9" cy="60.2" r="1.15"/><circle cx="145.6" cy="56.7" r="1.15"/><circle cx="144.3" cy="64.2" r="1.15"/><circle cx="136.9" cy="68.4" r="1.15"/><circle cx="145.6" cy="73.4" r="1.15"/><circle cx="148.0" cy="74.1" r="1.15"/><circle cx="121.4" cy="75.9" r="1.15"/><circle cx="172.2" cy="59.2" r="1.15"/><circle cx="174.7" cy="56.7" r="1.15"/><circle cx="172.2" cy="65.2" r="1.15"/><circle cx="182.1" cy="49.8" r="1.15"/><circle cx="190.3" cy="43.5" r="1.15"/><circle cx="191.6" cy="53.5" r="1.15"/><circle cx="182.9" cy="83.3" r="1.15"/><circle cx="181.1" cy="91.5" r="1.15"/><circle cx="170.4" cy="91.5" r="1.15"/><circle cx="166.7" cy="93.3" r="1.15"/><circle cx="163.0" cy="95.8" r="1.15"/><circle cx="110.0" cy="92.5" r="1.15"/><circle cx="192.8" cy="75.9" r="1.15"/><circle cx="191.6" cy="88.3" r="1.15"/><circle cx="207.7" cy="65.2" r="1.15"/><circle cx="211.5" cy="75.9" r="1.15"/><circle cx="214.0" cy="87.1" r="1.15"/><circle cx="197.8" cy="97.0" r="1.15"/><circle cx="210.2" cy="97.0" r="1.15"/><circle cx="217.7" cy="19.4" r="1.15"/><circle cx="228.4" cy="19.4" r="1.15"/><circle cx="225.2" cy="27.9" r="1.15"/><circle cx="222.0" cy="31.8" r="1.15"/><circle cx="243.4" cy="30.3" r="1.15"/><circle cx="253.3" cy="31.1" r="1.15"/><circle cx="238.4" cy="39.8" r="1.15"/><circle cx="245.1" cy="44.3" r="1.15"/><circle cx="236.9" cy="47.8" r="1.15"/><circle cx="253.8" cy="53.5" r="1.15"/><circle cx="270.7" cy="51.0" r="1.15"/><circle cx="273.7" cy="54.7" r="1.15"/><circle cx="264.5" cy="24.9" r="1.15"/><circle cx="278.2" cy="18.7" r="1.15"/><circle cx="279.2" cy="21.9" r="1.15"/><circle cx="293.1" cy="26.9" r="1.15"/><circle cx="297.3" cy="46.0" r="1.15"/><circle cx="299.8" cy="54.2" r="1.15"/><circle cx="318.0" cy="53.5" r="1.15"/><circle cx="309.0" cy="10.0" r="1.15"/><circle cx="300.6" cy="8.0" r="1.15"/><circle cx="226.9" cy="65.2" r="1.15"/><circle cx="228.4" cy="67.7" r="1.15"/><circle cx="252.6" cy="64.2" r="1.15"/><circle cx="260.0" cy="72.1" r="1.15"/><circle cx="279.2" cy="72.1" r="1.15"/><circle cx="280.7" cy="64.2" r="1.15"/><circle cx="289.1" cy="66.7" r="1.15"/><circle cx="292.4" cy="74.6" r="1.15"/><circle cx="274.2" cy="80.8" r="1.15"/><circle cx="266.2" cy="79.6" r="1.15"/><circle cx="263.3" cy="73.4" r="1.15"/><circle cx="232.7" cy="80.8" r="1.15"/><circle cx="225.2" cy="80.1" r="1.15"/><circle cx="240.9" cy="77.6" r="1.15"/><circle cx="245.1" cy="78.4" r="1.15"/><circle cx="255.0" cy="82.1" r="1.15"/><circle cx="257.5" cy="84.6" r="1.15"/><circle cx="251.3" cy="90.8" r="1.15"/><circle cx="238.9" cy="91.5" r="1.15"/><circle cx="226.4" cy="93.3" r="1.15"/><circle cx="217.7" cy="85.8" r="1.15"/><circle cx="267.5" cy="90.8" r="1.15"/><circle cx="274.2" cy="84.6" r="1.15"/><circle cx="279.9" cy="91.5" r="1.15"/><circle cx="286.1" cy="90.0" r="1.15"/><circle cx="295.6" cy="89.6" r="1.15"/><circle cx="297.3" cy="85.8" r="1.15"/><circle cx="289.1" cy="97.0" r="1.15"/><circle cx="260.0" cy="97.5" r="1.15"/><circle cx="253.8" cy="99.0" r="1.15"/><circle cx="230.2" cy="98.3" r="1.15"/><circle cx="299.8" cy="98.3" r="1.15"/><circle cx="318.5" cy="85.8" r="1.15"/><circle cx="323.0" cy="79.6" r="1.15"/><circle cx="372.7" cy="12.9" r="1.15"/><circle cx="370.8" cy="21.1" r="1.15"/><circle cx="339.7" cy="24.4" r="1.15"/><circle cx="345.9" cy="34.3" r="1.15"/><circle cx="351.3" cy="34.3" r="1.15"/><circle cx="332.9" cy="42.8" r="1.15"/><circle cx="354.6" cy="39.3" r="1.15"/><circle cx="348.4" cy="46.0" r="1.15"/><circle cx="360.3" cy="45.3" r="1.15"/><circle cx="363.8" cy="47.8" r="1.15"/><circle cx="366.3" cy="46.8" r="1.15"/><circle cx="369.5" cy="37.8" r="1.15"/><circle cx="377.7" cy="32.3" r="1.15"/><circle cx="379.5" cy="36.8" r="1.15"/><circle cx="388.2" cy="32.8" r="1.15"/><circle cx="390.7" cy="31.8" r="1.15"/><circle cx="405.1" cy="30.3" r="1.15"/><circle cx="381.9" cy="43.5" r="1.15"/><circle cx="394.4" cy="43.5" r="1.15"/><circle cx="377.0" cy="51.7" r="1.15"/><circle cx="369.5" cy="57.2" r="1.15"/><circle cx="357.1" cy="60.2" r="1.15"/><circle cx="338.4" cy="58.5" r="1.15"/><circle cx="343.9" cy="65.2" r="1.15"/><circle cx="375.2" cy="61.7" r="1.15"/><circle cx="400.6" cy="57.7" r="1.15"/><circle cx="362.8" cy="72.1" r="1.15"/><circle cx="353.3" cy="73.4" r="1.15"/><circle cx="325.5" cy="70.9" r="1.15"/><circle cx="327.2" cy="79.6" r="1.15"/><circle cx="365.8" cy="79.1" r="1.15"/><circle cx="352.8" cy="85.8" r="1.15"/><circle cx="359.6" cy="92.5" r="1.15"/><circle cx="355.8" cy="97.0" r="1.15"/><circle cx="367.8" cy="90.8" r="1.15"/><circle cx="395.6" cy="79.6" r="1.15"/><circle cx="390.7" cy="89.6" r="1.15"/><circle cx="411.8" cy="98.3" r="1.15"/><circle cx="46.8" cy="105.5" r="1.15"/><circle cx="32.3" cy="116.9" r="1.15"/><circle cx="36.8" cy="118.7" r="1.15"/><circle cx="45.3" cy="121.1" r="1.15"/><circle cx="23.6" cy="140.3" r="1.15"/><circle cx="32.3" cy="138.6" r="1.15"/><circle cx="39.3" cy="137.3" r="1.15"/><circle cx="52.2" cy="140.3" r="1.15"/><circle cx="55.2" cy="136.8" r="1.15"/><circle cx="65.2" cy="136.8" r="1.15"/><circle cx="58.5" cy="146.8" r="1.15"/><circle cx="64.2" cy="154.2" r="1.15"/><circle cx="37.3" cy="152.7" r="1.15"/><circle cx="31.1" cy="152.7" r="1.15"/><circle cx="44.3" cy="155.2" r="1.15"/><circle cx="51.0" cy="151.0" r="1.15"/><circle cx="53.5" cy="162.2" r="1.15"/><circle cx="59.2" cy="157.7" r="1.15"/><circle cx="70.1" cy="160.9" r="1.15"/><circle cx="74.6" cy="141.0" r="1.15"/><circle cx="70.1" cy="133.6" r="1.15"/><circle cx="77.6" cy="129.4" r="1.15"/><circle cx="79.1" cy="122.4" r="1.15"/><circle cx="86.6" cy="124.9" r="1.15"/><circle cx="84.6" cy="118.7" r="1.15"/><circle cx="95.8" cy="122.9" r="1.15"/><circle cx="100.0" cy="132.3" r="1.15"/><circle cx="100.0" cy="142.8" r="1.15"/><circle cx="102.0" cy="147.8" r="1.15"/><circle cx="109.0" cy="146.8" r="1.15"/><circle cx="30.3" cy="165.2" r="1.15"/><circle cx="27.4" cy="173.4" r="1.15"/><circle cx="23.6" cy="167.7" r="1.15"/><circle cx="44.3" cy="172.1" r="1.15"/><circle cx="51.0" cy="174.1" r="1.15"/><circle cx="60.9" cy="180.1" r="1.15"/><circle cx="66.7" cy="169.2" r="1.15"/><circle cx="74.6" cy="167.2" r="1.15"/><circle cx="74.1" cy="185.8" r="1.15"/><circle cx="86.6" cy="185.1" r="1.15"/><circle cx="57.2" cy="191.5" r="1.15"/><circle cx="65.2" cy="194.0" r="1.15"/><circle cx="49.8" cy="193.3" r="1.15"/><circle cx="56.0" cy="197.0" r="1.15"/><circle cx="72.6" cy="190.0" r="1.15"/><circle cx="107.5" cy="165.2" r="1.15"/><circle cx="104.5" cy="172.1" r="1.15"/><circle cx="102.5" cy="137.3" r="1.15"/><circle cx="118.2" cy="101.2" r="1.15"/><circle cx="136.9" cy="103.0" r="1.15"/><circle cx="143.8" cy="111.9" r="1.15"/><circle cx="146.3" cy="115.4" r="1.15"/><circle cx="134.4" cy="110.0" r="1.15"/><circle cx="121.9" cy="120.4" r="1.15"/><circle cx="136.4" cy="123.6" r="1.15"/><circle cx="128.1" cy="132.3" r="1.15"/><circle cx="115.7" cy="131.8" r="1.15"/><circle cx="140.6" cy="132.3" r="1.15"/><circle cx="147.3" cy="129.4" r="1.15"/><circle cx="154.8" cy="125.6" r="1.15"/><circle cx="163.0" cy="118.7" r="1.15"/><circle cx="167.9" cy="111.9" r="1.15"/><circle cx="176.2" cy="108.0" r="1.15"/><circle cx="181.6" cy="110.4" r="1.15"/><circle cx="186.6" cy="105.5" r="1.15"/><circle cx="181.1" cy="117.9" r="1.15"/><circle cx="186.1" cy="126.9" r="1.15"/><circle cx="177.1" cy="127.9" r="1.15"/><circle cx="168.7" cy="126.1" r="1.15"/><circle cx="172.9" cy="134.3" r="1.15"/><circle cx="179.6" cy="137.8" r="1.15"/><circle cx="184.6" cy="141.0" r="1.15"/><circle cx="189.6" cy="143.5" r="1.15"/><circle cx="182.9" cy="147.3" r="1.15"/><circle cx="177.9" cy="153.5" r="1.15"/><circle cx="186.6" cy="157.7" r="1.15"/><circle cx="171.2" cy="156.7" r="1.15"/><circle cx="168.7" cy="164.7" r="1.15"/><circle cx="161.2" cy="166.7" r="1.15"/><circle cx="153.0" cy="164.2" r="1.15"/><circle cx="148.0" cy="159.2" r="1.15"/><circle cx="138.8" cy="156.0" r="1.15"/><circle cx="136.9" cy="164.2" r="1.15"/><circle cx="126.4" cy="165.2" r="1.15"/><circle cx="123.2" cy="176.6" r="1.15"/><circle cx="118.2" cy="185.8" r="1.15"/><circle cx="114.0" cy="182.1" r="1.15"/><circle cx="129.9" cy="192.5" r="1.15"/><circle cx="138.8" cy="180.1" r="1.15"/><circle cx="145.6" cy="175.1" r="1.15"/><circle cx="152.3" cy="172.6" r="1.15"/><circle cx="163.0" cy="174.1" r="1.15"/><circle cx="169.2" cy="180.8" r="1.15"/><circle cx="165.5" cy="186.6" r="1.15"/><circle cx="174.2" cy="185.8" r="1.15"/><circle cx="172.9" cy="193.3" r="1.15"/><circle cx="186.1" cy="185.8" r="1.15"/><circle cx="192.1" cy="190.8" r="1.15"/><circle cx="187.8" cy="180.1" r="1.15"/><circle cx="191.1" cy="172.1" r="1.15"/><circle cx="197.0" cy="166.7" r="1.15"/><circle cx="199.5" cy="162.2" r="1.15"/><circle cx="208.5" cy="154.2" r="1.15"/><circle cx="212.7" cy="157.7" r="1.15"/><circle cx="195.3" cy="135.3" r="1.15"/><circle cx="195.3" cy="119.4" r="1.15"/><circle cx="192.1" cy="111.9" r="1.15"/><circle cx="208.5" cy="112.9" r="1.15"/><circle cx="201.5" cy="105.5" r="1.15"/><circle cx="214.5" cy="107.5" r="1.15"/><circle cx="200.3" cy="140.3" r="1.15"/><circle cx="260.0" cy="104.5" r="1.15"/><circle cx="266.2" cy="108.7" r="1.15"/><circle cx="268.7" cy="114.9" r="1.15"/><circle cx="261.3" cy="116.2" r="1.15"/><circle cx="273.7" cy="109.5" r="1.15"/><circle cx="284.9" cy="117.4" r="1.15"/><circle cx="287.4" cy="121.1" r="1.15"/><circle cx="280.7" cy="124.9" r="1.15"/><circle cx="263.8" cy="123.6" r="1.15"/><circle cx="258.3" cy="129.4" r="1.15"/><circle cx="255.0" cy="134.8" r="1.15"/><circle cx="267.5" cy="138.6" r="1.15"/><circle cx="257.5" cy="145.3" r="1.15"/><circle cx="260.0" cy="152.2" r="1.15"/><circle cx="250.8" cy="159.2" r="1.15"/><circle cx="230.9" cy="159.7" r="1.15"/><circle cx="218.5" cy="166.7" r="1.15"/><circle cx="230.9" cy="168.4" r="1.15"/><circle cx="233.4" cy="175.1" r="1.15"/><circle cx="246.3" cy="171.6" r="1.15"/><circle cx="250.8" cy="175.1" r="1.15"/><circle cx="272.5" cy="166.7" r="1.15"/><circle cx="280.7" cy="164.2" r="1.15"/><circle cx="270.0" cy="154.2" r="1.15"/><circle cx="283.7" cy="157.7" r="1.15"/><circle cx="287.4" cy="146.8" r="1.15"/><circle cx="286.1" cy="153.5" r="1.15"/><circle cx="294.1" cy="144.3" r="1.15"/><circle cx="294.8" cy="137.3" r="1.15"/><circle cx="298.6" cy="147.3" r="1.15"/><circle cx="299.8" cy="152.2" r="1.15"/><circle cx="301.6" cy="157.7" r="1.15"/><circle cx="306.5" cy="161.7" r="1.15"/><circle cx="308.0" cy="175.1" r="1.15"/><circle cx="302.3" cy="179.1" r="1.15"/><circle cx="312.3" cy="182.6" r="1.15"/><circle cx="321.0" cy="180.8" r="1.15"/><circle cx="291.6" cy="174.1" r="1.15"/><circle cx="282.4" cy="179.1" r="1.15"/><circle cx="271.7" cy="177.6" r="1.15"/><circle cx="270.7" cy="184.6" r="1.15"/><circle cx="278.7" cy="189.6" r="1.15"/><circle cx="283.7" cy="195.8" r="1.15"/><circle cx="288.6" cy="190.8" r="1.15"/><circle cx="301.6" cy="185.1" r="1.15"/><circle cx="301.6" cy="193.3" r="1.15"/><circle cx="311.0" cy="190.8" r="1.15"/><circle cx="313.5" cy="197.0" r="1.15"/><circle cx="319.7" cy="195.8" r="1.15"/><circle cx="307.3" cy="103.7" r="1.15"/><circle cx="301.1" cy="101.2" r="1.15"/><circle cx="220.2" cy="189.1" r="1.15"/><circle cx="226.4" cy="191.5" r="1.15"/><circle cx="256.3" cy="185.1" r="1.15"/><circle cx="267.5" cy="180.1" r="1.15"/><circle cx="276.7" cy="173.4" r="1.15"/><circle cx="262.5" cy="167.2" r="1.15"/><circle cx="321.5" cy="160.9" r="1.15"/><circle cx="323.5" cy="167.2" r="1.15"/><circle cx="318.5" cy="156.0" r="1.15"/><circle cx="361.3" cy="104.5" r="1.15"/><circle cx="400.1" cy="104.5" r="1.15"/><circle cx="385.2" cy="103.7" r="1.15"/><circle cx="385.7" cy="112.4" r="1.15"/><circle cx="395.6" cy="111.2" r="1.15"/><circle cx="357.8" cy="115.4" r="1.15"/><circle cx="360.3" cy="126.1" r="1.15"/><circle cx="365.3" cy="123.6" r="1.15"/><circle cx="378.2" cy="122.9" r="1.15"/><circle cx="379.5" cy="117.9" r="1.15"/><circle cx="388.7" cy="117.9" r="1.15"/><circle cx="390.7" cy="137.8" r="1.15"/><circle cx="399.4" cy="131.8" r="1.15"/><circle cx="353.3" cy="138.6" r="1.15"/><circle cx="348.9" cy="144.3" r="1.15"/><circle cx="331.0" cy="142.8" r="1.15"/><circle cx="340.4" cy="147.3" r="1.15"/><circle cx="382.7" cy="146.8" r="1.15"/><circle cx="386.2" cy="152.7" r="1.15"/><circle cx="400.1" cy="144.8" r="1.15"/><circle cx="397.6" cy="151.0" r="1.15"/><circle cx="382.7" cy="158.5" r="1.15"/><circle cx="372.7" cy="160.2" r="1.15"/><circle cx="386.9" cy="166.7" r="1.15"/><circle cx="377.0" cy="175.9" r="1.15"/><circle cx="386.2" cy="171.6" r="1.15"/><circle cx="352.8" cy="157.7" r="1.15"/><circle cx="348.9" cy="170.1" r="1.15"/><circle cx="358.3" cy="172.6" r="1.15"/><circle cx="343.9" cy="177.1" r="1.15"/><circle cx="331.4" cy="166.7" r="1.15"/><circle cx="328.5" cy="178.4" r="1.15"/><circle cx="338.4" cy="180.1" r="1.15"/><circle cx="355.8" cy="186.6" r="1.15"/><circle cx="344.6" cy="191.5" r="1.15"/><circle cx="357.8" cy="195.8" r="1.15"/><circle cx="386.2" cy="175.1" r="1.15"/><circle cx="370.8" cy="174.6" r="1.15"/><circle cx="364.5" cy="183.3" r="1.15"/><circle cx="409.3" cy="189.6" r="1.15"/><circle cx="401.1" cy="197.5" r="1.15"/><circle cx="406.1" cy="171.6" r="1.15"/><circle cx="374.5" cy="187.1" r="1.15"/><circle cx="19.4" cy="206.2" r="1.15"/><circle cx="29.9" cy="208.0" r="1.15"/><circle cx="20.4" cy="214.4" r="1.15"/><circle cx="32.3" cy="212.9" r="1.15"/><circle cx="33.6" cy="226.1" r="1.15"/><circle cx="41.8" cy="229.9" r="1.15"/><circle cx="26.1" cy="233.6" r="1.15"/><circle cx="25.4" cy="251.0" r="1.15"/><circle cx="32.3" cy="252.7" r="1.15"/><circle cx="34.8" cy="267.2" r="1.15"/><circle cx="37.3" cy="268.4" r="1.15"/><circle cx="23.6" cy="265.9" r="1.15"/><circle cx="51.7" cy="259.7" r="1.15"/><circle cx="56.7" cy="236.8" r="1.15"/><circle cx="59.7" cy="236.1" r="1.15"/><circle cx="65.2" cy="223.6" r="1.15"/><circle cx="71.6" cy="208.0" r="1.15"/><circle cx="75.9" cy="215.4" r="1.15"/><circle cx="80.8" cy="218.7" r="1.15"/><circle cx="86.6" cy="203.0" r="1.15"/><circle cx="85.8" cy="216.9" r="1.15"/><circle cx="75.9" cy="226.1" r="1.15"/><circle cx="83.3" cy="228.6" r="1.15"/><circle cx="84.6" cy="236.1" r="1.15"/><circle cx="88.3" cy="236.1" r="1.15"/><circle cx="72.1" cy="242.3" r="1.15"/><circle cx="80.8" cy="248.5" r="1.15"/><circle cx="74.6" cy="252.2" r="1.15"/><circle cx="79.1" cy="255.2" r="1.15"/><circle cx="63.4" cy="254.2" r="1.15"/><circle cx="61.7" cy="259.2" r="1.15"/><circle cx="72.1" cy="262.2" r="1.15"/><circle cx="80.8" cy="265.9" r="1.15"/><circle cx="85.8" cy="263.4" r="1.15"/><circle cx="88.3" cy="263.4" r="1.15"/><circle cx="89.6" cy="268.4" r="1.15"/><circle cx="71.6" cy="275.1" r="1.15"/><circle cx="77.1" cy="275.9" r="1.15"/><circle cx="66.7" cy="269.2" r="1.15"/><circle cx="54.7" cy="280.1" r="1.15"/><circle cx="62.2" cy="285.1" r="1.15"/><circle cx="51.7" cy="287.6" r="1.15"/><circle cx="31.1" cy="288.3" r="1.15"/><circle cx="39.8" cy="281.6" r="1.15"/><circle cx="22.4" cy="289.1" r="1.15"/><circle cx="43.5" cy="274.6" r="1.15"/><circle cx="98.3" cy="241.0" r="1.15"/><circle cx="99.5" cy="260.9" r="1.15"/><circle cx="98.3" cy="274.1" r="1.15"/><circle cx="102.0" cy="282.6" r="1.15"/><circle cx="94.0" cy="298.3" r="1.15"/><circle cx="77.1" cy="295.8" r="1.15"/><circle cx="65.9" cy="297.0" r="1.15"/><circle cx="100.7" cy="224.9" r="1.15"/><circle cx="109.0" cy="223.6" r="1.15"/><circle cx="109.0" cy="214.9" r="1.15"/><circle cx="99.5" cy="214.9" r="1.15"/><circle cx="104.5" cy="208.7" r="1.15"/><circle cx="107.0" cy="248.5" r="1.15"/><circle cx="109.5" cy="258.5" r="1.15"/><circle cx="136.4" cy="204.5" r="1.15"/><circle cx="140.6" cy="212.9" r="1.15"/><circle cx="121.9" cy="211.9" r="1.15"/><circle cx="152.3" cy="219.4" r="1.15"/><circle cx="131.9" cy="218.7" r="1.15"/><circle cx="131.4" cy="222.4" r="1.15"/><circle cx="132.4" cy="227.4" r="1.15"/><circle cx="113.2" cy="229.4" r="1.15"/><circle cx="123.2" cy="231.8" r="1.15"/><circle cx="134.4" cy="234.8" r="1.15"/><circle cx="121.9" cy="238.6" r="1.15"/><circle cx="131.9" cy="240.3" r="1.15"/><circle cx="139.3" cy="241.8" r="1.15"/><circle cx="126.4" cy="247.8" r="1.15"/><circle cx="146.3" cy="245.3" r="1.15"/><circle cx="152.3" cy="251.0" r="1.15"/><circle cx="159.2" cy="247.8" r="1.15"/><circle cx="167.9" cy="252.2" r="1.15"/><circle cx="173.7" cy="249.8" r="1.15"/><circle cx="184.1" cy="254.7" r="1.15"/><circle cx="192.8" cy="246.0" r="1.15"/><circle cx="189.1" cy="231.1" r="1.15"/><circle cx="191.6" cy="224.4" r="1.15"/><circle cx="196.1" cy="226.1" r="1.15"/><circle cx="205.3" cy="223.6" r="1.15"/><circle cx="202.8" cy="215.4" r="1.15"/><circle cx="201.5" cy="232.3" r="1.15"/><circle cx="210.2" cy="247.3" r="1.15"/><circle cx="214.0" cy="253.5" r="1.15"/><circle cx="115.7" cy="258.5" r="1.15"/><circle cx="121.4" cy="260.2" r="1.15"/><circle cx="137.3" cy="264.2" r="1.15"/><circle cx="144.3" cy="267.2" r="1.15"/><circle cx="148.0" cy="261.7" r="1.15"/><circle cx="152.3" cy="265.2" r="1.15"/><circle cx="158.0" cy="263.4" r="1.15"/><circle cx="164.2" cy="263.4" r="1.15"/><circle cx="170.4" cy="270.9" r="1.15"/><circle cx="172.2" cy="273.4" r="1.15"/><circle cx="163.0" cy="274.1" r="1.15"/><circle cx="158.7" cy="277.6" r="1.15"/><circle cx="153.8" cy="279.1" r="1.15"/><circle cx="117.4" cy="274.1" r="1.15"/><circle cx="125.7" cy="276.6" r="1.15"/><circle cx="129.9" cy="275.9" r="1.15"/><circle cx="114.5" cy="279.1" r="1.15"/><circle cx="140.6" cy="274.6" r="1.15"/><circle cx="152.3" cy="287.1" r="1.15"/><circle cx="145.6" cy="288.3" r="1.15"/><circle cx="161.2" cy="288.3" r="1.15"/><circle cx="171.2" cy="280.1" r="1.15"/><circle cx="186.6" cy="285.8" r="1.15"/><circle cx="191.1" cy="292.5" r="1.15"/><circle cx="186.6" cy="297.5" r="1.15"/><circle cx="172.2" cy="292.0" r="1.15"/><circle cx="199.5" cy="280.1" r="1.15"/><circle cx="209.0" cy="285.8" r="1.15"/><circle cx="207.7" cy="266.7" r="1.15"/><circle cx="187.8" cy="265.9" r="1.15"/><circle cx="196.6" cy="269.7" r="1.15"/><circle cx="176.7" cy="262.7" r="1.15"/><circle cx="180.4" cy="247.3" r="1.15"/><circle cx="163.0" cy="232.3" r="1.15"/><circle cx="215.2" cy="211.2" r="1.15"/><circle cx="223.5" cy="209.5" r="1.15"/><circle cx="218.5" cy="214.4" r="1.15"/><circle cx="226.9" cy="220.4" r="1.15"/><circle cx="233.4" cy="211.2" r="1.15"/><circle cx="246.8" cy="216.2" r="1.15"/><circle cx="255.8" cy="219.4" r="1.15"/><circle cx="260.8" cy="213.7" r="1.15"/><circle cx="271.2" cy="205.5" r="1.15"/><circle cx="289.9" cy="205.5" r="1.15"/><circle cx="294.1" cy="202.0" r="1.15"/><circle cx="309.8" cy="210.0" r="1.15"/><circle cx="316.5" cy="205.5" r="1.15"/><circle cx="315.5" cy="220.4" r="1.15"/><circle cx="306.5" cy="223.6" r="1.15"/><circle cx="298.6" cy="224.9" r="1.15"/><circle cx="296.6" cy="235.3" r="1.15"/><circle cx="306.5" cy="231.1" r="1.15"/><circle cx="313.0" cy="236.8" r="1.15"/><circle cx="315.5" cy="241.8" r="1.15"/><circle cx="304.8" cy="241.0" r="1.15"/><circle cx="299.8" cy="244.3" r="1.15"/><circle cx="289.9" cy="242.8" r="1.15"/><circle cx="287.4" cy="238.6" r="1.15"/><circle cx="279.2" cy="241.8" r="1.15"/><circle cx="268.2" cy="244.8" r="1.15"/><circle cx="259.3" cy="244.8" r="1.15"/><circle cx="251.8" cy="239.8" r="1.15"/><circle cx="241.9" cy="240.3" r="1.15"/><circle cx="235.9" cy="244.8" r="1.15"/><circle cx="225.9" cy="245.3" r="1.15"/><circle cx="219.5" cy="242.8" r="1.15"/><circle cx="217.7" cy="227.9" r="1.15"/><circle cx="226.4" cy="229.9" r="1.15"/><circle cx="221.0" cy="257.7" r="1.15"/><circle cx="219.5" cy="264.2" r="1.15"/><circle cx="232.7" cy="262.2" r="1.15"/><circle cx="243.9" cy="259.2" r="1.15"/><circle cx="245.8" cy="256.7" r="1.15"/><circle cx="253.3" cy="259.7" r="1.15"/><circle cx="260.8" cy="257.7" r="1.15"/><circle cx="271.7" cy="266.7" r="1.15"/><circle cx="275.7" cy="268.4" r="1.15"/><circle cx="268.7" cy="275.1" r="1.15"/><circle cx="261.8" cy="275.9" r="1.15"/><circle cx="256.8" cy="277.1" r="1.15"/><circle cx="245.8" cy="268.4" r="1.15"/><circle cx="233.4" cy="275.9" r="1.15"/><circle cx="224.4" cy="279.1" r="1.15"/><circle cx="217.7" cy="284.1" r="1.15"/><circle cx="229.4" cy="288.3" r="1.15"/><circle cx="241.9" cy="287.6" r="1.15"/><circle cx="247.6" cy="280.8" r="1.15"/><circle cx="265.7" cy="286.6" r="1.15"/><circle cx="255.8" cy="287.6" r="1.15"/><circle cx="284.1" cy="285.1" r="1.15"/><circle cx="296.6" cy="285.8" r="1.15"/><circle cx="306.5" cy="280.8" r="1.15"/><circle cx="310.5" cy="290.0" r="1.15"/><circle cx="220.2" cy="294.0" r="1.15"/><circle cx="226.9" cy="297.5" r="1.15"/><circle cx="247.6" cy="297.5" r="1.15"/><circle cx="319.7" cy="292.5" r="1.15"/><circle cx="317.2" cy="298.3" r="1.15"/><circle cx="274.9" cy="204.5" r="1.15"/><circle cx="280.7" cy="203.0" r="1.15"/><circle cx="284.9" cy="232.3" r="1.15"/><circle cx="299.8" cy="233.6" r="1.15"/><circle cx="305.5" cy="248.5" r="1.15"/><circle cx="215.2" cy="201.2" r="1.15"/><circle cx="326.0" cy="208.0" r="1.15"/><circle cx="336.4" cy="214.4" r="1.15"/><circle cx="348.9" cy="208.7" r="1.15"/><circle cx="352.1" cy="211.2" r="1.15"/><circle cx="365.3" cy="208.0" r="1.15"/><circle cx="374.5" cy="211.9" r="1.15"/><circle cx="388.2" cy="211.9" r="1.15"/><circle cx="387.7" cy="203.0" r="1.15"/><circle cx="396.9" cy="209.5" r="1.15"/><circle cx="406.8" cy="206.2" r="1.15"/><circle cx="413.5" cy="203.0" r="1.15"/><circle cx="331.0" cy="219.4" r="1.15"/><circle cx="344.6" cy="218.7" r="1.15"/><circle cx="347.9" cy="226.9" r="1.15"/><circle cx="324.7" cy="224.4" r="1.15"/><circle cx="360.3" cy="221.9" r="1.15"/><circle cx="363.8" cy="221.9" r="1.15"/><circle cx="330.5" cy="227.9" r="1.15"/><circle cx="377.0" cy="221.9" r="1.15"/><circle cx="387.7" cy="227.9" r="1.15"/><circle cx="353.3" cy="231.1" r="1.15"/><circle cx="357.1" cy="229.9" r="1.15"/><circle cx="335.9" cy="241.0" r="1.15"/><circle cx="328.0" cy="241.8" r="1.15"/><circle cx="358.8" cy="246.8" r="1.15"/><circle cx="361.3" cy="248.5" r="1.15"/><circle cx="333.9" cy="260.2" r="1.15"/><circle cx="325.5" cy="260.2" r="1.15"/><circle cx="336.4" cy="265.2" r="1.15"/><circle cx="352.1" cy="259.7" r="1.15"/><circle cx="355.3" cy="260.9" r="1.15"/><circle cx="365.3" cy="262.2" r="1.15"/><circle cx="378.7" cy="259.2" r="1.15"/><circle cx="383.2" cy="260.9" r="1.15"/><circle cx="377.7" cy="241.8" r="1.15"/><circle cx="380.7" cy="231.1" r="1.15"/><circle cx="398.6" cy="227.9" r="1.15"/><circle cx="413.5" cy="267.7" r="1.15"/><circle cx="395.6" cy="274.1" r="1.15"/><circle cx="331.0" cy="269.2" r="1.15"/><circle cx="344.6" cy="270.1" r="1.15"/><circle cx="338.9" cy="272.6" r="1.15"/><circle cx="347.9" cy="275.1" r="1.15"/><circle cx="328.0" cy="277.1" r="1.15"/><circle cx="353.3" cy="279.6" r="1.15"/><circle cx="372.7" cy="275.9" r="1.15"/><circle cx="373.7" cy="280.1" r="1.15"/><circle cx="381.9" cy="271.6" r="1.15"/><circle cx="383.2" cy="266.7" r="1.15"/><circle cx="365.3" cy="265.2" r="1.15"/><circle cx="343.9" cy="290.0" r="1.15"/><circle cx="340.4" cy="295.8" r="1.15"/><circle cx="352.8" cy="288.3" r="1.15"/><circle cx="359.6" cy="290.0" r="1.15"/><circle cx="374.5" cy="288.3" r="1.15"/><circle cx="367.0" cy="292.5" r="1.15"/><circle cx="383.2" cy="292.5" r="1.15"/><circle cx="398.6" cy="285.8" r="1.15"/><circle cx="406.1" cy="288.3" r="1.15"/><circle cx="365.3" cy="280.1" r="1.15"/><circle cx="381.9" cy="299.5" r="1.15"/><circle cx="404.3" cy="295.8" r="1.15"/><circle cx="25.3" cy="301.3" r="1.15"/><circle cx="29.9" cy="301.3" r="1.15"/><circle cx="37.5" cy="306.3" r="1.15"/><circle cx="38.5" cy="311.4" r="1.15"/><circle cx="41.8" cy="317.2" r="1.15"/><circle cx="37.5" cy="319.8" r="1.15"/><circle cx="77.3" cy="303.8" r="1.15"/><circle cx="87.5" cy="310.6" r="1.15"/><circle cx="97.6" cy="307.6" r="1.15"/><circle cx="87.5" cy="318.3" r="1.15"/><circle cx="95.8" cy="329.9" r="1.15"/><circle cx="74.8" cy="333.5" r="1.15"/><circle cx="78.6" cy="336.0" r="1.15"/><circle cx="84.2" cy="338.5" r="1.15"/><circle cx="89.2" cy="330.9" r="1.15"/><circle cx="106.0" cy="327.4" r="1.15"/><circle cx="108.5" cy="336.8" r="1.15"/><circle cx="96.8" cy="355.3" r="1.15"/><circle cx="126.8" cy="312.2" r="1.15"/><circle cx="134.4" cy="310.6" r="1.15"/><circle cx="136.9" cy="311.4" r="1.15"/><circle cx="145.0" cy="307.1" r="1.15"/><circle cx="153.9" cy="305.6" r="1.15"/><circle cx="162.3" cy="311.4" r="1.15"/><circle cx="155.7" cy="312.2" r="1.15"/><circle cx="179.2" cy="305.6" r="1.15"/><circle cx="190.7" cy="307.1" r="1.15"/><circle cx="198.8" cy="307.1" r="1.15"/><circle cx="204.6" cy="303.0" r="1.15"/><circle cx="213.0" cy="304.6" r="1.15"/><circle cx="131.8" cy="315.7" r="1.15"/><circle cx="140.0" cy="316.5" r="1.15"/><circle cx="148.8" cy="319.0" r="1.15"/><circle cx="166.6" cy="319.8" r="1.15"/><circle cx="169.9" cy="320.8" r="1.15"/><circle cx="186.8" cy="317.2" r="1.15"/><circle cx="197.7" cy="317.2" r="1.15"/><circle cx="196.2" cy="324.1" r="1.15"/><circle cx="207.1" cy="324.1" r="1.15"/><circle cx="155.2" cy="323.3" r="1.15"/><circle cx="160.7" cy="326.6" r="1.15"/><circle cx="166.6" cy="333.5" r="1.15"/><circle cx="174.2" cy="328.4" r="1.15"/><circle cx="185.6" cy="339.3" r="1.15"/><circle cx="174.9" cy="343.6" r="1.15"/><circle cx="176.7" cy="349.4" r="1.15"/><circle cx="167.3" cy="348.2" r="1.15"/><circle cx="197.0" cy="342.6" r="1.15"/><circle cx="211.4" cy="345.6" r="1.15"/><circle cx="214.7" cy="337.5" r="1.15"/><circle cx="189.4" cy="333.5" r="1.15"/><circle cx="200.3" cy="329.9" r="1.15"/><circle cx="159.0" cy="335.5" r="1.15"/><circle cx="126.8" cy="343.6" r="1.15"/><circle cx="119.7" cy="346.1" r="1.15"/><circle cx="118.4" cy="355.3" r="1.15"/><circle cx="130.3" cy="350.2" r="1.15"/><circle cx="136.9" cy="350.7" r="1.15"/><circle cx="139.4" cy="353.7" r="1.15"/><circle cx="146.3" cy="357.0" r="1.15"/><circle cx="161.5" cy="358.8" r="1.15"/><circle cx="165.8" cy="362.1" r="1.15"/><circle cx="173.4" cy="357.0" r="1.15"/><circle cx="155.7" cy="368.9" r="1.15"/><circle cx="152.1" cy="362.9" r="1.15"/><circle cx="169.9" cy="365.4" r="1.15"/><circle cx="176.7" cy="368.4" r="1.15"/><circle cx="183.6" cy="366.4" r="1.15"/><circle cx="195.7" cy="360.8" r="1.15"/><circle cx="204.6" cy="365.4" r="1.15"/><circle cx="207.1" cy="371.5" r="1.15"/><circle cx="200.3" cy="371.5" r="1.15"/><circle cx="186.1" cy="371.0" r="1.15"/><circle cx="183.6" cy="381.6" r="1.15"/><circle cx="209.7" cy="383.7" r="1.15"/><circle cx="216.0" cy="309.6" r="1.15"/><circle cx="219.1" cy="305.6" r="1.15"/><circle cx="225.4" cy="303.8" r="1.15"/><circle cx="232.3" cy="309.6" r="1.15"/><circle cx="239.9" cy="308.1" r="1.15"/><circle cx="248.2" cy="309.6" r="1.15"/><circle cx="255.8" cy="310.6" r="1.15"/><circle cx="264.2" cy="308.1" r="1.15"/><circle cx="280.4" cy="311.4" r="1.15"/><circle cx="282.9" cy="304.6" r="1.15"/><circle cx="294.6" cy="308.9" r="1.15"/><circle cx="304.0" cy="313.2" r="1.15"/><circle cx="312.4" cy="307.6" r="1.15"/><circle cx="319.2" cy="315.7" r="1.15"/><circle cx="266.0" cy="322.3" r="1.15"/><circle cx="281.2" cy="324.1" r="1.15"/><circle cx="279.4" cy="327.4" r="1.15"/><circle cx="225.4" cy="324.1" r="1.15"/><circle cx="217.0" cy="324.8" r="1.15"/><circle cx="235.5" cy="326.6" r="1.15"/><circle cx="243.2" cy="329.9" r="1.15"/><circle cx="260.1" cy="327.4" r="1.15"/><circle cx="264.2" cy="331.7" r="1.15"/><circle cx="271.8" cy="336.0" r="1.15"/><circle cx="290.6" cy="338.5" r="1.15"/><circle cx="303.2" cy="331.7" r="1.15"/><circle cx="307.8" cy="323.3" r="1.15"/><circle cx="319.2" cy="329.2" r="1.15"/><circle cx="222.9" cy="333.5" r="1.15"/><circle cx="239.9" cy="337.5" r="1.15"/><circle cx="236.3" cy="339.3" r="1.15"/><circle cx="252.0" cy="340.1" r="1.15"/><circle cx="247.5" cy="342.6" r="1.15"/><circle cx="259.1" cy="340.6" r="1.15"/><circle cx="262.7" cy="345.1" r="1.15"/><circle cx="243.9" cy="347.7" r="1.15"/><circle cx="222.1" cy="350.2" r="1.15"/><circle cx="229.2" cy="353.2" r="1.15"/><circle cx="235.5" cy="359.6" r="1.15"/><circle cx="242.4" cy="358.8" r="1.15"/><circle cx="248.2" cy="354.5" r="1.15"/><circle cx="280.4" cy="353.2" r="1.15"/><circle cx="284.5" cy="358.8" r="1.15"/><circle cx="296.4" cy="365.4" r="1.15"/><circle cx="303.2" cy="358.8" r="1.15"/><circle cx="312.4" cy="352.0" r="1.15"/><circle cx="305.8" cy="347.7" r="1.15"/><circle cx="314.9" cy="343.6" r="1.15"/><circle cx="300.2" cy="341.1" r="1.15"/><circle cx="247.0" cy="365.4" r="1.15"/><circle cx="249.5" cy="371.0" r="1.15"/><circle cx="236.8" cy="377.3" r="1.15"/><circle cx="224.1" cy="380.6" r="1.15"/><circle cx="255.8" cy="379.1" r="1.15"/><circle cx="262.7" cy="381.1" r="1.15"/><circle cx="247.0" cy="387.5" r="1.15"/><circle cx="268.5" cy="363.4" r="1.15"/><circle cx="278.6" cy="360.8" r="1.15"/><circle cx="295.6" cy="354.5" r="1.15"/><circle cx="325.6" cy="304.6" r="1.15"/><circle cx="331.6" cy="303.0" r="1.15"/><circle cx="334.2" cy="305.6" r="1.15"/><circle cx="343.3" cy="308.9" r="1.15"/><circle cx="334.9" cy="315.7" r="1.15"/><circle cx="340.8" cy="315.7" r="1.15"/><circle cx="322.3" cy="315.7" r="1.15"/><circle cx="363.6" cy="308.9" r="1.15"/><circle cx="361.1" cy="314.7" r="1.15"/><circle cx="381.3" cy="305.1" r="1.15"/><circle cx="388.9" cy="308.9" r="1.15"/><circle cx="379.8" cy="316.5" r="1.15"/><circle cx="408.5" cy="313.2" r="1.15"/><circle cx="353.4" cy="329.9" r="1.15"/><circle cx="357.8" cy="327.4" r="1.15"/><circle cx="347.6" cy="328.4" r="1.15"/><circle cx="330.6" cy="340.1" r="1.15"/><circle cx="336.7" cy="342.6" r="1.15"/><circle cx="324.0" cy="335.5" r="1.15"/><circle cx="340.8" cy="346.1" r="1.15"/><circle cx="350.9" cy="349.4" r="1.15"/><circle cx="340.0" cy="354.5" r="1.15"/><circle cx="369.7" cy="341.1" r="1.15"/><circle cx="376.3" cy="344.4" r="1.15"/><circle cx="329.9" cy="363.9" r="1.15"/><circle cx="347.6" cy="334.2" r="1.15"/><circle cx="364.1" cy="343.1" r="1.15"/><circle cx="183.4" cy="123.2" r="1.15"/><circle cx="164.1" cy="345.3" r="1.15"/><circle cx="170.9" cy="295.7" r="1.15"/><circle cx="128.2" cy="210.5" r="1.15"/><circle cx="145.1" cy="313.9" r="1.15"/><circle cx="275.0" cy="120.8" r="1.15"/><circle cx="97.8" cy="86.1" r="1.15"/><circle cx="296.6" cy="188.4" r="1.15"/><circle cx="258.7" cy="92.8" r="1.15"/><circle cx="188.5" cy="111.6" r="1.15"/><circle cx="345.2" cy="264.9" r="1.15"/><circle cx="315.6" cy="166.1" r="1.15"/><circle cx="227.3" cy="333.5" r="1.15"/><circle cx="292.0" cy="55.7" r="1.15"/><circle cx="147.0" cy="222.3" r="1.15"/><circle cx="178.7" cy="148.8" r="1.15"/><circle cx="317.1" cy="89.1" r="1.15"/><circle cx="256.6" cy="141.9" r="1.15"/><circle cx="295.4" cy="197.9" r="1.15"/><circle cx="337.4" cy="337.2" r="1.15"/><circle cx="106.0" cy="286.2" r="1.15"/><circle cx="146.2" cy="180.1" r="1.15"/><circle cx="95.1" cy="314.7" r="1.15"/><circle cx="117.0" cy="189.5" r="1.15"/><circle cx="71.2" cy="138.1" r="1.15"/><circle cx="188.3" cy="311.3" r="1.15"/><circle cx="242.8" cy="93.5" r="1.15"/><circle cx="127.0" cy="349.8" r="1.15"/><circle cx="32.5" cy="312.0" r="1.15"/><circle cx="67.6" cy="300.8" r="1.15"/><circle cx="367.8" cy="269.5" r="1.15"/><circle cx="237.6" cy="237.0" r="1.15"/><circle cx="395.1" cy="35.5" r="1.15"/><circle cx="272.9" cy="173.3" r="1.15"/><circle cx="263.3" cy="157.8" r="1.15"/><circle cx="231.5" cy="266.3" r="1.15"/><circle cx="344.8" cy="315.1" r="1.15"/><circle cx="272.3" cy="239.1" r="1.15"/><circle cx="143.9" cy="318.5" r="1.15"/><circle cx="145.1" cy="121.2" r="1.15"/><circle cx="35.8" cy="140.8" r="1.15"/><circle cx="194.3" cy="265.1" r="1.15"/><circle cx="255.0" cy="344.1" r="1.15"/><circle cx="232.1" cy="75.9" r="1.15"/><circle cx="22.2" cy="238.9" r="1.15"/><circle cx="277.9" cy="80.7" r="1.15"/><circle cx="195.6" cy="83.7" r="1.15"/><circle cx="349.0" cy="344.2" r="1.15"/><circle cx="262.8" cy="210.4" r="1.15"/><circle cx="233.0" cy="298.7" r="1.15"/><circle cx="369.0" cy="61.8" r="1.15"/><circle cx="219.3" cy="246.3" r="1.15"/><circle cx="382.1" cy="127.8" r="1.15"/><circle cx="278.6" cy="211.1" r="1.15"/><circle cx="277.6" cy="130.6" r="1.15"/><circle cx="173.2" cy="148.2" r="1.15"/><circle cx="408.2" cy="293.6" r="1.15"/><circle cx="251.4" cy="23.5" r="1.15"/><circle cx="290.4" cy="187.2" r="1.15"/><circle cx="295.9" cy="239.7" r="1.15"/><circle cx="278.3" cy="330.8" r="1.15"/><circle cx="162.9" cy="334.6" r="1.15"/><circle cx="210.4" cy="82.0" r="1.15"/><circle cx="258.6" cy="321.5" r="1.15"/><circle cx="336.8" cy="142.4" r="1.15"/><circle cx="171.0" cy="86.9" r="1.15"/><circle cx="347.4" cy="75.5" r="1.15"/><circle cx="303.0" cy="230.3" r="1.15"/><circle cx="207.8" cy="159.2" r="1.15"/><circle cx="285.8" cy="351.3" r="1.15"/><circle cx="45.5" cy="178.5" r="1.15"/><circle cx="203.6" cy="170.7" r="1.15"/><circle cx="226.7" cy="271.7" r="1.15"/><circle cx="365.0" cy="39.7" r="1.15"/><circle cx="149.9" cy="355.2" r="1.15"/><circle cx="270.2" cy="119.0" r="1.15"/><circle cx="357.8" cy="179.4" r="1.15"/><circle cx="142.6" cy="292.8" r="1.15"/><circle cx="275.1" cy="189.8" r="1.15"/><circle cx="270.9" cy="82.4" r="1.15"/><circle cx="403.2" cy="212.3" r="1.15"/><circle cx="36.4" cy="156.7" r="1.15"/><circle cx="354.5" cy="314.0" r="1.15"/><circle cx="157.7" cy="285.2" r="1.15"/><circle cx="251.3" cy="344.9" r="1.15"/><circle cx="345.3" cy="208.6" r="1.15"/><circle cx="327.2" cy="264.7" r="1.15"/><circle cx="413.3" cy="274.2" r="1.15"/><circle cx="167.8" cy="158.8" r="1.15"/><circle cx="70.6" cy="196.4" r="1.15"/><circle cx="199.1" cy="242.6" r="1.15"/><circle cx="121.2" cy="244.1" r="1.15"/><circle cx="28.3" cy="123.3" r="1.15"/><circle cx="295.9" cy="243.7" r="1.15"/><circle cx="42.9" cy="113.6" r="1.15"/><circle cx="234.9" cy="345.9" r="1.15"/><circle cx="160.7" cy="331.0" r="1.15"/><circle cx="409.7" cy="198.5" r="1.15"/><circle cx="219.9" cy="104.2" r="1.15"/><circle cx="55.8" cy="256.9" r="1.15"/><circle cx="376.1" cy="157.4" r="1.15"/><circle cx="207.5" cy="251.7" r="1.15"/><circle cx="179.7" cy="60.2" r="1.15"/><circle cx="91.2" cy="231.9" r="1.15"/><circle cx="351.6" cy="67.3" r="1.15"/><circle cx="188.4" cy="100.1" r="1.15"/><circle cx="186.9" cy="92.9" r="1.15"/><circle cx="283.8" cy="340.2" r="1.15"/><circle cx="173.5" cy="161.8" r="1.15"/><circle cx="342.4" cy="339.8" r="1.15"/><circle cx="146.3" cy="77.6" r="1.15"/><circle cx="305.6" cy="335.7" r="1.15"/><circle cx="127.9" cy="238.5" r="1.15"/></g>
<g fill="none" stroke="#e6b948" stroke-width="1.75"><circle cx="165.0" cy="59.7" r="1.9"/><circle cx="163.0" cy="65.2" r="1.9"/><circle cx="167.9" cy="67.7" r="1.9"/><circle cx="179.1" cy="78.4" r="1.9"/><circle cx="172.2" cy="97.8" r="1.9"/><circle cx="195.3" cy="49.0" r="1.9"/><circle cx="201.5" cy="47.3" r="1.9"/><circle cx="207.7" cy="56.7" r="1.9"/><circle cx="200.3" cy="67.7" r="1.9"/><circle cx="207.0" cy="70.9" r="1.9"/><circle cx="124.4" cy="87.1" r="1.9"/><circle cx="232.7" cy="30.3" r="1.9"/><circle cx="230.2" cy="59.7" r="1.9"/><circle cx="250.8" cy="49.8" r="1.9"/><circle cx="277.4" cy="34.8" r="1.9"/><circle cx="275.7" cy="42.8" r="1.9"/><circle cx="288.1" cy="45.3" r="1.9"/><circle cx="291.9" cy="50.5" r="1.9"/><circle cx="284.9" cy="58.5" r="1.9"/><circle cx="296.8" cy="62.2" r="1.9"/><circle cx="303.1" cy="59.2" r="1.9"/><circle cx="304.0" cy="52.7" r="1.9"/><circle cx="309.8" cy="56.7" r="1.9"/><circle cx="302.3" cy="66.7" r="1.9"/><circle cx="271.2" cy="70.1" r="1.9"/><circle cx="268.2" cy="77.1" r="1.9"/><circle cx="306.5" cy="88.3" r="1.9"/><circle cx="289.9" cy="15.4" r="1.9"/><circle cx="257.5" cy="67.7" r="1.9"/><circle cx="318.0" cy="73.4" r="1.9"/><circle cx="321.0" cy="84.6" r="1.9"/><circle cx="306.0" cy="19.9" r="1.9"/><circle cx="342.1" cy="45.3" r="1.9"/><circle cx="377.0" cy="67.7" r="1.9"/><circle cx="393.9" cy="74.1" r="1.9"/><circle cx="322.2" cy="12.4" r="1.9"/><circle cx="321.0" cy="73.4" r="1.9"/><circle cx="98.3" cy="103.0" r="1.9"/><circle cx="91.5" cy="114.4" r="1.9"/><circle cx="99.0" cy="114.4" r="1.9"/><circle cx="103.2" cy="120.4" r="1.9"/><circle cx="89.6" cy="121.1" r="1.9"/><circle cx="92.5" cy="126.9" r="1.9"/><circle cx="107.0" cy="130.3" r="1.9"/><circle cx="46.8" cy="136.8" r="1.9"/><circle cx="91.5" cy="137.8" r="1.9"/><circle cx="84.6" cy="140.3" r="1.9"/><circle cx="65.2" cy="144.8" r="1.9"/><circle cx="78.4" cy="146.0" r="1.9"/><circle cx="85.8" cy="147.8" r="1.9"/><circle cx="92.0" cy="144.3" r="1.9"/><circle cx="72.6" cy="151.0" r="1.9"/><circle cx="80.1" cy="152.7" r="1.9"/><circle cx="92.5" cy="151.0" r="1.9"/><circle cx="86.6" cy="155.2" r="1.9"/><circle cx="80.8" cy="159.7" r="1.9"/><circle cx="94.0" cy="157.7" r="1.9"/><circle cx="89.1" cy="162.2" r="1.9"/><circle cx="102.0" cy="163.4" r="1.9"/><circle cx="57.7" cy="167.2" r="1.9"/><circle cx="83.3" cy="166.7" r="1.9"/><circle cx="77.6" cy="171.6" r="1.9"/><circle cx="85.1" cy="174.1" r="1.9"/><circle cx="93.3" cy="173.4" r="1.9"/><circle cx="99.5" cy="175.1" r="1.9"/><circle cx="106.5" cy="177.6" r="1.9"/><circle cx="33.6" cy="172.1" r="1.9"/><circle cx="31.1" cy="183.3" r="1.9"/><circle cx="38.6" cy="191.5" r="1.9"/><circle cx="82.6" cy="182.1" r="1.9"/><circle cx="94.5" cy="180.1" r="1.9"/><circle cx="101.5" cy="182.1" r="1.9"/><circle cx="90.8" cy="192.5" r="1.9"/><circle cx="98.3" cy="194.0" r="1.9"/><circle cx="80.1" cy="197.5" r="1.9"/><circle cx="107.5" cy="190.8" r="1.9"/><circle cx="89.6" cy="169.7" r="1.9"/><circle cx="109.5" cy="159.7" r="1.9"/><circle cx="108.2" cy="112.4" r="1.9"/><circle cx="109.0" cy="103.0" r="1.9"/><circle cx="123.9" cy="106.2" r="1.9"/><circle cx="152.3" cy="105.5" r="1.9"/><circle cx="110.7" cy="108.7" r="1.9"/><circle cx="111.5" cy="116.9" r="1.9"/><circle cx="109.0" cy="122.9" r="1.9"/><circle cx="125.7" cy="136.8" r="1.9"/><circle cx="133.1" cy="138.6" r="1.9"/><circle cx="114.0" cy="144.3" r="1.9"/><circle cx="110.0" cy="147.8" r="1.9"/><circle cx="119.4" cy="147.8" r="1.9"/><circle cx="123.9" cy="151.7" r="1.9"/><circle cx="129.4" cy="146.0" r="1.9"/><circle cx="148.0" cy="135.3" r="1.9"/><circle cx="155.5" cy="134.8" r="1.9"/><circle cx="160.5" cy="137.3" r="1.9"/><circle cx="152.3" cy="141.0" r="1.9"/><circle cx="145.6" cy="142.8" r="1.9"/><circle cx="141.3" cy="147.8" r="1.9"/><circle cx="150.5" cy="147.8" r="1.9"/><circle cx="156.8" cy="148.5" r="1.9"/><circle cx="164.7" cy="141.8" r="1.9"/><circle cx="159.7" cy="153.5" r="1.9"/><circle cx="166.2" cy="151.0" r="1.9"/><circle cx="155.5" cy="158.5" r="1.9"/><circle cx="163.0" cy="161.7" r="1.9"/><circle cx="176.2" cy="129.4" r="1.9"/><circle cx="179.6" cy="164.2" r="1.9"/><circle cx="175.4" cy="172.6" r="1.9"/><circle cx="182.1" cy="172.6" r="1.9"/><circle cx="114.5" cy="160.9" r="1.9"/><circle cx="109.5" cy="165.2" r="1.9"/><circle cx="111.5" cy="195.8" r="1.9"/><circle cx="110.7" cy="191.5" r="1.9"/><circle cx="155.5" cy="195.8" r="1.9"/><circle cx="181.1" cy="197.5" r="1.9"/><circle cx="194.6" cy="146.8" r="1.9"/><circle cx="201.0" cy="121.9" r="1.9"/><circle cx="208.5" cy="117.9" r="1.9"/><circle cx="204.5" cy="123.6" r="1.9"/><circle cx="211.0" cy="124.9" r="1.9"/><circle cx="199.5" cy="129.4" r="1.9"/><circle cx="206.0" cy="129.9" r="1.9"/><circle cx="213.5" cy="131.1" r="1.9"/><circle cx="211.5" cy="143.5" r="1.9"/><circle cx="214.5" cy="122.4" r="1.9"/><circle cx="206.5" cy="174.1" r="1.9"/><circle cx="202.0" cy="179.6" r="1.9"/><circle cx="208.5" cy="183.3" r="1.9"/><circle cx="213.5" cy="175.1" r="1.9"/><circle cx="209.0" cy="190.0" r="1.9"/><circle cx="196.1" cy="197.5" r="1.9"/><circle cx="214.5" cy="185.8" r="1.9"/><circle cx="216.5" cy="166.7" r="1.9"/><circle cx="232.7" cy="101.2" r="1.9"/><circle cx="236.4" cy="104.5" r="1.9"/><circle cx="246.3" cy="101.2" r="1.9"/><circle cx="225.2" cy="110.4" r="1.9"/><circle cx="231.9" cy="111.2" r="1.9"/><circle cx="238.9" cy="111.9" r="1.9"/><circle cx="245.8" cy="112.9" r="1.9"/><circle cx="252.6" cy="114.4" r="1.9"/><circle cx="215.2" cy="117.9" r="1.9"/><circle cx="235.1" cy="117.9" r="1.9"/><circle cx="227.7" cy="116.2" r="1.9"/><circle cx="224.0" cy="122.4" r="1.9"/><circle cx="231.9" cy="126.9" r="1.9"/><circle cx="217.7" cy="124.9" r="1.9"/><circle cx="221.5" cy="131.8" r="1.9"/><circle cx="225.2" cy="137.8" r="1.9"/><circle cx="217.0" cy="137.8" r="1.9"/><circle cx="219.5" cy="144.3" r="1.9"/><circle cx="230.9" cy="139.3" r="1.9"/><circle cx="233.9" cy="146.0" r="1.9"/><circle cx="216.5" cy="148.5" r="1.9"/><circle cx="225.2" cy="154.2" r="1.9"/><circle cx="220.2" cy="151.0" r="1.9"/><circle cx="246.3" cy="152.2" r="1.9"/><circle cx="261.8" cy="174.6" r="1.9"/><circle cx="244.3" cy="187.6" r="1.9"/><circle cx="250.8" cy="192.0" r="1.9"/><circle cx="258.3" cy="191.5" r="1.9"/><circle cx="265.0" cy="189.1" r="1.9"/><circle cx="262.5" cy="197.5" r="1.9"/><circle cx="255.0" cy="197.5" r="1.9"/><circle cx="247.6" cy="197.5" r="1.9"/><circle cx="240.9" cy="197.5" r="1.9"/><circle cx="233.4" cy="197.5" r="1.9"/><circle cx="282.4" cy="166.7" r="1.9"/><circle cx="296.6" cy="158.5" r="1.9"/><circle cx="299.8" cy="197.5" r="1.9"/><circle cx="313.0" cy="129.4" r="1.9"/><circle cx="214.0" cy="180.8" r="1.9"/><circle cx="347.1" cy="105.5" r="1.9"/><circle cx="360.8" cy="111.2" r="1.9"/><circle cx="352.8" cy="121.1" r="1.9"/><circle cx="377.0" cy="114.4" r="1.9"/><circle cx="391.9" cy="117.9" r="1.9"/><circle cx="391.1" cy="123.6" r="1.9"/><circle cx="372.0" cy="130.3" r="1.9"/><circle cx="361.3" cy="140.3" r="1.9"/><circle cx="380.2" cy="143.5" r="1.9"/><circle cx="347.1" cy="151.7" r="1.9"/><circle cx="333.9" cy="156.7" r="1.9"/><circle cx="355.3" cy="160.9" r="1.9"/><circle cx="373.7" cy="164.2" r="1.9"/><circle cx="328.0" cy="182.1" r="1.9"/><circle cx="336.4" cy="188.3" r="1.9"/><circle cx="328.0" cy="193.3" r="1.9"/><circle cx="333.9" cy="195.8" r="1.9"/><circle cx="337.9" cy="197.0" r="1.9"/><circle cx="386.2" cy="180.1" r="1.9"/><circle cx="393.6" cy="179.1" r="1.9"/><circle cx="400.6" cy="177.1" r="1.9"/><circle cx="409.3" cy="175.1" r="1.9"/><circle cx="413.0" cy="174.1" r="1.9"/><circle cx="406.8" cy="182.1" r="1.9"/><circle cx="398.6" cy="184.1" r="1.9"/><circle cx="391.9" cy="186.6" r="1.9"/><circle cx="385.2" cy="188.3" r="1.9"/><circle cx="390.7" cy="193.3" r="1.9"/><circle cx="396.9" cy="191.5" r="1.9"/><circle cx="384.4" cy="195.8" r="1.9"/><circle cx="26.9" cy="231.8" r="1.9"/><circle cx="32.8" cy="234.3" r="1.9"/><circle cx="27.4" cy="239.3" r="1.9"/><circle cx="22.4" cy="243.5" r="1.9"/><circle cx="29.4" cy="245.3" r="1.9"/><circle cx="36.8" cy="255.2" r="1.9"/><circle cx="47.8" cy="276.6" r="1.9"/><circle cx="32.3" cy="282.1" r="1.9"/><circle cx="91.5" cy="237.8" r="1.9"/><circle cx="90.8" cy="244.3" r="1.9"/><circle cx="93.3" cy="210.0" r="1.9"/><circle cx="94.0" cy="265.2" r="1.9"/><circle cx="107.5" cy="274.1" r="1.9"/><circle cx="107.5" cy="280.8" r="1.9"/><circle cx="101.5" cy="285.8" r="1.9"/><circle cx="93.3" cy="201.2" r="1.9"/><circle cx="106.5" cy="201.2" r="1.9"/><circle cx="80.1" cy="200.5" r="1.9"/><circle cx="158.0" cy="202.5" r="1.9"/><circle cx="153.8" cy="208.7" r="1.9"/><circle cx="161.7" cy="209.5" r="1.9"/><circle cx="169.2" cy="210.0" r="1.9"/><circle cx="176.2" cy="211.9" r="1.9"/><circle cx="186.6" cy="209.5" r="1.9"/><circle cx="194.1" cy="202.5" r="1.9"/><circle cx="158.0" cy="216.2" r="1.9"/><circle cx="164.2" cy="217.4" r="1.9"/><circle cx="171.2" cy="217.4" r="1.9"/><circle cx="177.9" cy="219.4" r="1.9"/><circle cx="187.8" cy="216.9" r="1.9"/><circle cx="197.0" cy="214.4" r="1.9"/><circle cx="196.6" cy="219.4" r="1.9"/><circle cx="159.7" cy="223.6" r="1.9"/><circle cx="172.2" cy="224.4" r="1.9"/><circle cx="179.1" cy="226.1" r="1.9"/><circle cx="184.6" cy="222.4" r="1.9"/><circle cx="158.7" cy="231.8" r="1.9"/><circle cx="153.8" cy="235.3" r="1.9"/><circle cx="168.7" cy="236.8" r="1.9"/><circle cx="174.7" cy="238.6" r="1.9"/><circle cx="181.1" cy="233.6" r="1.9"/><circle cx="155.5" cy="239.8" r="1.9"/><circle cx="159.7" cy="243.5" r="1.9"/><circle cx="166.7" cy="243.5" r="1.9"/><circle cx="172.9" cy="243.5" r="1.9"/><circle cx="115.0" cy="246.0" r="1.9"/><circle cx="187.1" cy="252.2" r="1.9"/><circle cx="152.3" cy="255.2" r="1.9"/><circle cx="131.4" cy="259.2" r="1.9"/><circle cx="141.8" cy="261.7" r="1.9"/><circle cx="149.3" cy="270.9" r="1.9"/><circle cx="133.1" cy="270.9" r="1.9"/><circle cx="133.9" cy="267.7" r="1.9"/><circle cx="135.6" cy="283.3" r="1.9"/><circle cx="123.9" cy="292.0" r="1.9"/><circle cx="144.3" cy="297.5" r="1.9"/><circle cx="181.6" cy="284.6" r="1.9"/><circle cx="183.6" cy="274.1" r="1.9"/><circle cx="208.5" cy="277.6" r="1.9"/><circle cx="213.5" cy="208.7" r="1.9"/><circle cx="243.9" cy="204.5" r="1.9"/><circle cx="248.8" cy="210.4" r="1.9"/><circle cx="255.0" cy="209.5" r="1.9"/><circle cx="236.4" cy="215.4" r="1.9"/><circle cx="239.4" cy="219.9" r="1.9"/><circle cx="244.3" cy="225.4" r="1.9"/><circle cx="249.3" cy="222.9" r="1.9"/><circle cx="267.5" cy="209.5" r="1.9"/><circle cx="283.7" cy="208.7" r="1.9"/><circle cx="301.6" cy="212.9" r="1.9"/><circle cx="300.6" cy="201.2" r="1.9"/><circle cx="268.2" cy="216.9" r="1.9"/><circle cx="274.2" cy="216.2" r="1.9"/><circle cx="280.7" cy="214.4" r="1.9"/><circle cx="265.0" cy="224.4" r="1.9"/><circle cx="271.7" cy="222.9" r="1.9"/><circle cx="278.2" cy="221.9" r="1.9"/><circle cx="285.6" cy="220.4" r="1.9"/><circle cx="293.1" cy="219.4" r="1.9"/><circle cx="299.8" cy="218.7" r="1.9"/><circle cx="275.7" cy="228.6" r="1.9"/><circle cx="281.7" cy="227.4" r="1.9"/><circle cx="269.2" cy="229.9" r="1.9"/><circle cx="272.5" cy="235.3" r="1.9"/><circle cx="279.9" cy="233.6" r="1.9"/><circle cx="288.1" cy="232.3" r="1.9"/><circle cx="294.1" cy="232.3" r="1.9"/><circle cx="260.0" cy="238.6" r="1.9"/><circle cx="231.4" cy="255.2" r="1.9"/><circle cx="266.2" cy="259.2" r="1.9"/><circle cx="289.9" cy="256.0" r="1.9"/><circle cx="284.1" cy="261.7" r="1.9"/><circle cx="303.1" cy="259.7" r="1.9"/><circle cx="313.0" cy="257.7" r="1.9"/><circle cx="279.2" cy="266.7" r="1.9"/><circle cx="292.4" cy="263.4" r="1.9"/><circle cx="299.1" cy="265.2" r="1.9"/><circle cx="304.8" cy="267.7" r="1.9"/><circle cx="311.5" cy="262.7" r="1.9"/><circle cx="281.7" cy="272.6" r="1.9"/><circle cx="288.1" cy="273.4" r="1.9"/><circle cx="300.6" cy="272.6" r="1.9"/><circle cx="294.1" cy="279.1" r="1.9"/><circle cx="315.5" cy="275.9" r="1.9"/><circle cx="320.5" cy="271.6" r="1.9"/><circle cx="321.0" cy="279.1" r="1.9"/><circle cx="316.0" cy="283.3" r="1.9"/><circle cx="309.0" cy="270.1" r="1.9"/><circle cx="253.8" cy="292.5" r="1.9"/><circle cx="257.5" cy="297.5" r="1.9"/><circle cx="269.2" cy="295.0" r="1.9"/><circle cx="276.2" cy="295.8" r="1.9"/><circle cx="298.6" cy="295.8" r="1.9"/><circle cx="327.2" cy="203.0" r="1.9"/><circle cx="337.9" cy="201.2" r="1.9"/><circle cx="391.1" cy="207.0" r="1.9"/><circle cx="379.5" cy="214.4" r="1.9"/><circle cx="385.7" cy="216.9" r="1.9"/><circle cx="382.7" cy="222.4" r="1.9"/><circle cx="394.4" cy="232.8" r="1.9"/><circle cx="406.8" cy="227.9" r="1.9"/><circle cx="370.3" cy="238.6" r="1.9"/><circle cx="385.2" cy="241.0" r="1.9"/><circle cx="386.2" cy="248.5" r="1.9"/><circle cx="381.2" cy="253.5" r="1.9"/><circle cx="386.2" cy="256.7" r="1.9"/><circle cx="398.6" cy="249.3" r="1.9"/><circle cx="400.1" cy="256.7" r="1.9"/><circle cx="393.6" cy="260.2" r="1.9"/><circle cx="400.1" cy="264.2" r="1.9"/><circle cx="399.4" cy="272.1" r="1.9"/><circle cx="330.5" cy="247.3" r="1.9"/><circle cx="340.4" cy="251.0" r="1.9"/><circle cx="345.4" cy="247.3" r="1.9"/><circle cx="352.1" cy="248.5" r="1.9"/><circle cx="352.8" cy="253.5" r="1.9"/><circle cx="347.9" cy="252.7" r="1.9"/><circle cx="78.6" cy="324.1" r="1.9"/><circle cx="107.0" cy="339.3" r="1.9"/><circle cx="178.0" cy="313.2" r="1.9"/><circle cx="195.2" cy="313.9" r="1.9"/><circle cx="154.7" cy="330.9" r="1.9"/><circle cx="210.4" cy="331.7" r="1.9"/><circle cx="202.1" cy="347.7" r="1.9"/><circle cx="181.8" cy="357.8" r="1.9"/><circle cx="135.4" cy="355.3" r="1.9"/><circle cx="162.3" cy="368.9" r="1.9"/><circle cx="157.2" cy="374.8" r="1.9"/><circle cx="170.9" cy="376.6" r="1.9"/><circle cx="179.2" cy="377.3" r="1.9"/><circle cx="245.7" cy="302.0" r="1.9"/><circle cx="252.5" cy="303.8" r="1.9"/><circle cx="259.6" cy="305.6" r="1.9"/><circle cx="241.9" cy="313.9" r="1.9"/><circle cx="249.0" cy="315.7" r="1.9"/><circle cx="269.3" cy="313.2" r="1.9"/><circle cx="273.6" cy="310.1" r="1.9"/><circle cx="243.9" cy="320.8" r="1.9"/><circle cx="288.0" cy="320.8" r="1.9"/><circle cx="249.5" cy="328.4" r="1.9"/><circle cx="247.0" cy="332.4" r="1.9"/><circle cx="257.6" cy="333.0" r="1.9"/><circle cx="277.9" cy="340.6" r="1.9"/><circle cx="277.9" cy="345.1" r="1.9"/><circle cx="267.7" cy="349.4" r="1.9"/><circle cx="266.0" cy="367.2" r="1.9"/><circle cx="273.6" cy="367.2" r="1.9"/><circle cx="286.2" cy="367.9" r="1.9"/><circle cx="227.9" cy="370.5" r="1.9"/><circle cx="322.5" cy="350.2" r="1.9"/><circle cx="338.2" cy="307.6" r="1.9"/><circle cx="386.4" cy="302.0" r="1.9"/><circle cx="357.8" cy="335.0" r="1.9"/><circle cx="374.7" cy="332.4" r="1.9"/><circle cx="379.8" cy="328.4" r="1.9"/><circle cx="360.3" cy="348.2" r="1.9"/></g>
<g><polygon points="200.7,88.1 197.8,88.7 194.8,87.2 194.2,84.9 195.8,82.4 199.3,80.9 202.0,81.3 202.3,82.6 202.4,86.4" fill="#c46a9a" stroke="#b05a8a" stroke-width="0.5" stroke-linejoin="round"/><circle cx="197.5" cy="84.2" r="2.2" fill="url(#plump)"/><circle cx="201.3" cy="82.0" r="1.4" fill="url(#plump)"/><circle cx="198.0" cy="86.3" r="2.3" fill="url(#plump)"/><circle cx="200.6" cy="84.7" r="2.1" fill="url(#plump)"/><circle cx="199.0" cy="83.8" r="2.1" fill="url(#plump)"/><circle cx="198.0" cy="84.4" r="2.0" fill="url(#plump)"/><polygon points="266.9,6.8 272.5,6.4 276.8,7.0 275.7,9.3 275.0,10.3 268.5,11.5 265.5,10.8 262.8,9.6 264.4,7.9" fill="#c46a9a" stroke="#b05a8a" stroke-width="0.5" stroke-linejoin="round"/><circle cx="269.0" cy="8.4" r="2.3" fill="url(#plump)"/><circle cx="268.7" cy="11.1" r="0.9" fill="url(#plump)"/><circle cx="275.2" cy="8.9" r="1.2" fill="url(#plump)"/><circle cx="267.9" cy="10.0" r="1.7" fill="url(#plump)"/><circle cx="273.5" cy="7.1" r="1.1" fill="url(#plump)"/><circle cx="267.4" cy="9.7" r="2.0" fill="url(#plump)"/><polygon points="263.3,20.4 261.4,17.2 261.7,16.0 264.7,13.8 268.7,14.2 270.5,15.8 271.1,19.1 268.8,19.8 266.3,20.5" fill="#c46a9a" stroke="#b05a8a" stroke-width="0.5" stroke-linejoin="round"/><circle cx="263.2" cy="15.3" r="0.9" fill="url(#plump)"/><circle cx="267.8" cy="18.5" r="1.6" fill="url(#plump)"/><circle cx="265.5" cy="15.4" r="2.1" fill="url(#plump)"/><circle cx="264.8" cy="17.4" r="2.5" fill="url(#plump)"/><circle cx="268.2" cy="18.2" r="1.9" fill="url(#plump)"/><circle cx="264.8" cy="15.2" r="1.8" fill="url(#plump)"/><circle cx="267.7" cy="16.8" r="1.7" fill="url(#plump)"/><polygon points="266.9,31.5 267.8,29.5 270.2,27.7 271.7,28.1 275.0,29.6 275.2,32.9 273.4,36.2 271.2,36.8 268.1,35.5" fill="#c46a9a" stroke="#b05a8a" stroke-width="0.5" stroke-linejoin="round"/><circle cx="273.6" cy="29.8" r="1.4" fill="url(#plump)"/><circle cx="273.6" cy="31.2" r="1.8" fill="url(#plump)"/><circle cx="274.5" cy="33.6" r="0.8" fill="url(#plump)"/><circle cx="273.9" cy="32.8" r="1.7" fill="url(#plump)"/><circle cx="268.0" cy="31.0" r="1.4" fill="url(#plump)"/><polygon points="300.9,66.8 302.1,69.1 301.8,71.7 299.3,72.9 297.6,73.8 294.9,71.9 292.2,70.4 295.0,67.4 296.8,67.4" fill="#c46a9a" stroke="#b05a8a" stroke-width="0.5" stroke-linejoin="round"/><circle cx="300.6" cy="69.1" r="1.9" fill="url(#plump)"/><circle cx="295.0" cy="68.3" r="1.3" fill="url(#plump)"/><circle cx="297.4" cy="67.8" r="1.1" fill="url(#plump)"/><circle cx="300.3" cy="71.7" r="1.3" fill="url(#plump)"/><circle cx="295.5" cy="69.6" r="1.7" fill="url(#plump)"/><circle cx="298.8" cy="69.8" r="2.4" fill="url(#plump)"/><polygon points="295.3,77.9 298.0,77.6 299.5,79.4 298.3,83.5 296.7,84.1 293.1,84.3 290.9,83.2 291.1,79.6 291.5,77.8" fill="#c46a9a" stroke="#b05a8a" stroke-width="0.5" stroke-linejoin="round"/><circle cx="292.0" cy="80.2" r="1.5" fill="url(#plump)"/><circle cx="293.1" cy="82.3" r="2.0" fill="url(#plump)"/><circle cx="292.8" cy="80.4" r="2.3" fill="url(#plump)"/><circle cx="297.9" cy="81.1" r="1.6" fill="url(#plump)"/><polygon points="305.0,80.4 305.2,81.9 304.0,82.4 303.3,82.8 301.5,82.4 300.8,81.5 301.9,79.6 302.6,79.3 303.9,79.4" fill="#c46a9a" stroke="#b05a8a" stroke-width="0.5" stroke-linejoin="round"/><circle cx="302.4" cy="80.1" r="1.3" fill="url(#plump)"/><circle cx="302.5" cy="81.9" r="1.3" fill="url(#plump)"/><circle cx="302.2" cy="80.6" r="1.4" fill="url(#plump)"/><circle cx="302.9" cy="80.7" r="2.0" fill="url(#plump)"/><circle cx="303.3" cy="81.1" r="2.0" fill="url(#plump)"/><circle cx="304.1" cy="80.6" r="1.4" fill="url(#plump)"/><polygon points="310.4,95.3 311.9,92.5 313.7,92.1 317.8,92.6 319.2,96.0 319.8,98.1 315.6,99.9 312.7,99.8 309.5,97.6" fill="#c46a9a" stroke="#b05a8a" stroke-width="0.5" stroke-linejoin="round"/><circle cx="317.6" cy="93.4" r="1.1" fill="url(#plump)"/><circle cx="315.1" cy="98.0" r="1.6" fill="url(#plump)"/><circle cx="311.9" cy="96.6" r="1.9" fill="url(#plump)"/><circle cx="314.8" cy="95.0" r="1.8" fill="url(#plump)"/><circle cx="312.5" cy="98.0" r="1.9" fill="url(#plump)"/><circle cx="311.3" cy="95.1" r="1.3" fill="url(#plump)"/><polygon points="338.9,79.1 337.4,78.8 335.9,76.0 337.9,73.2 339.9,71.4 343.5,71.8 346.1,75.1 345.4,78.4 342.8,78.9" fill="#c46a9a" stroke="#b05a8a" stroke-width="0.5" stroke-linejoin="round"/><circle cx="337.9" cy="76.1" r="2.1" fill="url(#plump)"/><circle cx="341.2" cy="73.1" r="2.0" fill="url(#plump)"/><circle cx="343.1" cy="75.3" r="1.8" fill="url(#plump)"/><circle cx="339.8" cy="75.7" r="1.7" fill="url(#plump)"/><circle cx="340.1" cy="75.0" r="1.8" fill="url(#plump)"/><circle cx="343.0" cy="73.9" r="2.0" fill="url(#plump)"/><circle cx="337.9" cy="75.0" r="1.6" fill="url(#plump)"/><polygon points="331.9,85.6 333.0,82.0 334.9,80.7 338.7,81.4 340.7,84.3 338.9,88.6 337.2,90.2 334.5,89.6 331.7,89.6" fill="#c46a9a" stroke="#b05a8a" stroke-width="0.5" stroke-linejoin="round"/><circle cx="335.0" cy="81.6" r="1.4" fill="url(#plump)"/><circle cx="339.6" cy="84.1" r="1.4" fill="url(#plump)"/><circle cx="339.7" cy="85.5" r="1.1" fill="url(#plump)"/><circle cx="332.5" cy="88.2" r="1.3" fill="url(#plump)"/><circle cx="335.2" cy="88.5" r="1.8" fill="url(#plump)"/><circle cx="332.3" cy="87.3" r="1.1" fill="url(#plump)"/><circle cx="337.4" cy="87.8" r="2.2" fill="url(#plump)"/><polygon points="346.8,86.3 345.0,86.7 343.3,84.7 342.0,83.2 343.6,81.6 345.5,80.1 348.2,80.8 349.6,82.7 349.5,84.1" fill="#c46a9a" stroke="#b05a8a" stroke-width="0.5" stroke-linejoin="round"/><circle cx="345.1" cy="83.0" r="2.2" fill="url(#plump)"/><circle cx="346.7" cy="84.5" r="2.1" fill="url(#plump)"/><circle cx="344.9" cy="86.0" r="1.0" fill="url(#plump)"/><circle cx="344.5" cy="85.6" r="0.9" fill="url(#plump)"/><circle cx="342.9" cy="83.9" r="0.8" fill="url(#plump)"/><circle cx="345.1" cy="81.5" r="1.4" fill="url(#plump)"/><polygon points="344.5,90.5 347.7,92.4 349.3,95.0 347.6,97.8 343.9,99.7 340.7,99.4 338.8,96.0 338.6,92.3 340.6,90.9" fill="#c46a9a" stroke="#b05a8a" stroke-width="0.5" stroke-linejoin="round"/><circle cx="341.4" cy="95.0" r="2.6" fill="url(#plump)"/><circle cx="347.6" cy="93.6" r="1.3" fill="url(#plump)"/><circle cx="340.6" cy="97.3" r="1.5" fill="url(#plump)"/><circle cx="341.7" cy="97.7" r="2.2" fill="url(#plump)"/><circle cx="344.3" cy="95.5" r="2.0" fill="url(#plump)"/><polygon points="326.5,90.1 326.9,92.3 325.1,96.1 323.8,96.7 321.9,96.6 321.0,94.6 321.4,91.0 322.7,88.1 325.4,87.9" fill="#c46a9a" stroke="#b05a8a" stroke-width="0.5" stroke-linejoin="round"/><circle cx="326.3" cy="92.2" r="1.1" fill="url(#plump)"/><circle cx="325.2" cy="92.0" r="2.1" fill="url(#plump)"/><circle cx="323.2" cy="89.8" r="1.7" fill="url(#plump)"/><circle cx="325.9" cy="90.8" r="1.3" fill="url(#plump)"/><circle cx="322.9" cy="90.0" r="1.6" fill="url(#plump)"/><circle cx="324.6" cy="90.1" r="1.8" fill="url(#plump)"/><circle cx="323.5" cy="90.6" r="2.1" fill="url(#plump)"/><polygon points="367.4,96.7 368.6,95.5 373.5,95.9 374.6,97.4 374.5,99.3 372.7,100.7 371.2,101.5 367.1,99.7 365.6,97.7" fill="#c46a9a" stroke="#b05a8a" stroke-width="0.5" stroke-linejoin="round"/><circle cx="374.3" cy="98.5" r="0.9" fill="url(#plump)"/><circle cx="371.9" cy="100.8" r="0.9" fill="url(#plump)"/><circle cx="370.0" cy="96.2" r="1.2" fill="url(#plump)"/><circle cx="370.3" cy="96.0" r="1.0" fill="url(#plump)"/><circle cx="372.6" cy="97.1" r="1.9" fill="url(#plump)"/><circle cx="373.7" cy="99.6" r="0.9" fill="url(#plump)"/><polygon points="393.7,98.6 391.7,98.3 389.3,97.4 388.8,93.3 391.0,91.2 393.9,90.6 396.1,91.0 398.1,94.0 396.9,96.0" fill="#c46a9a" stroke="#b05a8a" stroke-width="0.5" stroke-linejoin="round"/><circle cx="391.9" cy="92.3" r="1.7" fill="url(#plump)"/><circle cx="394.0" cy="97.2" r="1.5" fill="url(#plump)"/><circle cx="395.2" cy="96.0" r="1.7" fill="url(#plump)"/><circle cx="389.6" cy="96.5" r="1.1" fill="url(#plump)"/><circle cx="393.7" cy="92.5" r="1.6" fill="url(#plump)"/><circle cx="392.3" cy="96.2" r="2.0" fill="url(#plump)"/><circle cx="396.2" cy="96.2" r="1.0" fill="url(#plump)"/><polygon points="404.8,86.0 406.2,89.0 406.5,91.7 404.7,93.1 402.0,94.0 400.9,92.2 399.8,89.6 401.2,86.0 403.0,85.7" fill="#c46a9a" stroke="#b05a8a" stroke-width="0.5" stroke-linejoin="round"/><circle cx="404.8" cy="92.6" r="0.9" fill="url(#plump)"/><circle cx="405.5" cy="90.5" r="1.5" fill="url(#plump)"/><circle cx="403.8" cy="88.0" r="2.3" fill="url(#plump)"/><circle cx="403.0" cy="86.8" r="1.6" fill="url(#plump)"/><circle cx="401.2" cy="90.9" r="1.3" fill="url(#plump)"/><circle cx="402.0" cy="91.0" r="2.0" fill="url(#plump)"/><circle cx="401.5" cy="91.0" r="1.6" fill="url(#plump)"/><polygon points="172.1,146.2 169.0,145.9 166.1,144.3 165.9,141.4 167.1,140.4 168.4,138.1 170.6,138.8 172.6,142.0 172.7,144.6" fill="#c46a9a" stroke="#b05a8a" stroke-width="0.5" stroke-linejoin="round"/><circle cx="168.6" cy="143.0" r="2.3" fill="url(#plump)"/><circle cx="168.4" cy="142.5" r="2.3" fill="url(#plump)"/><circle cx="170.4" cy="140.7" r="1.7" fill="url(#plump)"/><circle cx="167.6" cy="141.5" r="1.6" fill="url(#plump)"/><circle cx="167.7" cy="139.9" r="0.9" fill="url(#plump)"/><circle cx="167.6" cy="141.3" r="1.7" fill="url(#plump)"/><polygon points="200.2,152.0 201.5,153.7 200.8,156.1 198.1,158.7 195.3,157.3 193.8,155.5 194.3,153.5 196.2,150.4 198.2,150.8" fill="#c46a9a" stroke="#b05a8a" stroke-width="0.5" stroke-linejoin="round"/><circle cx="196.3" cy="155.5" r="1.9" fill="url(#plump)"/><circle cx="199.7" cy="156.6" r="1.0" fill="url(#plump)"/><circle cx="196.1" cy="157.4" r="1.0" fill="url(#plump)"/><circle cx="197.2" cy="157.7" r="1.1" fill="url(#plump)"/><circle cx="198.3" cy="154.3" r="2.1" fill="url(#plump)"/><circle cx="195.8" cy="157.2" r="0.9" fill="url(#plump)"/><circle cx="195.3" cy="156.7" r="1.1" fill="url(#plump)"/><polygon points="137.3,191.2 140.5,190.7 144.8,191.2 145.5,194.1 145.6,197.2 143.1,199.1 139.2,198.2 136.1,196.7 136.3,194.4" fill="#c46a9a" stroke="#b05a8a" stroke-width="0.5" stroke-linejoin="round"/><circle cx="140.8" cy="191.7" r="1.6" fill="url(#plump)"/><circle cx="144.9" cy="194.6" r="1.2" fill="url(#plump)"/><circle cx="142.0" cy="195.0" r="1.9" fill="url(#plump)"/><circle cx="139.7" cy="192.6" r="2.1" fill="url(#plump)"/><circle cx="145.4" cy="195.2" r="0.8" fill="url(#plump)"/><circle cx="143.3" cy="192.8" r="1.8" fill="url(#plump)"/><polygon points="160.1,195.4 160.5,193.1 162.6,189.5 165.2,190.3 167.4,190.9 169.2,193.6 169.1,197.0 164.9,197.8 162.3,197.8" fill="#c46a9a" stroke="#b05a8a" stroke-width="0.5" stroke-linejoin="round"/><circle cx="165.0" cy="193.0" r="2.4" fill="url(#plump)"/><circle cx="162.5" cy="195.3" r="2.5" fill="url(#plump)"/><circle cx="168.4" cy="194.5" r="1.3" fill="url(#plump)"/><circle cx="164.4" cy="191.1" r="1.6" fill="url(#plump)"/><polygon points="155.4,197.2 155.5,200.8 152.8,203.2 149.6,204.1 147.5,202.7 146.8,200.6 146.2,197.7 149.5,195.6 151.9,195.1" fill="#c46a9a" stroke="#b05a8a" stroke-width="0.5" stroke-linejoin="round"/><circle cx="152.1" cy="198.9" r="1.9" fill="url(#plump)"/><circle cx="150.2" cy="196.7" r="1.8" fill="url(#plump)"/><circle cx="151.0" cy="199.5" r="1.9" fill="url(#plump)"/><circle cx="148.8" cy="200.6" r="2.0" fill="url(#plump)"/><circle cx="154.8" cy="197.9" r="1.2" fill="url(#plump)"/><circle cx="151.4" cy="198.6" r="2.0" fill="url(#plump)"/><polygon points="283.2,108.7 282.4,105.3 284.5,103.3 287.4,102.6 289.5,103.2 291.1,106.6 290.9,109.7 287.6,111.4 285.2,111.4" fill="#c46a9a" stroke="#b05a8a" stroke-width="0.5" stroke-linejoin="round"/><circle cx="287.8" cy="105.6" r="2.1" fill="url(#plump)"/><circle cx="286.4" cy="106.3" r="1.6" fill="url(#plump)"/><circle cx="287.7" cy="108.2" r="1.9" fill="url(#plump)"/><circle cx="285.6" cy="105.8" r="2.5" fill="url(#plump)"/><circle cx="285.8" cy="105.2" r="1.7" fill="url(#plump)"/><circle cx="290.4" cy="107.5" r="1.2" fill="url(#plump)"/><circle cx="285.4" cy="107.0" r="1.7" fill="url(#plump)"/><polygon points="278.2,117.7 274.9,114.7 275.4,113.0 275.6,110.2 279.7,108.7 282.2,108.7 283.1,111.8 282.2,114.9 279.8,117.5" fill="#c46a9a" stroke="#b05a8a" stroke-width="0.5" stroke-linejoin="round"/><circle cx="280.4" cy="112.4" r="2.2" fill="url(#plump)"/><circle cx="275.7" cy="115.2" r="0.8" fill="url(#plump)"/><circle cx="280.5" cy="109.4" r="1.3" fill="url(#plump)"/><circle cx="277.6" cy="113.8" r="2.5" fill="url(#plump)"/><circle cx="278.2" cy="115.1" r="1.8" fill="url(#plump)"/><circle cx="277.1" cy="114.0" r="2.3" fill="url(#plump)"/><circle cx="278.7" cy="111.0" r="2.1" fill="url(#plump)"/><polygon points="293.1,108.4 295.4,107.7 298.4,109.8 298.7,112.4 299.2,115.6 295.5,116.9 292.9,117.6 291.3,114.7 289.9,111.5" fill="#c46a9a" stroke="#b05a8a" stroke-width="0.5" stroke-linejoin="round"/><circle cx="295.0" cy="108.0" r="0.8" fill="url(#plump)"/><circle cx="295.5" cy="109.2" r="1.8" fill="url(#plump)"/><circle cx="294.2" cy="113.1" r="2.5" fill="url(#plump)"/><circle cx="293.7" cy="109.2" r="1.6" fill="url(#plump)"/><polygon points="270.6,135.5 268.8,133.9 264.9,130.1 265.7,128.6 269.4,125.4 273.0,125.2 274.2,127.4 276.3,131.7 274.7,133.4" fill="#c46a9a" stroke="#b05a8a" stroke-width="0.5" stroke-linejoin="round"/><circle cx="271.7" cy="132.2" r="1.8" fill="url(#plump)"/><circle cx="269.1" cy="131.7" r="1.7" fill="url(#plump)"/><circle cx="275.1" cy="132.0" r="1.3" fill="url(#plump)"/><circle cx="268.2" cy="129.5" r="2.5" fill="url(#plump)"/><circle cx="266.4" cy="128.8" r="1.2" fill="url(#plump)"/><circle cx="272.7" cy="131.4" r="2.3" fill="url(#plump)"/><circle cx="267.0" cy="130.7" r="1.6" fill="url(#plump)"/><polygon points="284.2,123.7 286.9,124.9 288.0,126.2 287.7,127.8 286.0,129.2 283.8,129.9 282.4,128.2 281.8,126.4 282.0,124.4" fill="#c46a9a" stroke="#b05a8a" stroke-width="0.5" stroke-linejoin="round"/><circle cx="282.9" cy="126.4" r="1.6" fill="url(#plump)"/><circle cx="285.8" cy="125.0" r="1.1" fill="url(#plump)"/><circle cx="283.9" cy="125.0" r="1.7" fill="url(#plump)"/><circle cx="286.7" cy="125.1" r="0.9" fill="url(#plump)"/><circle cx="283.3" cy="124.8" r="1.4" fill="url(#plump)"/><circle cx="285.5" cy="127.4" r="2.2" fill="url(#plump)"/><circle cx="283.9" cy="129.4" r="1.0" fill="url(#plump)"/><polygon points="306.5,129.4 306.3,135.3 302.8,137.0 299.4,135.8 296.7,135.1 296.8,130.4 297.8,128.7 300.4,127.1 304.5,128.9" fill="#c46a9a" stroke="#b05a8a" stroke-width="0.5" stroke-linejoin="round"/><circle cx="304.2" cy="131.4" r="2.2" fill="url(#plump)"/><circle cx="305.2" cy="132.3" r="1.8" fill="url(#plump)"/><circle cx="298.7" cy="133.4" r="1.7" fill="url(#plump)"/><circle cx="304.7" cy="131.7" r="2.0" fill="url(#plump)"/><circle cx="298.8" cy="131.1" r="2.6" fill="url(#plump)"/><circle cx="305.8" cy="134.0" r="1.1" fill="url(#plump)"/><circle cx="302.9" cy="130.3" r="2.0" fill="url(#plump)"/><polygon points="274.2,136.7 276.8,136.3 280.3,138.5 280.6,141.2 278.9,144.4 275.4,145.4 273.6,145.2 270.5,142.2 271.6,138.3" fill="#c46a9a" stroke="#b05a8a" stroke-width="0.5" stroke-linejoin="round"/><circle cx="273.6" cy="140.1" r="2.0" fill="url(#plump)"/><circle cx="274.0" cy="143.8" r="1.7" fill="url(#plump)"/><circle cx="273.7" cy="143.8" r="1.8" fill="url(#plump)"/><circle cx="277.3" cy="144.5" r="1.0" fill="url(#plump)"/><circle cx="274.5" cy="137.2" r="1.2" fill="url(#plump)"/><circle cx="275.6" cy="143.6" r="1.8" fill="url(#plump)"/><polygon points="313.5,133.0 317.1,133.0 318.3,135.8 319.8,137.5 318.8,140.6 314.8,142.6 313.2,140.9 310.9,138.2 310.2,136.7" fill="#c46a9a" stroke="#b05a8a" stroke-width="0.5" stroke-linejoin="round"/><circle cx="313.3" cy="135.0" r="1.7" fill="url(#plump)"/><circle cx="316.3" cy="136.7" r="2.1" fill="url(#plump)"/><circle cx="313.2" cy="138.2" r="2.0" fill="url(#plump)"/><circle cx="313.8" cy="138.2" r="2.2" fill="url(#plump)"/><circle cx="310.5" cy="136.8" r="0.8" fill="url(#plump)"/><circle cx="315.6" cy="139.6" r="1.9" fill="url(#plump)"/><circle cx="311.7" cy="137.5" r="1.6" fill="url(#plump)"/><polygon points="305.3,141.7 307.9,142.3 308.3,145.0 307.5,147.7 305.7,149.6 303.6,149.2 301.6,146.5 300.8,144.8 302.1,142.8" fill="#c46a9a" stroke="#b05a8a" stroke-width="0.5" stroke-linejoin="round"/><circle cx="306.0" cy="143.6" r="1.7" fill="url(#plump)"/><circle cx="307.1" cy="143.6" r="1.6" fill="url(#plump)"/><circle cx="303.5" cy="144.0" r="1.7" fill="url(#plump)"/><circle cx="304.6" cy="144.3" r="2.3" fill="url(#plump)"/><circle cx="307.1" cy="143.7" r="1.6" fill="url(#plump)"/><circle cx="304.2" cy="142.6" r="1.1" fill="url(#plump)"/><circle cx="305.3" cy="148.0" r="1.8" fill="url(#plump)"/><polygon points="315.4,143.7 318.2,141.1 320.6,140.6 322.7,141.3 323.1,144.6 321.9,148.8 319.5,149.3 317.2,147.9 316.4,146.2" fill="#c46a9a" stroke="#b05a8a" stroke-width="0.5" stroke-linejoin="round"/><circle cx="317.5" cy="143.8" r="2.1" fill="url(#plump)"/><circle cx="316.8" cy="145.2" r="1.3" fill="url(#plump)"/><circle cx="320.3" cy="146.2" r="1.9" fill="url(#plump)"/><circle cx="321.6" cy="143.7" r="2.0" fill="url(#plump)"/><circle cx="319.0" cy="144.2" r="2.3" fill="url(#plump)"/><circle cx="319.1" cy="145.2" r="1.7" fill="url(#plump)"/><polygon points="318.1,147.5 319.4,152.2 318.3,156.8 317.0,157.1 312.6,156.7 309.6,153.1 309.1,151.5 311.9,147.5 314.3,146.3" fill="#c46a9a" stroke="#b05a8a" stroke-width="0.5" stroke-linejoin="round"/><circle cx="315.3" cy="148.5" r="2.4" fill="url(#plump)"/><circle cx="314.5" cy="148.4" r="2.5" fill="url(#plump)"/><circle cx="315.9" cy="147.9" r="1.6" fill="url(#plump)"/><circle cx="317.0" cy="156.7" r="1.0" fill="url(#plump)"/><circle cx="315.8" cy="153.2" r="2.5" fill="url(#plump)"/><circle cx="317.4" cy="154.7" r="1.9" fill="url(#plump)"/><circle cx="312.9" cy="151.6" r="1.9" fill="url(#plump)"/><polygon points="250.9,145.7 249.4,149.5 247.2,149.2 243.9,150.4 240.8,148.3 240.9,143.9 244.0,139.7 246.4,140.2 249.9,142.2" fill="#c46a9a" stroke="#b05a8a" stroke-width="0.5" stroke-linejoin="round"/><circle cx="245.1" cy="143.2" r="2.4" fill="url(#plump)"/><circle cx="247.3" cy="142.9" r="2.5" fill="url(#plump)"/><circle cx="243.4" cy="148.7" r="1.7" fill="url(#plump)"/><circle cx="245.8" cy="146.2" r="2.0" fill="url(#plump)"/><circle cx="248.7" cy="146.7" r="1.7" fill="url(#plump)"/><circle cx="247.1" cy="143.4" r="1.6" fill="url(#plump)"/><circle cx="243.9" cy="144.7" r="2.3" fill="url(#plump)"/><polygon points="234.1,134.4 237.9,134.8 240.5,137.2 240.0,138.4 238.6,141.3 235.5,142.4 234.0,141.3 231.9,139.1 232.7,137.0" fill="#c46a9a" stroke="#b05a8a" stroke-width="0.5" stroke-linejoin="round"/><circle cx="236.0" cy="138.0" r="2.5" fill="url(#plump)"/><circle cx="238.3" cy="140.3" r="1.3" fill="url(#plump)"/><circle cx="234.7" cy="137.5" r="2.5" fill="url(#plump)"/><circle cx="233.5" cy="140.0" r="1.2" fill="url(#plump)"/><circle cx="236.6" cy="135.5" r="1.4" fill="url(#plump)"/><circle cx="239.2" cy="139.2" r="1.0" fill="url(#plump)"/><circle cx="239.2" cy="136.8" r="1.2" fill="url(#plump)"/><polygon points="242.4,154.9 243.1,158.1 242.0,161.1 238.9,160.9 236.4,161.4 235.7,157.8 235.0,154.4 238.4,151.9 240.4,153.8" fill="#c46a9a" stroke="#b05a8a" stroke-width="0.5" stroke-linejoin="round"/><circle cx="241.9" cy="159.5" r="1.3" fill="url(#plump)"/><circle cx="237.3" cy="158.4" r="2.0" fill="url(#plump)"/><circle cx="236.1" cy="155.9" r="1.3" fill="url(#plump)"/><circle cx="240.8" cy="155.0" r="1.5" fill="url(#plump)"/><circle cx="236.7" cy="158.3" r="1.5" fill="url(#plump)"/><circle cx="242.1" cy="156.9" r="1.4" fill="url(#plump)"/><polygon points="272.9,154.8 272.2,158.4 269.4,160.2 266.7,161.9 264.8,159.9 262.0,159.0 263.8,153.6 264.5,151.8 269.2,152.2" fill="#c46a9a" stroke="#b05a8a" stroke-width="0.5" stroke-linejoin="round"/><circle cx="270.3" cy="155.5" r="1.7" fill="url(#plump)"/><circle cx="267.8" cy="159.1" r="1.7" fill="url(#plump)"/><circle cx="270.0" cy="157.5" r="2.5" fill="url(#plump)"/><circle cx="264.7" cy="158.5" r="1.6" fill="url(#plump)"/><circle cx="271.5" cy="156.4" r="1.7" fill="url(#plump)"/><circle cx="264.7" cy="159.6" r="0.9" fill="url(#plump)"/><circle cx="264.8" cy="155.8" r="2.2" fill="url(#plump)"/><polygon points="313.8,163.2 314.1,165.4 315.7,168.7 314.1,172.2 309.2,172.4 306.2,171.8 305.8,167.8 307.1,164.7 308.9,162.6" fill="#c46a9a" stroke="#b05a8a" stroke-width="0.5" stroke-linejoin="round"/><circle cx="307.8" cy="170.8" r="1.9" fill="url(#plump)"/><circle cx="306.8" cy="169.3" r="1.4" fill="url(#plump)"/><circle cx="310.7" cy="167.5" r="2.4" fill="url(#plump)"/><circle cx="314.3" cy="170.9" r="1.0" fill="url(#plump)"/><circle cx="308.0" cy="167.2" r="2.4" fill="url(#plump)"/><circle cx="310.8" cy="168.4" r="1.7" fill="url(#plump)"/><polygon points="240.7,179.9 240.2,182.3 238.3,185.7 236.9,185.9 234.6,183.0 234.8,180.4 235.5,177.1 237.4,175.7 239.7,176.6" fill="#c46a9a" stroke="#b05a8a" stroke-width="0.5" stroke-linejoin="round"/><circle cx="238.9" cy="181.1" r="2.1" fill="url(#plump)"/><circle cx="238.5" cy="178.3" r="2.2" fill="url(#plump)"/><circle cx="235.4" cy="180.6" r="1.2" fill="url(#plump)"/><circle cx="235.8" cy="179.3" r="1.3" fill="url(#plump)"/><circle cx="237.5" cy="178.0" r="1.9" fill="url(#plump)"/><circle cx="236.4" cy="177.9" r="1.6" fill="url(#plump)"/><polygon points="327.0,113.0 328.5,111.4 332.0,111.5 334.2,114.6 334.9,115.6 332.8,119.6 330.0,119.4 327.9,118.6 326.4,116.6" fill="#c46a9a" stroke="#b05a8a" stroke-width="0.5" stroke-linejoin="round"/><circle cx="332.5" cy="113.0" r="1.1" fill="url(#plump)"/><circle cx="331.4" cy="113.0" r="1.8" fill="url(#plump)"/><circle cx="332.0" cy="113.2" r="1.6" fill="url(#plump)"/><circle cx="329.3" cy="112.5" r="1.7" fill="url(#plump)"/><circle cx="331.6" cy="111.9" r="1.0" fill="url(#plump)"/><circle cx="332.2" cy="114.5" r="2.2" fill="url(#plump)"/><circle cx="331.4" cy="112.9" r="1.9" fill="url(#plump)"/><polygon points="351.5,115.3 351.3,116.9 348.8,120.0 345.1,119.5 343.8,118.2 342.4,114.1 344.1,112.8 346.8,111.2 349.8,111.4" fill="#c46a9a" stroke="#b05a8a" stroke-width="0.5" stroke-linejoin="round"/><circle cx="346.0" cy="115.3" r="2.1" fill="url(#plump)"/><circle cx="348.3" cy="117.5" r="2.0" fill="url(#plump)"/><circle cx="344.7" cy="117.5" r="1.7" fill="url(#plump)"/><circle cx="346.0" cy="114.2" r="1.8" fill="url(#plump)"/><circle cx="344.9" cy="115.8" r="1.9" fill="url(#plump)"/><circle cx="345.9" cy="114.5" r="1.7" fill="url(#plump)"/><polygon points="333.9,137.5 333.7,134.4 335.7,132.5 340.2,132.6 342.0,135.1 343.5,136.7 341.5,140.2 339.8,140.6 334.4,141.1" fill="#c46a9a" stroke="#b05a8a" stroke-width="0.5" stroke-linejoin="round"/><circle cx="338.3" cy="137.6" r="2.6" fill="url(#plump)"/><circle cx="336.6" cy="134.1" r="1.9" fill="url(#plump)"/><circle cx="340.6" cy="139.4" r="1.6" fill="url(#plump)"/><circle cx="340.3" cy="139.5" r="1.5" fill="url(#plump)"/><circle cx="338.9" cy="137.2" r="2.4" fill="url(#plump)"/><circle cx="334.8" cy="138.2" r="1.4" fill="url(#plump)"/><circle cx="335.3" cy="134.7" r="1.6" fill="url(#plump)"/><polygon points="322.4,142.3 325.0,143.1 326.5,146.1 326.5,147.9 324.8,150.7 321.0,150.5 319.8,148.3 319.8,146.1 320.7,143.9" fill="#c46a9a" stroke="#b05a8a" stroke-width="0.5" stroke-linejoin="round"/><circle cx="325.8" cy="147.0" r="1.3" fill="url(#plump)"/><circle cx="323.4" cy="143.5" r="1.5" fill="url(#plump)"/><circle cx="322.8" cy="146.5" r="2.2" fill="url(#plump)"/><circle cx="322.8" cy="148.1" r="2.1" fill="url(#plump)"/><circle cx="322.1" cy="144.0" r="1.6" fill="url(#plump)"/><circle cx="321.4" cy="149.7" r="1.4" fill="url(#plump)"/><polygon points="365.7,148.2 361.8,149.8 359.2,147.8 358.2,144.7 358.8,140.7 359.8,139.8 363.2,139.6 367.1,141.8 368.4,143.9" fill="#c46a9a" stroke="#b05a8a" stroke-width="0.5" stroke-linejoin="round"/><circle cx="364.4" cy="145.1" r="1.8" fill="url(#plump)"/><circle cx="359.4" cy="144.3" r="1.8" fill="url(#plump)"/><circle cx="365.3" cy="148.0" r="0.9" fill="url(#plump)"/><circle cx="360.8" cy="144.0" r="1.8" fill="url(#plump)"/><circle cx="360.1" cy="148.2" r="0.8" fill="url(#plump)"/><circle cx="360.0" cy="143.0" r="2.2" fill="url(#plump)"/><polygon points="372.3,148.7 370.2,148.9 368.8,143.9 370.7,140.4 373.1,140.5 376.8,139.9 378.2,142.3 377.5,147.7 375.0,149.3" fill="#c46a9a" stroke="#b05a8a" stroke-width="0.5" stroke-linejoin="round"/><circle cx="373.7" cy="145.5" r="2.1" fill="url(#plump)"/><circle cx="375.2" cy="148.7" r="1.0" fill="url(#plump)"/><circle cx="370.4" cy="142.3" r="1.2" fill="url(#plump)"/><circle cx="377.2" cy="143.3" r="1.4" fill="url(#plump)"/><circle cx="372.6" cy="148.3" r="1.0" fill="url(#plump)"/><circle cx="373.4" cy="142.1" r="2.2" fill="url(#plump)"/><polygon points="365.5,151.5 368.5,153.0 368.8,156.5 367.4,158.5 364.2,160.3 360.0,159.2 357.6,154.9 359.8,152.3 362.0,151.2" fill="#c46a9a" stroke="#b05a8a" stroke-width="0.5" stroke-linejoin="round"/><circle cx="367.1" cy="157.5" r="1.4" fill="url(#plump)"/><circle cx="367.1" cy="157.1" r="1.6" fill="url(#plump)"/><circle cx="366.0" cy="156.5" r="1.8" fill="url(#plump)"/><circle cx="364.2" cy="158.5" r="1.8" fill="url(#plump)"/><circle cx="361.8" cy="156.1" r="2.1" fill="url(#plump)"/><circle cx="362.3" cy="153.6" r="2.1" fill="url(#plump)"/><circle cx="366.5" cy="156.8" r="2.3" fill="url(#plump)"/><polygon points="329.2,166.7 330.4,168.8 331.5,172.9 329.8,174.2 327.9,176.3 324.0,174.3 321.0,171.0 322.1,169.1 323.6,166.9" fill="#c46a9a" stroke="#b05a8a" stroke-width="0.5" stroke-linejoin="round"/><circle cx="325.4" cy="168.9" r="1.7" fill="url(#plump)"/><circle cx="323.4" cy="173.0" r="1.1" fill="url(#plump)"/><circle cx="331.0" cy="172.8" r="0.9" fill="url(#plump)"/><circle cx="323.8" cy="169.0" r="1.9" fill="url(#plump)"/><circle cx="328.3" cy="168.5" r="2.1" fill="url(#plump)"/><circle cx="329.3" cy="169.7" r="1.9" fill="url(#plump)"/><circle cx="327.5" cy="171.8" r="2.1" fill="url(#plump)"/><polygon points="342.1,164.6 344.8,164.7 346.5,168.8 345.0,171.1 340.6,173.3 337.6,172.3 335.7,170.6 335.1,167.7 337.4,164.4" fill="#c46a9a" stroke="#b05a8a" stroke-width="0.5" stroke-linejoin="round"/><circle cx="337.2" cy="168.5" r="2.0" fill="url(#plump)"/><circle cx="338.3" cy="171.0" r="1.8" fill="url(#plump)"/><circle cx="336.2" cy="170.7" r="0.9" fill="url(#plump)"/><circle cx="343.4" cy="165.4" r="1.4" fill="url(#plump)"/><circle cx="341.6" cy="172.5" r="0.9" fill="url(#plump)"/><circle cx="344.1" cy="169.9" r="2.0" fill="url(#plump)"/><polygon points="397.9,117.0 398.3,114.1 400.1,112.0 402.5,111.5 405.0,113.2 405.4,116.2 404.6,117.9 402.3,119.0 399.9,118.3" fill="#c46a9a" stroke="#b05a8a" stroke-width="0.5" stroke-linejoin="round"/><circle cx="400.7" cy="116.3" r="1.8" fill="url(#plump)"/><circle cx="400.4" cy="114.5" r="1.7" fill="url(#plump)"/><circle cx="401.9" cy="113.8" r="2.5" fill="url(#plump)"/><circle cx="401.3" cy="112.3" r="1.2" fill="url(#plump)"/><circle cx="404.3" cy="116.7" r="1.4" fill="url(#plump)"/><circle cx="401.1" cy="115.8" r="2.4" fill="url(#plump)"/><circle cx="399.9" cy="116.9" r="1.7" fill="url(#plump)"/><polygon points="97.5,234.3 96.7,232.1 95.7,228.9 96.4,226.9 99.4,225.7 102.2,226.1 103.4,227.5 101.9,231.0 100.4,232.8" fill="#c46a9a" stroke="#b05a8a" stroke-width="0.5" stroke-linejoin="round"/><circle cx="99.9" cy="226.7" r="1.5" fill="url(#plump)"/><circle cx="97.9" cy="230.5" r="2.1" fill="url(#plump)"/><circle cx="97.9" cy="231.6" r="1.8" fill="url(#plump)"/><circle cx="99.9" cy="228.5" r="2.6" fill="url(#plump)"/><circle cx="96.8" cy="228.8" r="1.6" fill="url(#plump)"/><circle cx="101.4" cy="227.5" r="1.6" fill="url(#plump)"/><circle cx="100.1" cy="229.4" r="1.7" fill="url(#plump)"/><polygon points="268.6,205.0 265.0,208.1 262.4,208.6 259.5,207.5 259.9,206.2 259.1,203.0 262.9,201.1 264.5,202.0 267.0,202.3" fill="#c46a9a" stroke="#b05a8a" stroke-width="0.5" stroke-linejoin="round"/><circle cx="266.5" cy="205.1" r="1.6" fill="url(#plump)"/><circle cx="262.4" cy="203.0" r="2.1" fill="url(#plump)"/><circle cx="260.6" cy="207.6" r="0.9" fill="url(#plump)"/><circle cx="265.7" cy="206.2" r="1.6" fill="url(#plump)"/><circle cx="260.9" cy="205.2" r="1.8" fill="url(#plump)"/><circle cx="263.4" cy="201.8" r="1.0" fill="url(#plump)"/><circle cx="263.9" cy="205.3" r="2.4" fill="url(#plump)"/><polygon points="240.2,229.7 240.7,230.7 238.4,235.4 236.8,235.2 233.9,234.9 233.4,232.2 234.7,228.7 236.3,225.7 237.5,226.7" fill="#c46a9a" stroke="#b05a8a" stroke-width="0.5" stroke-linejoin="round"/><circle cx="237.5" cy="232.8" r="1.9" fill="url(#plump)"/><circle cx="235.3" cy="232.2" r="1.9" fill="url(#plump)"/><circle cx="236.9" cy="228.0" r="1.9" fill="url(#plump)"/><circle cx="238.7" cy="229.2" r="1.4" fill="url(#plump)"/><circle cx="235.3" cy="234.8" r="0.9" fill="url(#plump)"/><circle cx="239.4" cy="230.5" r="1.7" fill="url(#plump)"/><circle cx="236.3" cy="226.4" r="1.0" fill="url(#plump)"/><polygon points="228.4,238.5 228.2,236.3 229.4,233.7 233.2,232.8 234.9,235.2 236.2,235.8 234.9,239.8 232.3,240.8 229.9,240.2" fill="#c46a9a" stroke="#b05a8a" stroke-width="0.5" stroke-linejoin="round"/><circle cx="230.6" cy="236.2" r="2.3" fill="url(#plump)"/><circle cx="232.1" cy="238.9" r="2.3" fill="url(#plump)"/><circle cx="233.2" cy="233.9" r="1.2" fill="url(#plump)"/><circle cx="232.1" cy="237.3" r="1.9" fill="url(#plump)"/><circle cx="229.5" cy="237.4" r="1.8" fill="url(#plump)"/><circle cx="234.4" cy="236.5" r="1.9" fill="url(#plump)"/><circle cx="231.8" cy="234.3" r="1.8" fill="url(#plump)"/><polygon points="240.4,268.0 241.7,271.0 241.3,274.2 239.3,275.4 236.9,276.3 233.8,274.0 232.2,272.3 233.7,268.7 237.8,267.6" fill="#c46a9a" stroke="#b05a8a" stroke-width="0.5" stroke-linejoin="round"/><circle cx="238.8" cy="274.5" r="1.6" fill="url(#plump)"/><circle cx="233.8" cy="270.3" r="1.4" fill="url(#plump)"/><circle cx="240.0" cy="269.5" r="1.6" fill="url(#plump)"/><circle cx="240.9" cy="270.4" r="1.1" fill="url(#plump)"/><circle cx="234.3" cy="273.5" r="1.3" fill="url(#plump)"/><circle cx="240.0" cy="272.6" r="2.2" fill="url(#plump)"/><polygon points="282.5,290.9 285.3,291.1 288.2,293.1 289.2,295.8 286.8,298.2 283.4,298.8 279.9,297.6 278.1,295.6 280.5,292.3" fill="#c46a9a" stroke="#b05a8a" stroke-width="0.5" stroke-linejoin="round"/><circle cx="279.9" cy="294.1" r="1.2" fill="url(#plump)"/><circle cx="285.4" cy="292.0" r="1.3" fill="url(#plump)"/><circle cx="287.1" cy="296.2" r="1.8" fill="url(#plump)"/><circle cx="284.3" cy="292.8" r="2.4" fill="url(#plump)"/><circle cx="279.2" cy="295.8" r="1.2" fill="url(#plump)"/><circle cx="281.9" cy="294.9" r="2.5" fill="url(#plump)"/><circle cx="281.0" cy="297.5" r="1.1" fill="url(#plump)"/><polygon points="296.6,295.9 297.5,297.1 295.2,298.9 293.3,300.3 291.0,299.5 289.9,297.6 289.9,295.4 292.1,294.1 294.8,294.2" fill="#c46a9a" stroke="#b05a8a" stroke-width="0.5" stroke-linejoin="round"/><circle cx="291.5" cy="295.8" r="1.7" fill="url(#plump)"/><circle cx="294.8" cy="295.8" r="1.6" fill="url(#plump)"/><circle cx="295.4" cy="297.0" r="1.9" fill="url(#plump)"/><circle cx="293.1" cy="299.9" r="1.0" fill="url(#plump)"/><circle cx="294.2" cy="297.5" r="1.9" fill="url(#plump)"/><polygon points="397.4,231.8 399.7,227.3 401.8,227.3 406.5,230.3 406.1,233.6 404.9,236.3 403.2,237.4 399.0,236.7 397.1,234.2" fill="#c46a9a" stroke="#b05a8a" stroke-width="0.5" stroke-linejoin="round"/><circle cx="401.1" cy="236.7" r="1.0" fill="url(#plump)"/><circle cx="401.0" cy="234.3" r="2.3" fill="url(#plump)"/><circle cx="404.5" cy="233.4" r="1.7" fill="url(#plump)"/><circle cx="401.6" cy="228.8" r="1.9" fill="url(#plump)"/><circle cx="401.0" cy="232.4" r="1.6" fill="url(#plump)"/><circle cx="401.8" cy="231.4" r="2.4" fill="url(#plump)"/><polygon points="48.0,312.4 49.1,310.4 50.9,307.4 54.4,309.0 55.9,311.4 55.7,314.4 55.4,317.9 52.1,318.0 48.0,315.9" fill="#c46a9a" stroke="#b05a8a" stroke-width="0.5" stroke-linejoin="round"/><circle cx="50.4" cy="315.8" r="1.8" fill="url(#plump)"/><circle cx="50.7" cy="310.1" r="1.9" fill="url(#plump)"/><circle cx="51.8" cy="309.3" r="1.9" fill="url(#plump)"/><circle cx="53.0" cy="308.9" r="1.0" fill="url(#plump)"/><circle cx="52.5" cy="315.8" r="2.0" fill="url(#plump)"/><circle cx="51.1" cy="317.0" r="1.1" fill="url(#plump)"/><circle cx="55.1" cy="317.7" r="0.8" fill="url(#plump)"/><polygon points="86.4,302.5 86.3,305.6 85.4,306.9 82.1,306.5 81.1,305.8 79.7,302.5 81.3,300.2 83.7,298.7 85.7,298.4" fill="#c46a9a" stroke="#b05a8a" stroke-width="0.5" stroke-linejoin="round"/><circle cx="84.1" cy="303.5" r="2.1" fill="url(#plump)"/><circle cx="86.2" cy="302.9" r="0.8" fill="url(#plump)"/><circle cx="81.6" cy="303.1" r="2.0" fill="url(#plump)"/><circle cx="82.4" cy="300.2" r="1.1" fill="url(#plump)"/><circle cx="85.7" cy="304.5" r="1.2" fill="url(#plump)"/><circle cx="85.3" cy="299.9" r="1.2" fill="url(#plump)"/><circle cx="82.2" cy="302.7" r="2.0" fill="url(#plump)"/><polygon points="123.3,343.1 118.9,341.1 116.8,340.0 118.3,336.7 122.8,334.5 125.4,335.1 127.1,336.2 128.0,340.0 126.0,341.7" fill="#c46a9a" stroke="#b05a8a" stroke-width="0.5" stroke-linejoin="round"/><circle cx="123.7" cy="339.7" r="2.3" fill="url(#plump)"/><circle cx="124.3" cy="336.6" r="2.3" fill="url(#plump)"/><circle cx="118.2" cy="339.9" r="1.3" fill="url(#plump)"/><circle cx="122.2" cy="336.6" r="2.1" fill="url(#plump)"/><circle cx="123.8" cy="339.0" r="1.8" fill="url(#plump)"/><circle cx="122.5" cy="340.1" r="1.7" fill="url(#plump)"/><circle cx="118.0" cy="338.0" r="0.9" fill="url(#plump)"/><polygon points="158.2,346.5 156.7,348.4 154.3,349.8 152.4,350.5 149.8,347.3 149.3,344.9 150.9,342.6 154.3,342.4 157.9,343.2" fill="#c46a9a" stroke="#b05a8a" stroke-width="0.5" stroke-linejoin="round"/><circle cx="154.1" cy="349.3" r="1.1" fill="url(#plump)"/><circle cx="156.5" cy="344.4" r="1.9" fill="url(#plump)"/><circle cx="157.6" cy="346.6" r="1.0" fill="url(#plump)"/><circle cx="152.9" cy="348.6" r="1.9" fill="url(#plump)"/><circle cx="154.0" cy="344.8" r="2.3" fill="url(#plump)"/><circle cx="151.1" cy="348.1" r="1.1" fill="url(#plump)"/><circle cx="154.1" cy="347.9" r="2.3" fill="url(#plump)"/><polygon points="289.8,341.7 294.1,342.4 295.9,344.9 295.7,346.8 294.5,350.0 291.3,351.4 288.1,349.5 287.2,346.9 288.9,343.4" fill="#c46a9a" stroke="#b05a8a" stroke-width="0.5" stroke-linejoin="round"/><circle cx="293.9" cy="348.3" r="1.8" fill="url(#plump)"/><circle cx="293.1" cy="348.9" r="2.2" fill="url(#plump)"/><circle cx="289.7" cy="348.5" r="2.3" fill="url(#plump)"/><circle cx="291.3" cy="342.8" r="1.5" fill="url(#plump)"/><circle cx="290.9" cy="345.9" r="2.6" fill="url(#plump)"/><polygon points="255.9,354.3 257.7,354.4 261.4,355.4 260.5,359.8 260.6,362.0 256.2,362.6 253.5,361.4 250.8,358.6 253.6,355.1" fill="#c46a9a" stroke="#b05a8a" stroke-width="0.5" stroke-linejoin="round"/><circle cx="257.5" cy="357.5" r="1.7" fill="url(#plump)"/><circle cx="255.5" cy="362.0" r="0.9" fill="url(#plump)"/><circle cx="256.6" cy="356.9" r="2.4" fill="url(#plump)"/><circle cx="253.3" cy="358.3" r="2.2" fill="url(#plump)"/><circle cx="253.1" cy="359.6" r="1.6" fill="url(#plump)"/><circle cx="256.3" cy="355.1" r="1.4" fill="url(#plump)"/><circle cx="258.4" cy="359.2" r="2.0" fill="url(#plump)"/><polygon points="274.6,349.1 276.4,347.2 277.9,347.9 278.1,350.6 277.9,354.6 277.0,356.0 275.1,356.8 274.1,354.5 274.0,350.7" fill="#c46a9a" stroke="#b05a8a" stroke-width="0.5" stroke-linejoin="round"/><circle cx="275.5" cy="350.6" r="2.0" fill="url(#plump)"/><circle cx="275.9" cy="355.4" r="1.5" fill="url(#plump)"/><circle cx="274.8" cy="353.7" r="1.3" fill="url(#plump)"/><circle cx="275.7" cy="356.3" r="0.8" fill="url(#plump)"/><circle cx="275.9" cy="349.7" r="2.0" fill="url(#plump)"/><polygon points="306.9,359.5 308.4,358.1 311.3,358.3 313.6,360.6 313.8,364.6 312.6,365.9 310.0,366.6 307.0,366.3 305.7,362.9" fill="#c46a9a" stroke="#b05a8a" stroke-width="0.5" stroke-linejoin="round"/><circle cx="308.2" cy="361.0" r="2.3" fill="url(#plump)"/><circle cx="312.0" cy="365.1" r="1.5" fill="url(#plump)"/><circle cx="310.9" cy="363.0" r="2.5" fill="url(#plump)"/><circle cx="307.4" cy="364.0" r="1.7" fill="url(#plump)"/><circle cx="308.5" cy="359.8" r="1.9" fill="url(#plump)"/><circle cx="306.9" cy="362.4" r="1.5" fill="url(#plump)"/><circle cx="309.6" cy="359.6" r="2.0" fill="url(#plump)"/><polygon points="334.5,328.9 331.6,329.4 330.2,328.6 329.1,326.2 328.7,323.4 332.0,320.4 333.4,320.0 335.6,322.2 337.5,324.6" fill="#c46a9a" stroke="#b05a8a" stroke-width="0.5" stroke-linejoin="round"/><circle cx="329.3" cy="323.5" r="1.1" fill="url(#plump)"/><circle cx="334.3" cy="323.0" r="2.0" fill="url(#plump)"/><circle cx="329.7" cy="326.8" r="0.8" fill="url(#plump)"/><circle cx="334.8" cy="326.5" r="1.8" fill="url(#plump)"/><circle cx="331.6" cy="327.0" r="2.3" fill="url(#plump)"/><circle cx="333.0" cy="322.6" r="1.7" fill="url(#plump)"/><polygon points="344.5,331.3 342.0,334.3 340.0,337.1 336.8,336.1 335.5,333.9 334.6,329.2 335.3,328.0 338.6,327.7 341.8,327.5" fill="#c46a9a" stroke="#b05a8a" stroke-width="0.5" stroke-linejoin="round"/><circle cx="337.2" cy="330.3" r="2.2" fill="url(#plump)"/><circle cx="340.5" cy="330.6" r="2.5" fill="url(#plump)"/><circle cx="339.7" cy="328.3" r="1.3" fill="url(#plump)"/><circle cx="338.5" cy="329.9" r="2.6" fill="url(#plump)"/><circle cx="338.5" cy="332.9" r="2.5" fill="url(#plump)"/><circle cx="338.6" cy="331.5" r="2.5" fill="url(#plump)"/><polygon points="363.9,329.7 365.6,328.1 368.7,326.0 371.1,328.6 372.5,329.9 372.2,335.0 370.0,336.7 366.7,337.3 363.2,333.8" fill="#c46a9a" stroke="#b05a8a" stroke-width="0.5" stroke-linejoin="round"/><circle cx="368.6" cy="328.7" r="2.0" fill="url(#plump)"/><circle cx="366.8" cy="335.2" r="1.9" fill="url(#plump)"/><circle cx="366.1" cy="335.8" r="1.2" fill="url(#plump)"/><circle cx="371.8" cy="331.4" r="1.2" fill="url(#plump)"/><circle cx="364.8" cy="330.9" r="1.7" fill="url(#plump)"/><circle cx="372.2" cy="330.6" r="0.9" fill="url(#plump)"/><circle cx="366.7" cy="333.1" r="1.6" fill="url(#plump)"/><polygon points="386.0,314.8 388.4,314.6 390.2,316.0 392.3,318.1 391.8,322.1 389.3,322.9 385.4,322.6 384.4,320.1 385.2,317.6" fill="#c46a9a" stroke="#b05a8a" stroke-width="0.5" stroke-linejoin="round"/><circle cx="385.8" cy="318.0" r="1.4" fill="url(#plump)"/><circle cx="389.2" cy="322.6" r="0.9" fill="url(#plump)"/><circle cx="387.5" cy="320.6" r="2.1" fill="url(#plump)"/><circle cx="391.5" cy="321.0" r="1.0" fill="url(#plump)"/><circle cx="386.6" cy="319.3" r="1.8" fill="url(#plump)"/><circle cx="390.8" cy="318.9" r="2.0" fill="url(#plump)"/></g>
<polygon points="65.5,78.2 61.4,79.6 58.0,85.0 55.9,91.9 55.3,98.7 58.0,104.2 61.4,109.7 62.1,113.8 65.5,117.9 69.6,119.2 73.7,118.6 78.5,117.9 81.3,113.8 84.7,111.0 87.4,106.9 88.5,101.5 88.8,96.0 86.0,90.5 84.0,85.0 82.6,80.3 79.2,79.6 73.7,80.9 69.6,78.9" fill="#747cc8" stroke="#5860ae" stroke-width="0.8" stroke-linejoin="round"/>
<g><circle cx="82.6" cy="85.4" r="2.3" fill="url(#lump)"/><circle cx="66.1" cy="108.6" r="2.8" fill="url(#lump)"/><circle cx="75.9" cy="114.4" r="4.1" fill="url(#lump)"/><circle cx="75.5" cy="103.2" r="3.0" fill="url(#lump)"/><circle cx="75.5" cy="106.0" r="4.0" fill="url(#lump)"/><circle cx="76.8" cy="112.0" r="3.7" fill="url(#lump)"/><circle cx="72.1" cy="107.3" r="4.0" fill="url(#lump)"/><circle cx="59.5" cy="97.0" r="3.8" fill="url(#lump)"/><circle cx="73.2" cy="91.2" r="4.0" fill="url(#lump)"/><circle cx="85.7" cy="96.9" r="3.0" fill="url(#lump)"/><circle cx="80.1" cy="99.8" r="4.5" fill="url(#lump)"/><circle cx="71.7" cy="82.4" r="2.8" fill="url(#lump)"/><circle cx="83.7" cy="97.0" r="3.5" fill="url(#lump)"/><circle cx="64.3" cy="90.8" r="3.9" fill="url(#lump)"/><circle cx="75.4" cy="102.7" r="3.2" fill="url(#lump)"/><circle cx="65.9" cy="97.1" r="4.6" fill="url(#lump)"/><circle cx="66.0" cy="78.8" r="1.4" fill="url(#lump)"/><circle cx="80.0" cy="86.0" r="4.0" fill="url(#lump)"/><circle cx="63.0" cy="107.1" r="3.7" fill="url(#lump)"/><circle cx="71.6" cy="85.1" r="3.1" fill="url(#lump)"/><circle cx="66.0" cy="80.7" r="2.8" fill="url(#lump)"/><circle cx="66.0" cy="92.9" r="4.3" fill="url(#lump)"/><circle cx="75.4" cy="98.1" r="3.6" fill="url(#lump)"/><circle cx="75.5" cy="107.9" r="2.8" fill="url(#lump)"/><circle cx="73.2" cy="105.7" r="4.4" fill="url(#lump)"/><circle cx="75.9" cy="112.3" r="2.8" fill="url(#lump)"/><circle cx="70.4" cy="89.0" r="4.5" fill="url(#lump)"/><circle cx="65.7" cy="96.6" r="3.4" fill="url(#lump)"/><circle cx="65.6" cy="111.1" r="2.9" fill="url(#lump)"/><circle cx="77.8" cy="106.3" r="2.7" fill="url(#lump)"/><circle cx="77.5" cy="99.4" r="3.3" fill="url(#lump)"/><circle cx="69.3" cy="111.9" r="3.0" fill="url(#lump)"/><circle cx="67.8" cy="84.6" r="3.8" fill="url(#lump)"/><circle cx="78.1" cy="115.5" r="2.6" fill="url(#lump)"/><circle cx="63.3" cy="109.0" r="2.9" fill="url(#lump)"/><circle cx="81.8" cy="106.8" r="3.4" fill="url(#lump)"/><circle cx="81.6" cy="96.4" r="3.5" fill="url(#lump)"/><circle cx="87.1" cy="104.0" r="1.8" fill="url(#lump)"/><circle cx="61.4" cy="102.6" r="4.3" fill="url(#lump)"/><circle cx="80.7" cy="94.5" r="2.8" fill="url(#lump)"/><circle cx="61.5" cy="101.8" r="3.8" fill="url(#lump)"/><circle cx="71.8" cy="92.9" r="4.6" fill="url(#lump)"/><circle cx="60.2" cy="98.1" r="3.1" fill="url(#lump)"/><circle cx="72.3" cy="95.8" r="3.1" fill="url(#lump)"/><circle cx="67.7" cy="83.3" r="2.7" fill="url(#lump)"/><circle cx="65.6" cy="104.2" r="2.6" fill="url(#lump)"/><circle cx="76.0" cy="101.0" r="3.8" fill="url(#lump)"/><circle cx="64.3" cy="88.9" r="4.4" fill="url(#lump)"/><circle cx="75.9" cy="105.7" r="3.4" fill="url(#lump)"/><circle cx="79.8" cy="102.2" r="2.7" fill="url(#lump)"/><circle cx="68.4" cy="116.6" r="3.0" fill="url(#lump)"/><circle cx="67.4" cy="84.4" r="3.6" fill="url(#lump)"/><circle cx="74.5" cy="98.1" r="2.9" fill="url(#lump)"/><circle cx="82.3" cy="93.3" r="3.0" fill="url(#lump)"/><circle cx="65.0" cy="89.6" r="4.1" fill="url(#lump)"/><circle cx="83.0" cy="91.9" r="4.0" fill="url(#lump)"/><circle cx="66.7" cy="97.3" r="4.5" fill="url(#lump)"/><circle cx="78.1" cy="96.0" r="3.4" fill="url(#lump)"/><circle cx="86.3" cy="98.7" r="3.2" fill="url(#lump)"/><circle cx="67.6" cy="115.7" r="3.0" fill="url(#lump)"/><circle cx="77.9" cy="80.9" r="1.8" fill="url(#lump)"/><circle cx="65.6" cy="105.2" r="3.9" fill="url(#lump)"/><circle cx="76.1" cy="110.6" r="3.3" fill="url(#lump)"/><circle cx="82.4" cy="83.9" r="2.2" fill="url(#lump)"/><circle cx="67.8" cy="116.3" r="2.9" fill="url(#lump)"/><circle cx="66.2" cy="100.2" r="2.8" fill="url(#lump)"/><circle cx="59.6" cy="99.8" r="2.9" fill="url(#lump)"/><circle cx="65.4" cy="80.1" r="2.7" fill="url(#lump)"/><circle cx="77.6" cy="87.5" r="3.9" fill="url(#lump)"/><circle cx="85.9" cy="104.8" r="2.8" fill="url(#lump)"/><circle cx="82.5" cy="110.5" r="2.7" fill="url(#lump)"/><circle cx="68.5" cy="106.4" r="4.1" fill="url(#lump)"/><circle cx="61.9" cy="92.2" r="3.3" fill="url(#lump)"/><circle cx="75.3" cy="100.3" r="2.8" fill="url(#lump)"/><circle cx="81.7" cy="105.5" r="3.5" fill="url(#lump)"/><circle cx="66.7" cy="102.5" r="3.6" fill="url(#lump)"/><circle cx="81.4" cy="99.9" r="4.3" fill="url(#lump)"/><circle cx="73.7" cy="107.3" r="3.3" fill="url(#lump)"/><circle cx="68.4" cy="85.9" r="3.2" fill="url(#lump)"/><circle cx="74.5" cy="90.3" r="2.9" fill="url(#lump)"/><circle cx="66.0" cy="116.6" r="2.1" fill="url(#lump)"/><circle cx="67.7" cy="80.9" r="2.9" fill="url(#lump)"/><circle cx="70.9" cy="93.1" r="3.0" fill="url(#lump)"/><circle cx="61.7" cy="100.5" r="3.1" fill="url(#lump)"/><circle cx="86.7" cy="104.5" r="2.1" fill="url(#lump)"/><circle cx="69.8" cy="81.0" r="2.7" fill="url(#lump)"/><circle cx="75.9" cy="109.5" r="4.0" fill="url(#lump)"/><circle cx="81.0" cy="96.6" r="4.0" fill="url(#lump)"/><circle cx="85.4" cy="98.5" r="3.7" fill="url(#lump)"/><circle cx="56.3" cy="94.3" r="1.5" fill="url(#lump)"/><circle cx="65.4" cy="103.9" r="3.4" fill="url(#lump)"/><circle cx="58.9" cy="85.8" r="2.0" fill="url(#lump)"/><circle cx="57.0" cy="90.4" r="1.6" fill="url(#lump)"/><circle cx="66.3" cy="87.4" r="3.4" fill="url(#lump)"/><circle cx="75.6" cy="105.3" r="3.3" fill="url(#lump)"/></g>
<polygon points="112.4,81.3 114.6,78.7 117.2,78.3 119.4,81.3 122.4,82.2 125.9,81.3 129.4,80.5 131.6,81.8 131.1,84.8 134.2,86.6 136.8,88.7 137.2,92.7 135.9,96.1 133.8,98.3 130.3,99.6 127.7,98.8 124.2,97.9 121.1,97.0 119.8,94.4 120.3,91.4 118.1,90.9 115.5,90.9 114.6,89.6 116.3,88.3 113.7,87.4 112.0,84.8" fill="#747cc8" stroke="#5860ae" stroke-width="0.8" stroke-linejoin="round"/>
<g><circle cx="122.9" cy="90.2" r="3.1" fill="url(#lump)"/><circle cx="126.0" cy="84.9" r="4.2" fill="url(#lump)"/><circle cx="122.9" cy="86.5" r="4.1" fill="url(#lump)"/><circle cx="119.3" cy="90.4" r="1.6" fill="url(#lump)"/><circle cx="120.4" cy="93.9" r="1.4" fill="url(#lump)"/><circle cx="130.4" cy="86.6" r="2.8" fill="url(#lump)"/><circle cx="122.5" cy="90.1" r="3.5" fill="url(#lump)"/><circle cx="128.3" cy="87.7" r="3.8" fill="url(#lump)"/><circle cx="127.0" cy="91.1" r="3.0" fill="url(#lump)"/><circle cx="122.1" cy="84.9" r="3.4" fill="url(#lump)"/><circle cx="126.5" cy="82.7" r="2.4" fill="url(#lump)"/><circle cx="117.0" cy="84.4" r="4.1" fill="url(#lump)"/><circle cx="116.4" cy="79.7" r="2.2" fill="url(#lump)"/><circle cx="120.3" cy="86.9" r="3.3" fill="url(#lump)"/><circle cx="129.8" cy="83.8" r="2.4" fill="url(#lump)"/><circle cx="123.8" cy="95.9" r="2.7" fill="url(#lump)"/><circle cx="133.2" cy="95.3" r="3.4" fill="url(#lump)"/><circle cx="115.9" cy="86.9" r="2.1" fill="url(#lump)"/><circle cx="125.2" cy="86.9" r="4.4" fill="url(#lump)"/><circle cx="114.0" cy="85.2" r="2.4" fill="url(#lump)"/><circle cx="121.9" cy="94.0" r="2.9" fill="url(#lump)"/><circle cx="129.3" cy="81.3" r="1.6" fill="url(#lump)"/><circle cx="114.7" cy="84.3" r="3.4" fill="url(#lump)"/><circle cx="121.6" cy="84.8" r="3.6" fill="url(#lump)"/><circle cx="120.9" cy="90.3" r="2.1" fill="url(#lump)"/><circle cx="130.2" cy="84.9" r="1.8" fill="url(#lump)"/><circle cx="125.0" cy="82.5" r="1.9" fill="url(#lump)"/><circle cx="115.1" cy="81.3" r="2.9" fill="url(#lump)"/><circle cx="112.9" cy="83.1" r="1.6" fill="url(#lump)"/><circle cx="124.5" cy="96.4" r="2.4" fill="url(#lump)"/><circle cx="134.5" cy="91.5" r="3.4" fill="url(#lump)"/><circle cx="114.9" cy="84.5" r="3.5" fill="url(#lump)"/><circle cx="132.6" cy="87.0" r="2.1" fill="url(#lump)"/><circle cx="121.9" cy="90.5" r="2.7" fill="url(#lump)"/><circle cx="129.6" cy="86.4" r="3.1" fill="url(#lump)"/><circle cx="130.3" cy="97.8" r="2.6" fill="url(#lump)"/><circle cx="125.5" cy="93.4" r="4.0" fill="url(#lump)"/></g>
<polygon points="191.7,30.7 194.0,27.3 197.3,25.1 201.8,23.4 206.3,24.5 210.8,24.5 214.1,26.8 216.4,30.1 218.6,31.8 219.2,35.7 217.5,39.6 220.8,41.9 222.0,44.7 220.8,48.0 217.5,50.8 213.0,51.4 209.1,49.7 208.0,46.4 206.8,43.6 204.0,43.0 201.8,44.1 199.0,43.6 198.4,40.8 195.6,38.5 192.8,36.3 191.7,33.5" fill="#747cc8" stroke="#5860ae" stroke-width="0.8" stroke-linejoin="round"/>
<g><circle cx="211.5" cy="26.8" r="2.4" fill="url(#lump)"/><circle cx="198.6" cy="25.7" r="1.9" fill="url(#lump)"/><circle cx="218.5" cy="47.5" r="2.8" fill="url(#lump)"/><circle cx="205.1" cy="27.1" r="3.7" fill="url(#lump)"/><circle cx="203.8" cy="38.8" r="4.1" fill="url(#lump)"/><circle cx="198.0" cy="39.1" r="1.9" fill="url(#lump)"/><circle cx="206.1" cy="36.0" r="3.5" fill="url(#lump)"/><circle cx="202.2" cy="27.5" r="4.5" fill="url(#lump)"/><circle cx="201.0" cy="39.7" r="3.0" fill="url(#lump)"/><circle cx="217.0" cy="40.2" r="1.7" fill="url(#lump)"/><circle cx="217.7" cy="50.1" r="1.3" fill="url(#lump)"/><circle cx="217.6" cy="35.1" r="2.4" fill="url(#lump)"/><circle cx="205.4" cy="33.9" r="4.0" fill="url(#lump)"/><circle cx="211.4" cy="26.7" r="2.4" fill="url(#lump)"/><circle cx="214.0" cy="38.4" r="4.3" fill="url(#lump)"/><circle cx="200.1" cy="41.0" r="2.5" fill="url(#lump)"/><circle cx="208.2" cy="34.7" r="4.2" fill="url(#lump)"/><circle cx="214.5" cy="42.6" r="3.5" fill="url(#lump)"/><circle cx="214.4" cy="35.9" r="2.6" fill="url(#lump)"/><circle cx="203.9" cy="39.4" r="3.3" fill="url(#lump)"/><circle cx="203.6" cy="26.7" r="2.7" fill="url(#lump)"/><circle cx="209.7" cy="29.4" r="3.4" fill="url(#lump)"/><circle cx="212.9" cy="31.4" r="3.7" fill="url(#lump)"/><circle cx="194.1" cy="34.7" r="2.7" fill="url(#lump)"/><circle cx="218.6" cy="48.0" r="2.4" fill="url(#lump)"/><circle cx="211.7" cy="42.4" r="2.7" fill="url(#lump)"/><circle cx="202.7" cy="28.3" r="4.5" fill="url(#lump)"/><circle cx="205.7" cy="41.6" r="2.6" fill="url(#lump)"/><circle cx="218.4" cy="32.6" r="1.2" fill="url(#lump)"/><circle cx="216.8" cy="42.2" r="2.8" fill="url(#lump)"/><circle cx="206.8" cy="29.3" r="3.2" fill="url(#lump)"/><circle cx="215.7" cy="42.6" r="2.7" fill="url(#lump)"/><circle cx="201.1" cy="33.4" r="3.1" fill="url(#lump)"/><circle cx="212.1" cy="38.0" r="3.4" fill="url(#lump)"/><circle cx="209.3" cy="42.8" r="3.5" fill="url(#lump)"/><circle cx="211.9" cy="29.9" r="4.5" fill="url(#lump)"/><circle cx="210.3" cy="34.2" r="4.0" fill="url(#lump)"/><circle cx="197.5" cy="28.0" r="3.3" fill="url(#lump)"/><circle cx="211.0" cy="28.2" r="3.8" fill="url(#lump)"/><circle cx="216.4" cy="37.5" r="2.7" fill="url(#lump)"/><circle cx="208.7" cy="38.4" r="2.7" fill="url(#lump)"/><circle cx="194.8" cy="35.1" r="3.0" fill="url(#lump)"/><circle cx="199.1" cy="33.1" r="3.0" fill="url(#lump)"/><circle cx="210.9" cy="36.1" r="3.5" fill="url(#lump)"/><circle cx="211.8" cy="40.8" r="2.8" fill="url(#lump)"/><circle cx="209.1" cy="47.7" r="1.6" fill="url(#lump)"/><circle cx="202.9" cy="27.8" r="3.6" fill="url(#lump)"/><circle cx="196.3" cy="29.5" r="3.4" fill="url(#lump)"/><circle cx="213.6" cy="32.6" r="3.3" fill="url(#lump)"/><circle cx="206.8" cy="25.0" r="1.4" fill="url(#lump)"/><circle cx="220.7" cy="43.8" r="1.7" fill="url(#lump)"/><circle cx="210.3" cy="37.0" r="4.2" fill="url(#lump)"/><circle cx="213.3" cy="32.4" r="3.5" fill="url(#lump)"/><circle cx="211.3" cy="41.2" r="3.0" fill="url(#lump)"/><circle cx="208.2" cy="38.3" r="2.8" fill="url(#lump)"/><circle cx="207.8" cy="41.3" r="3.2" fill="url(#lump)"/><circle cx="213.7" cy="43.4" r="3.7" fill="url(#lump)"/><circle cx="220.6" cy="47.2" r="1.4" fill="url(#lump)"/><circle cx="218.5" cy="35.2" r="1.5" fill="url(#lump)"/></g>
<polygon points="297.3,16.2 300.1,13.4 304.6,12.8 309.0,11.2 313.5,10.0 316.9,11.2 320.2,13.4 323.6,15.1 325.8,17.3 327.5,20.7 328.1,25.2 326.4,28.5 324.7,31.9 325.3,36.4 323.6,39.7 319.1,41.4 314.6,40.8 311.3,42.0 306.8,40.8 304.6,37.5 301.2,35.2 297.8,31.9 296.2,27.4 296.7,22.9 297.8,19.6" fill="#747cc8" stroke="#5860ae" stroke-width="0.8" stroke-linejoin="round"/>
<g><circle cx="316.1" cy="18.0" r="2.8" fill="url(#lump)"/><circle cx="324.9" cy="21.1" r="2.8" fill="url(#lump)"/><circle cx="309.0" cy="38.0" r="3.1" fill="url(#lump)"/><circle cx="307.0" cy="16.6" r="2.6" fill="url(#lump)"/><circle cx="305.0" cy="18.9" r="3.6" fill="url(#lump)"/><circle cx="305.4" cy="34.2" r="3.1" fill="url(#lump)"/><circle cx="322.4" cy="22.2" r="3.5" fill="url(#lump)"/><circle cx="304.2" cy="18.0" r="4.0" fill="url(#lump)"/><circle cx="312.0" cy="41.3" r="1.3" fill="url(#lump)"/><circle cx="321.1" cy="24.8" r="2.6" fill="url(#lump)"/><circle cx="304.9" cy="16.4" r="2.9" fill="url(#lump)"/><circle cx="322.9" cy="36.3" r="3.0" fill="url(#lump)"/><circle cx="300.3" cy="33.4" r="1.5" fill="url(#lump)"/><circle cx="311.5" cy="39.2" r="3.3" fill="url(#lump)"/><circle cx="307.3" cy="24.4" r="4.1" fill="url(#lump)"/><circle cx="307.8" cy="37.9" r="3.3" fill="url(#lump)"/><circle cx="312.7" cy="29.5" r="3.3" fill="url(#lump)"/><circle cx="319.3" cy="33.3" r="3.9" fill="url(#lump)"/><circle cx="313.1" cy="32.1" r="3.4" fill="url(#lump)"/><circle cx="313.5" cy="19.6" r="3.3" fill="url(#lump)"/><circle cx="310.8" cy="21.0" r="4.4" fill="url(#lump)"/><circle cx="323.2" cy="34.0" r="2.7" fill="url(#lump)"/><circle cx="307.9" cy="20.9" r="3.3" fill="url(#lump)"/><circle cx="317.3" cy="19.8" r="2.7" fill="url(#lump)"/><circle cx="299.1" cy="26.7" r="3.7" fill="url(#lump)"/><circle cx="320.9" cy="22.0" r="3.7" fill="url(#lump)"/><circle cx="298.5" cy="17.8" r="1.8" fill="url(#lump)"/><circle cx="320.4" cy="40.0" r="1.8" fill="url(#lump)"/><circle cx="315.0" cy="36.7" r="3.4" fill="url(#lump)"/><circle cx="310.0" cy="23.5" r="3.2" fill="url(#lump)"/><circle cx="307.8" cy="36.7" r="2.9" fill="url(#lump)"/><circle cx="316.4" cy="32.0" r="4.2" fill="url(#lump)"/><circle cx="299.1" cy="28.9" r="3.1" fill="url(#lump)"/><circle cx="309.4" cy="25.0" r="3.9" fill="url(#lump)"/><circle cx="307.2" cy="37.6" r="3.0" fill="url(#lump)"/><circle cx="320.4" cy="35.1" r="4.1" fill="url(#lump)"/><circle cx="321.6" cy="39.3" r="2.0" fill="url(#lump)"/><circle cx="305.2" cy="31.4" r="3.3" fill="url(#lump)"/><circle cx="312.5" cy="18.6" r="3.4" fill="url(#lump)"/><circle cx="308.0" cy="13.2" r="2.5" fill="url(#lump)"/><circle cx="310.4" cy="24.3" r="3.2" fill="url(#lump)"/><circle cx="299.8" cy="27.2" r="2.9" fill="url(#lump)"/><circle cx="308.8" cy="22.2" r="4.6" fill="url(#lump)"/><circle cx="308.5" cy="22.9" r="3.4" fill="url(#lump)"/><circle cx="326.0" cy="27.2" r="1.9" fill="url(#lump)"/><circle cx="315.7" cy="28.1" r="2.6" fill="url(#lump)"/><circle cx="322.8" cy="36.6" r="3.1" fill="url(#lump)"/><circle cx="320.4" cy="37.4" r="3.9" fill="url(#lump)"/><circle cx="312.6" cy="38.7" r="3.5" fill="url(#lump)"/><circle cx="297.5" cy="23.9" r="1.8" fill="url(#lump)"/><circle cx="313.7" cy="36.4" r="2.7" fill="url(#lump)"/><circle cx="321.7" cy="27.8" r="3.6" fill="url(#lump)"/><circle cx="321.2" cy="23.7" r="3.5" fill="url(#lump)"/><circle cx="306.2" cy="26.9" r="2.7" fill="url(#lump)"/><circle cx="313.3" cy="23.7" r="3.2" fill="url(#lump)"/><circle cx="313.2" cy="35.4" r="4.0" fill="url(#lump)"/><circle cx="296.7" cy="26.3" r="1.3" fill="url(#lump)"/><circle cx="300.6" cy="27.0" r="3.7" fill="url(#lump)"/><circle cx="309.0" cy="15.5" r="4.0" fill="url(#lump)"/><circle cx="318.0" cy="21.2" r="3.5" fill="url(#lump)"/><circle cx="312.9" cy="13.0" r="3.6" fill="url(#lump)"/><circle cx="318.5" cy="30.5" r="4.3" fill="url(#lump)"/><circle cx="313.8" cy="32.9" r="4.2" fill="url(#lump)"/><circle cx="323.3" cy="37.8" r="2.0" fill="url(#lump)"/><circle cx="311.2" cy="19.1" r="3.3" fill="url(#lump)"/><circle cx="314.6" cy="18.9" r="4.5" fill="url(#lump)"/><circle cx="313.9" cy="21.4" r="3.7" fill="url(#lump)"/><circle cx="311.7" cy="15.5" r="3.7" fill="url(#lump)"/><circle cx="302.7" cy="33.9" r="2.8" fill="url(#lump)"/></g>
<polygon points="310.6,111.8 313.4,107.9 317.4,105.1 321.8,104.5 325.2,106.2 326.9,109.0 326.3,111.8 324.1,114.6 326.9,116.3 327.4,119.1 331.4,119.6 335.3,121.3 336.4,124.1 334.7,126.9 331.4,128.0 326.9,128.0 325.2,129.7 323.0,132.0 318.5,132.5 314.6,130.8 312.3,127.5 311.2,123.6 310.1,119.6 309.5,115.7" fill="#747cc8" stroke="#5860ae" stroke-width="0.8" stroke-linejoin="round"/>
<g><circle cx="316.2" cy="111.6" r="3.4" fill="url(#lump)"/><circle cx="316.8" cy="106.1" r="1.4" fill="url(#lump)"/><circle cx="318.7" cy="119.1" r="4.0" fill="url(#lump)"/><circle cx="316.0" cy="126.2" r="3.6" fill="url(#lump)"/><circle cx="316.7" cy="112.2" r="2.7" fill="url(#lump)"/><circle cx="321.2" cy="106.7" r="3.0" fill="url(#lump)"/><circle cx="318.3" cy="110.3" r="3.7" fill="url(#lump)"/><circle cx="320.4" cy="114.0" r="2.6" fill="url(#lump)"/><circle cx="318.4" cy="109.9" r="4.3" fill="url(#lump)"/><circle cx="319.0" cy="119.7" r="2.6" fill="url(#lump)"/><circle cx="322.8" cy="122.8" r="4.4" fill="url(#lump)"/><circle cx="334.0" cy="121.3" r="1.4" fill="url(#lump)"/><circle cx="315.2" cy="112.0" r="2.8" fill="url(#lump)"/><circle cx="323.8" cy="127.7" r="3.3" fill="url(#lump)"/><circle cx="326.6" cy="125.4" r="2.7" fill="url(#lump)"/><circle cx="328.2" cy="121.5" r="3.2" fill="url(#lump)"/><circle cx="320.4" cy="131.5" r="1.6" fill="url(#lump)"/><circle cx="312.1" cy="115.3" r="3.1" fill="url(#lump)"/><circle cx="313.0" cy="112.7" r="2.6" fill="url(#lump)"/><circle cx="333.0" cy="125.8" r="2.5" fill="url(#lump)"/><circle cx="323.6" cy="109.6" r="4.0" fill="url(#lump)"/><circle cx="316.2" cy="115.3" r="3.3" fill="url(#lump)"/><circle cx="317.6" cy="113.5" r="3.8" fill="url(#lump)"/><circle cx="322.0" cy="110.7" r="4.2" fill="url(#lump)"/><circle cx="324.9" cy="127.0" r="3.0" fill="url(#lump)"/><circle cx="319.0" cy="131.6" r="1.7" fill="url(#lump)"/><circle cx="324.8" cy="121.3" r="3.9" fill="url(#lump)"/><circle cx="313.9" cy="111.1" r="3.1" fill="url(#lump)"/><circle cx="326.0" cy="121.4" r="2.9" fill="url(#lump)"/><circle cx="315.3" cy="113.5" r="3.3" fill="url(#lump)"/><circle cx="315.5" cy="110.5" r="2.9" fill="url(#lump)"/><circle cx="324.2" cy="108.6" r="3.0" fill="url(#lump)"/><circle cx="325.1" cy="118.8" r="3.1" fill="url(#lump)"/><circle cx="313.8" cy="126.2" r="2.7" fill="url(#lump)"/><circle cx="317.7" cy="126.0" r="3.5" fill="url(#lump)"/><circle cx="318.9" cy="114.5" r="4.5" fill="url(#lump)"/><circle cx="326.9" cy="119.2" r="1.4" fill="url(#lump)"/><circle cx="334.8" cy="124.8" r="1.9" fill="url(#lump)"/><circle cx="326.1" cy="118.9" r="2.1" fill="url(#lump)"/><circle cx="317.8" cy="116.7" r="4.1" fill="url(#lump)"/><circle cx="328.9" cy="127.3" r="1.6" fill="url(#lump)"/><circle cx="312.6" cy="115.6" r="3.8" fill="url(#lump)"/><circle cx="319.7" cy="127.8" r="2.7" fill="url(#lump)"/><circle cx="313.7" cy="118.4" r="3.9" fill="url(#lump)"/><circle cx="318.2" cy="121.2" r="2.7" fill="url(#lump)"/><circle cx="317.8" cy="131.7" r="1.3" fill="url(#lump)"/><circle cx="329.5" cy="125.8" r="3.1" fill="url(#lump)"/><circle cx="315.2" cy="112.8" r="4.3" fill="url(#lump)"/><circle cx="326.7" cy="117.1" r="1.3" fill="url(#lump)"/><circle cx="317.0" cy="125.0" r="3.2" fill="url(#lump)"/><circle cx="313.9" cy="126.2" r="2.8" fill="url(#lump)"/><circle cx="313.4" cy="119.7" r="3.6" fill="url(#lump)"/><circle cx="324.2" cy="112.8" r="1.9" fill="url(#lump)"/></g>
<g fill="none" stroke="#e6b13a" stroke-width="1.4"><circle cx="124.6" cy="86.7" r="2.1"/><circle cx="306.2" cy="20.1" r="2.1"/></g>
<rect x="367.1" y="391.8" width="55.3" height="4.5" fill="#fff"/>
<text x="2" y="16.3" style="font-size:16.5px;fill:#fff;stroke:#fff;stroke-width:0.35px">a</text>
</g>
<!-- panel b frame -->
<rect x="433.5" y="0.5" width="251" height="209" fill="none" stroke="#000" stroke-width="1"/>
<g id="panb">
<polygon points="450.9,57.9 526.1,3.3 527.2,90.4 455.4,150.6" fill="#f9f9f9"/>
<polygon points="526.1,3.3 646.7,32.9 644,123.5 527.2,90.4" fill="#f2f2f2"/>
<polygon points="455.4,150.6 527.2,90.4 644,123.5 578.3,189.7" fill="#f5f5f5"/>
<line x1="455.4" y1="150.6" x2="578.3" y2="189.7" stroke="#333" stroke-width="0.8"/>
<line x1="578.3" y1="189.7" x2="644" y2="123.5" stroke="#333" stroke-width="0.8"/>
<line x1="647.6" y1="33.6" x2="644" y2="123.5" stroke="#333" stroke-width="0.8"/>
<line x1="456.6" y1="150.1" x2="456.0" y2="152.5" stroke="#333" stroke-width="0.6"/>
<text x="453.7" y="164.8" text-anchor="middle" class="tb">−2000</text>
<line x1="471.0" y1="154.7" x2="470.4" y2="157.1" stroke="#333" stroke-width="0.6"/>
<text x="467.9" y="169.5" text-anchor="middle" class="tb">−1500</text>
<line x1="485.4" y1="159.2" x2="484.8" y2="161.6" stroke="#333" stroke-width="0.6"/>
<text x="481.9" y="174.4" text-anchor="middle" class="tb">−1000</text>
<line x1="499.7" y1="163.8" x2="499.1" y2="166.2" stroke="#333" stroke-width="0.6"/>
<text x="496" y="179.0" text-anchor="middle" class="tb">−500</text>
<line x1="514.1" y1="168.3" x2="513.5" y2="170.7" stroke="#333" stroke-width="0.6"/>
<text x="510.5" y="183.8" text-anchor="middle" class="tb">0</text>
<line x1="528.5" y1="172.8" x2="527.9" y2="175.2" stroke="#333" stroke-width="0.6"/>
<text x="524.4" y="188.9" text-anchor="middle" class="tb">500</text>
<line x1="542.9" y1="177.4" x2="542.2" y2="179.8" stroke="#333" stroke-width="0.6"/>
<text x="539.5" y="193.5" text-anchor="middle" class="tb">1000</text>
<line x1="557.2" y1="181.9" x2="556.6" y2="184.3" stroke="#333" stroke-width="0.6"/>
<text x="553.8" y="198.60000000000002" text-anchor="middle" class="tb">1500</text>
<line x1="571.6" y1="186.5" x2="571.0" y2="188.9" stroke="#333" stroke-width="0.6"/>
<text x="568.7" y="204.10000000000002" text-anchor="middle" class="tb">2000</text>
<text transform="translate(505.6,192.1) rotate(20)" text-anchor="middle" class="tb" style="font-size:6.3px">X Coordinate</text>
<line x1="578.7" y1="188.5" x2="580.7" y2="189.5" stroke="#333" stroke-width="0.6"/>
<text x="594.7" y="192.60000000000002" text-anchor="middle" class="tb">−1500</text>
<line x1="586.8" y1="181.1" x2="588.8" y2="182.1" stroke="#333" stroke-width="0.6"/>
<text x="602.5" y="184.10000000000002" text-anchor="middle" class="tb">−1000</text>
<line x1="595.6" y1="172.2" x2="597.6" y2="173.2" stroke="#333" stroke-width="0.6"/>
<text x="612.3" y="175.3" text-anchor="middle" class="tb">−500</text>
<line x1="604.3" y1="163.2" x2="606.3" y2="164.2" stroke="#333" stroke-width="0.6"/>
<text x="620.6" y="166.10000000000002" text-anchor="middle" class="tb">0</text>
<line x1="613.1" y1="154.2" x2="615.1" y2="155.2" stroke="#333" stroke-width="0.6"/>
<text x="628.9" y="157.60000000000002" text-anchor="middle" class="tb">500</text>
<line x1="621.8" y1="145.3" x2="623.8" y2="146.3" stroke="#333" stroke-width="0.6"/>
<text x="636.5" y="148.9" text-anchor="middle" class="tb">1000</text>
<line x1="630.6" y1="136.3" x2="632.6" y2="137.3" stroke="#333" stroke-width="0.6"/>
<text x="645.3" y="140.60000000000002" text-anchor="middle" class="tb">1500</text>
<text transform="translate(631.6,171.6) rotate(-45)" text-anchor="middle" class="tb" style="font-size:6.3px">Y Coordinate</text>
<line x1="646.5" y1="37.3" x2="649.0" y2="37.3" stroke="#333" stroke-width="0.6"/>
<text x="658" y="39.7" text-anchor="middle" class="tb">300</text>
<line x1="646.0" y1="49.4" x2="648.5" y2="49.4" stroke="#333" stroke-width="0.6"/>
<text x="657.5" y="51.8" text-anchor="middle" class="tb">200</text>
<line x1="645.5" y1="61.3" x2="648.0" y2="61.3" stroke="#333" stroke-width="0.6"/>
<text x="657.1" y="63.7" text-anchor="middle" class="tb">100</text>
<line x1="645.0" y1="73.1" x2="647.5" y2="73.1" stroke="#333" stroke-width="0.6"/>
<text x="656.4" y="75.5" text-anchor="middle" class="tb">0</text>
<line x1="644.5" y1="85.0" x2="647.0" y2="85.0" stroke="#333" stroke-width="0.6"/>
<text x="656" y="87.4" text-anchor="middle" class="tb">−100</text>
<line x1="644.1" y1="96.5" x2="646.6" y2="96.5" stroke="#333" stroke-width="0.6"/>
<text x="655.4" y="98.9" text-anchor="middle" class="tb">−200</text>
<line x1="643.6" y1="107.8" x2="646.1" y2="107.8" stroke="#333" stroke-width="0.6"/>
<text x="654.7" y="110.2" text-anchor="middle" class="tb">−300</text>
<line x1="643.2" y1="119.0" x2="645.7" y2="119.0" stroke="#333" stroke-width="0.6"/>
<text x="654" y="121.4" text-anchor="middle" class="tb">−400</text>
<text transform="translate(669.7,76.6) rotate(-90)" text-anchor="middle" class="tb" style="font-size:6.3px">Z Coordinate</text>
</g>
<g id="bdots" stroke="none">
<g fill="#ff9896" fill-opacity="0.8"><circle cx="503.5" cy="142" r="1.45"/><circle cx="506.5" cy="140.5" r="1.45"/><circle cx="507" cy="143.5" r="1.45"/><circle cx="507.5" cy="146.5" r="1.45"/><circle cx="505" cy="141.5" r="1.45"/></g>
<g fill="#c49c94" fill-opacity="0.8"><circle cx="494.5" cy="116" r="1.45"/><circle cx="497.5" cy="115.8" r="1.45"/><circle cx="498" cy="118" r="1.45"/><circle cx="495.5" cy="119.5" r="1.45"/><circle cx="493" cy="121" r="1.45"/><circle cx="492" cy="122.5" r="1.45"/><circle cx="494.5" cy="123.2" r="1.45"/><circle cx="496.5" cy="121" r="1.45"/><circle cx="494.6" cy="116.4" r="1.45"/><circle cx="497.3" cy="115.6" r="1.45"/><circle cx="493.9" cy="121.6" r="1.45"/><circle cx="491.9" cy="121.7" r="1.45"/></g>
<g fill="#ffbb78" fill-opacity="0.8"><circle cx="510.2" cy="80.4" r="1.45"/><circle cx="504.6" cy="127.1" r="1.45"/><circle cx="506.6" cy="125.5" r="1.45"/><circle cx="508.5" cy="126.5" r="1.45"/><circle cx="509.5" cy="124.4" r="1.45"/><circle cx="511.4" cy="125.8" r="1.45"/><circle cx="510.8" cy="121" r="1.45"/><circle cx="512.1" cy="126.7" r="1.45"/><circle cx="515.5" cy="123.7" r="1.45"/><circle cx="519.9" cy="120.7" r="1.45"/><circle cx="521.3" cy="116.2" r="1.45"/><circle cx="520.7" cy="116.3" r="1.45"/><circle cx="520" cy="120.5" r="1.45"/><circle cx="511.6" cy="124.7" r="1.45"/><circle cx="511.4" cy="120.0" r="1.45"/><circle cx="511.2" cy="127.5" r="1.45"/><circle cx="514.5" cy="124.5" r="1.45"/><circle cx="520.7" cy="121.1" r="1.45"/></g>
<g fill="#dbdb8d" fill-opacity="0.8"><circle cx="529.5" cy="111" r="1.45"/><circle cx="531.5" cy="112.5" r="1.45"/><circle cx="535" cy="109" r="1.45"/><circle cx="536.5" cy="107.5" r="1.45"/><circle cx="537" cy="110.5" r="1.45"/><circle cx="535.5" cy="112" r="1.45"/><circle cx="528.5" cy="110" r="1.45"/><circle cx="537.4" cy="106.6" r="1.45"/><circle cx="528.8" cy="110.6" r="1.45"/><circle cx="531.6" cy="113.0" r="1.45"/><circle cx="534.1" cy="108.3" r="1.45"/><circle cx="536.7" cy="108.1" r="1.45"/><circle cx="537.7" cy="110.8" r="1.45"/><circle cx="535.2" cy="112.0" r="1.45"/><circle cx="537.8" cy="106.5" r="1.45"/></g>
<g fill="#d62728" fill-opacity="0.8"><circle cx="555.8" cy="108.9" r="1.45"/><circle cx="558.8" cy="110.4" r="1.45"/><circle cx="561.8" cy="112.6" r="1.45"/><circle cx="562.5" cy="114.1" r="1.45"/><circle cx="564.8" cy="105.1" r="1.45"/><circle cx="564" cy="107.4" r="1.45"/><circle cx="567.8" cy="102.9" r="1.45"/><circle cx="559.6" cy="108.1" r="1.45"/><circle cx="557.3" cy="111.1" r="1.45"/><circle cx="560.5" cy="110.5" r="1.45"/><circle cx="563" cy="109.5" r="1.45"/><circle cx="566" cy="104.5" r="1.45"/><circle cx="562" cy="111" r="1.45"/><circle cx="554.9" cy="109.6" r="1.45"/><circle cx="558.6" cy="109.6" r="1.45"/><circle cx="561.3" cy="113.2" r="1.45"/><circle cx="563.3" cy="113.1" r="1.45"/><circle cx="565.1" cy="104.1" r="1.45"/><circle cx="564.5" cy="107.0" r="1.45"/><circle cx="568.6" cy="104.0" r="1.45"/><circle cx="559.6" cy="109.2" r="1.45"/><circle cx="556.9" cy="110.2" r="1.45"/><circle cx="560.7" cy="109.5" r="1.45"/><circle cx="562.3" cy="109.3" r="1.45"/><circle cx="566.2" cy="103.7" r="1.45"/><circle cx="561.0" cy="111.8" r="1.45"/></g>
<g fill="#f7b6d2" fill-opacity="0.8"><circle cx="564.8" cy="113.2" r="1.45"/><circle cx="568" cy="111" r="1.45"/><circle cx="571" cy="108.4" r="1.45"/><circle cx="573.5" cy="106" r="1.45"/><circle cx="575.5" cy="104.4" r="1.45"/><circle cx="570" cy="112" r="1.45"/><circle cx="566" cy="114" r="1.45"/><circle cx="572" cy="110" r="1.45"/><circle cx="574.5" cy="108" r="1.45"/><circle cx="567.5" cy="113" r="1.45"/><circle cx="564.4" cy="114.2" r="1.45"/><circle cx="568.9" cy="110.7" r="1.45"/><circle cx="570.9" cy="108.4" r="1.45"/><circle cx="573.8" cy="106.2" r="1.45"/><circle cx="575.6" cy="104.7" r="1.45"/><circle cx="571.0" cy="112.0" r="1.45"/><circle cx="565.8" cy="114.5" r="1.45"/><circle cx="571.4" cy="109.6" r="1.45"/><circle cx="575.6" cy="108.0" r="1.45"/><circle cx="567.6" cy="111.9" r="1.45"/></g>
<g fill="#e377c2" fill-opacity="0.8"><circle cx="578.9" cy="77.4" r="1.45"/><circle cx="581" cy="77.4" r="1.45"/><circle cx="583.4" cy="77.4" r="1.45"/><circle cx="587.5" cy="104" r="1.45"/><circle cx="577.5" cy="113.7" r="1.45"/><circle cx="579" cy="113.5" r="1.45"/></g>
<g fill="#c7c7c7" fill-opacity="0.8"><circle cx="584.9" cy="98.3" r="1.45"/><circle cx="586.5" cy="99" r="1.45"/><circle cx="588" cy="99.5" r="1.45"/><circle cx="589.5" cy="99.8" r="1.45"/><circle cx="590.8" cy="99.5" r="1.45"/><circle cx="606.5" cy="94.6" r="1.45"/><circle cx="608.3" cy="94.6" r="1.45"/><circle cx="610.2" cy="94.6" r="1.45"/></g>
<g fill="#9edae5" fill-opacity="0.8"><circle cx="565.5" cy="91.7" r="1.45"/><circle cx="557.3" cy="96.9" r="1.45"/><circle cx="558.8" cy="95.5" r="1.45"/><circle cx="560.3" cy="95" r="1.45"/><circle cx="561.8" cy="94.7" r="1.45"/><circle cx="563.3" cy="94.7" r="1.45"/><circle cx="564.8" cy="94.7" r="1.45"/><circle cx="566.3" cy="94.8" r="1.45"/><circle cx="567.8" cy="95.2" r="1.45"/><circle cx="569.3" cy="95.8" r="1.45"/><circle cx="570.8" cy="96.5" r="1.45"/><circle cx="571.5" cy="97.7" r="1.45"/><circle cx="559" cy="98.3" r="1.45"/><circle cx="560.5" cy="98.5" r="1.45"/><circle cx="562" cy="98.8" r="1.45"/><circle cx="563.5" cy="99.5" r="1.45"/><circle cx="565" cy="99.8" r="1.45"/><circle cx="566.5" cy="99.3" r="1.45"/><circle cx="568" cy="98.8" r="1.45"/><circle cx="569.5" cy="98" r="1.45"/><circle cx="561" cy="97" r="1.45"/><circle cx="564" cy="97" r="1.45"/><circle cx="567" cy="97" r="1.45"/><circle cx="563.7" cy="100.7" r="1.45"/></g>
<g fill="#1f77b4" fill-opacity="0.8"><circle cx="581.1" cy="61" r="1.45"/><circle cx="574.4" cy="87.1" r="1.45"/><circle cx="570.7" cy="90.8" r="1.45"/><circle cx="575.9" cy="90.8" r="1.45"/><circle cx="572.9" cy="93.8" r="1.45"/><circle cx="574.4" cy="89.3" r="1.45"/><circle cx="576.5" cy="89.5" r="1.45"/><circle cx="571.7" cy="92.5" r="1.45"/><circle cx="580.9" cy="61.2" r="1.45"/><circle cx="573.3" cy="87.4" r="1.45"/><circle cx="571.0" cy="89.8" r="1.45"/><circle cx="576.2" cy="90.7" r="1.45"/><circle cx="573.3" cy="93.5" r="1.45"/><circle cx="574.9" cy="89.8" r="1.45"/><circle cx="575.4" cy="88.5" r="1.45"/><circle cx="572.1" cy="93.5" r="1.45"/></g>
<g fill="#bcbd22" fill-opacity="0.8"><circle cx="591.6" cy="78.1" r="1.45"/><circle cx="594" cy="75" r="1.45"/><circle cx="595.5" cy="73.5" r="1.45"/><circle cx="597" cy="76" r="1.45"/><circle cx="598.6" cy="74" r="1.45"/><circle cx="600" cy="72.5" r="1.45"/><circle cx="602.5" cy="74" r="1.45"/><circle cx="593.5" cy="77" r="1.45"/><circle cx="596.5" cy="111.4" r="1.45"/><circle cx="592.0" cy="77.1" r="1.45"/><circle cx="594.6" cy="75.2" r="1.45"/><circle cx="595.1" cy="72.5" r="1.45"/><circle cx="597.8" cy="75.9" r="1.45"/><circle cx="599.1" cy="74.8" r="1.45"/><circle cx="600.5" cy="73.4" r="1.45"/><circle cx="602.3" cy="74.7" r="1.45"/><circle cx="593.4" cy="78.0" r="1.45"/><circle cx="597.3" cy="110.5" r="1.45"/></g>
<g fill="#2ca02c" fill-opacity="0.8"><circle cx="603.5" cy="69.9" r="1.45"/><circle cx="604" cy="68.4" r="1.45"/><circle cx="605" cy="67" r="1.45"/><circle cx="606.5" cy="66.4" r="1.45"/><circle cx="608" cy="66.2" r="1.45"/><circle cx="609.5" cy="66.3" r="1.45"/><circle cx="611" cy="66.9" r="1.45"/><circle cx="605.7" cy="102.5" r="1.45"/><circle cx="597.5" cy="108.7" r="1.45"/><circle cx="598.6" cy="111" r="1.45"/><circle cx="602.9" cy="70.0" r="1.45"/><circle cx="603.7" cy="68.6" r="1.45"/><circle cx="605.3" cy="66.0" r="1.45"/><circle cx="605.4" cy="67.1" r="1.45"/><circle cx="607.5" cy="65.6" r="1.45"/><circle cx="610.6" cy="66.2" r="1.45"/><circle cx="611.7" cy="66.8" r="1.45"/><circle cx="606.0" cy="101.7" r="1.45"/><circle cx="597.8" cy="109.5" r="1.45"/><circle cx="598.7" cy="111.5" r="1.45"/></g>
<g fill="#aec7e8" fill-opacity="0.8"><circle cx="558.7" cy="83" r="1.45"/><circle cx="560" cy="81.5" r="1.45"/><circle cx="561" cy="80" r="1.45"/><circle cx="562.2" cy="79" r="1.45"/><circle cx="563.5" cy="78" r="1.45"/><circle cx="564.8" cy="77" r="1.45"/><circle cx="566" cy="76.5" r="1.45"/><circle cx="567.3" cy="76.3" r="1.45"/><circle cx="568.5" cy="76.5" r="1.45"/><circle cx="569.7" cy="77.2" r="1.45"/><circle cx="570.5" cy="78.5" r="1.45"/><circle cx="567" cy="80.5" r="1.45"/><circle cx="564" cy="81" r="1.45"/><circle cx="565.5" cy="79.5" r="1.45"/><circle cx="562" cy="82" r="1.45"/><circle cx="557.9" cy="82.4" r="1.45"/><circle cx="561.0" cy="81.4" r="1.45"/><circle cx="561.3" cy="79.6" r="1.45"/><circle cx="562.2" cy="78.7" r="1.45"/><circle cx="563.2" cy="78.2" r="1.45"/><circle cx="565.0" cy="77.9" r="1.45"/><circle cx="566.4" cy="77.4" r="1.45"/><circle cx="568.1" cy="77.4" r="1.45"/><circle cx="568.9" cy="75.8" r="1.45"/><circle cx="570.5" cy="78.2" r="1.45"/><circle cx="571.4" cy="78.7" r="1.45"/><circle cx="567.5" cy="79.9" r="1.45"/><circle cx="564.7" cy="81.2" r="1.45"/><circle cx="565.0" cy="78.5" r="1.45"/><circle cx="562.8" cy="83.1" r="1.45"/></g>
<g fill="#17becf" fill-opacity="0.8"><circle cx="540" cy="87.8" r="1.45"/><circle cx="540.6" cy="86.3" r="1.45"/><circle cx="541.8" cy="88.5" r="1.45"/><circle cx="543" cy="86.5" r="1.45"/><circle cx="544.5" cy="85.5" r="1.45"/><circle cx="546" cy="85.2" r="1.45"/><circle cx="547.5" cy="85.4" r="1.45"/><circle cx="549" cy="85" r="1.45"/><circle cx="550.5" cy="85.3" r="1.45"/><circle cx="552" cy="84.8" r="1.45"/><circle cx="539.5" cy="88.7" r="1.45"/><circle cx="540.9" cy="87.1" r="1.45"/><circle cx="541.3" cy="88.0" r="1.45"/><circle cx="544.4" cy="86.1" r="1.45"/><circle cx="545.0" cy="84.4" r="1.45"/><circle cx="546.6" cy="86.4" r="1.45"/><circle cx="550.5" cy="84.9" r="1.45"/><circle cx="551.7" cy="85.1" r="1.45"/></g>
<g fill="#8c564b" fill-opacity="0.8"><circle cx="535.5" cy="60.1" r="1.45"/><circle cx="534" cy="84" r="1.45"/><circle cx="535.5" cy="86" r="1.45"/><circle cx="537" cy="84.5" r="1.45"/><circle cx="538.5" cy="86.5" r="1.45"/><circle cx="536" cy="87.5" r="1.45"/><circle cx="539" cy="85" r="1.45"/><circle cx="540" cy="80.3" r="1.45"/><circle cx="532.5" cy="83.6" r="1.45"/><circle cx="534.6" cy="84.0" r="1.45"/><circle cx="537.5" cy="85.5" r="1.45"/><circle cx="538.1" cy="86.6" r="1.45"/><circle cx="538.3" cy="84.4" r="1.45"/></g>
<g fill="#98df8a" fill-opacity="0.8"><circle cx="529.6" cy="75.1" r="1.45"/><circle cx="531.5" cy="74.2" r="1.45"/><circle cx="533" cy="73.5" r="1.45"/><circle cx="534.5" cy="72.7" r="1.45"/><circle cx="536" cy="72" r="1.45"/><circle cx="537.5" cy="71.5" r="1.45"/><circle cx="539" cy="71" r="1.45"/><circle cx="540.5" cy="70.8" r="1.45"/><circle cx="542.2" cy="70.6" r="1.45"/><circle cx="535.5" cy="70.5" r="1.45"/><circle cx="536.3" cy="68.4" r="1.45"/><circle cx="538" cy="69.5" r="1.45"/><circle cx="533.5" cy="75" r="1.45"/><circle cx="531" cy="76" r="1.45"/><circle cx="552.7" cy="66.9" r="1.45"/><circle cx="552" cy="69.1" r="1.45"/><circle cx="528.6" cy="75.3" r="1.45"/><circle cx="532.2" cy="73.2" r="1.45"/><circle cx="542.7" cy="69.9" r="1.45"/><circle cx="535.9" cy="70.6" r="1.45"/><circle cx="537.3" cy="68.6" r="1.45"/><circle cx="537.5" cy="70.3" r="1.45"/><circle cx="534.1" cy="74.7" r="1.45"/><circle cx="531.1" cy="76.7" r="1.45"/><circle cx="553.3" cy="67.8" r="1.45"/></g>
<g fill="#7f7f7f" fill-opacity="0.8"><circle cx="551.2" cy="52.7" r="1.45"/><circle cx="545.2" cy="57.5" r="1.45"/><circle cx="546.7" cy="56.4" r="1.45"/><circle cx="548.2" cy="57" r="1.45"/><circle cx="546" cy="58.7" r="1.45"/><circle cx="543.7" cy="60.9" r="1.45"/><circle cx="543" cy="63.9" r="1.45"/><circle cx="547.5" cy="63.9" r="1.45"/><circle cx="536.3" cy="63.9" r="1.45"/><circle cx="549" cy="89.3" r="1.45"/><circle cx="545.1" cy="97.2" r="1.45"/></g>
<g fill="#ff7f0e" fill-opacity="0.8"><circle cx="518.4" cy="63.1" r="1.45"/><circle cx="519.5" cy="61.5" r="1.45"/><circle cx="520.5" cy="60" r="1.45"/><circle cx="522" cy="59" r="1.45"/><circle cx="523.5" cy="58" r="1.45"/><circle cx="525" cy="57.4" r="1.45"/><circle cx="526.5" cy="57.2" r="1.45"/><circle cx="528" cy="57.1" r="1.45"/><circle cx="529.5" cy="57.3" r="1.45"/><circle cx="531" cy="57.8" r="1.45"/><circle cx="532.5" cy="58.8" r="1.45"/><circle cx="533.3" cy="60.1" r="1.45"/><circle cx="521" cy="62.5" r="1.45"/><circle cx="522.5" cy="61" r="1.45"/><circle cx="524" cy="60" r="1.45"/><circle cx="525.5" cy="59.5" r="1.45"/><circle cx="527" cy="59" r="1.45"/><circle cx="528.5" cy="59" r="1.45"/><circle cx="530" cy="59.5" r="1.45"/><circle cx="520" cy="64.5" r="1.45"/><circle cx="522" cy="64" r="1.45"/><circle cx="523.5" cy="62.5" r="1.45"/><circle cx="525" cy="62" r="1.45"/><circle cx="522.5" cy="66" r="1.45"/><circle cx="524.3" cy="67.6" r="1.45"/><circle cx="525.5" cy="65.5" r="1.45"/><circle cx="524" cy="64.5" r="1.45"/><circle cx="526.5" cy="63" r="1.45"/><circle cx="505.6" cy="66.3" r="1.45"/><circle cx="505.7" cy="68" r="1.45"/><circle cx="505.5" cy="69.8" r="1.45"/><circle cx="516.1" cy="67.6" r="1.45"/><circle cx="519.1" cy="66.9" r="1.45"/><circle cx="521.6" cy="83.3" r="1.45"/><circle cx="517.9" cy="63.0" r="1.45"/><circle cx="519.7" cy="61.1" r="1.45"/><circle cx="520.2" cy="59.6" r="1.45"/><circle cx="521.7" cy="59.2" r="1.45"/><circle cx="523.1" cy="57.7" r="1.45"/><circle cx="525.6" cy="56.4" r="1.45"/><circle cx="526.7" cy="57.7" r="1.45"/><circle cx="527.6" cy="56.5" r="1.45"/><circle cx="530.2" cy="56.7" r="1.45"/><circle cx="530.3" cy="57.7" r="1.45"/><circle cx="532.9" cy="57.9" r="1.45"/><circle cx="532.9" cy="59.7" r="1.45"/><circle cx="521.7" cy="62.4" r="1.45"/><circle cx="523.3" cy="60.3" r="1.45"/><circle cx="523.6" cy="60.3" r="1.45"/><circle cx="526.3" cy="59.4" r="1.45"/><circle cx="526.4" cy="58.2" r="1.45"/><circle cx="528.6" cy="58.3" r="1.45"/><circle cx="530.7" cy="60.2" r="1.45"/><circle cx="519.3" cy="64.0" r="1.45"/><circle cx="522.7" cy="64.3" r="1.45"/><circle cx="524.2" cy="62.2" r="1.45"/><circle cx="524.2" cy="61.5" r="1.45"/><circle cx="523.1" cy="65.5" r="1.45"/><circle cx="524.0" cy="67.4" r="1.45"/><circle cx="525.3" cy="65.3" r="1.45"/><circle cx="524.9" cy="63.7" r="1.45"/><circle cx="525.4" cy="64.0" r="1.45"/><circle cx="506.4" cy="67.4" r="1.45"/><circle cx="505.6" cy="69.0" r="1.45"/><circle cx="506.4" cy="69.2" r="1.45"/><circle cx="516.6" cy="68.3" r="1.45"/><circle cx="519.5" cy="66.9" r="1.45"/><circle cx="521.1" cy="83.0" r="1.45"/></g>
<g fill="#9467bd" fill-opacity="0.8"><circle cx="598.3" cy="36.1" r="1.45"/><circle cx="595.3" cy="39.1" r="1.45"/><circle cx="596.5" cy="37.5" r="1.45"/><circle cx="597.5" cy="40.6" r="1.45"/><circle cx="599.8" cy="37.6" r="1.45"/><circle cx="605.4" cy="37.2" r="1.45"/><circle cx="599.8" cy="42.5" r="1.45"/><circle cx="601.3" cy="42.5" r="1.45"/><circle cx="602.8" cy="42.5" r="1.45"/><circle cx="604.3" cy="42.5" r="1.45"/><circle cx="597.5" cy="46.6" r="1.45"/><circle cx="596.5" cy="41.5" r="1.45"/><circle cx="598.0" cy="35.9" r="1.45"/><circle cx="595.1" cy="38.2" r="1.45"/><circle cx="600.3" cy="36.9" r="1.45"/><circle cx="604.6" cy="43.4" r="1.45"/><circle cx="596.6" cy="47.1" r="1.45"/></g>
</g>
<text x="439.2" y="16" class="pl">b</text>
<!-- panel c frame -->
<rect x="433.5" y="215" width="251" height="186" fill="none" stroke="#000" stroke-width="1"/>
<line x1="433" y1="214.9" x2="685" y2="214.9" stroke="#444" stroke-width="2"/>
<g id="panc">
<path d="M481.00,376.3 L481.00,373.00 L496.68,373.00 L496.70,229.20 L512.38,229.20 L512.40,296.60 L528.08,296.60 L528.00,353.40 L543.68,353.40 L543.70,363.10 L559.38,363.10 L559.30,368.50 L574.98,368.50 L575.00,372.90 L590.68,372.90 L590.70,374.00 L606.38,374.00 L606.40,373.10 L622.08,373.10 L622.10,374.90 L637.78,374.90 L637.80,375.30 L653.48,375.30 L653.40,375.60 L669.08,375.60 L669.08,376.3 Z" fill="#1f77b4"/>
<rect x="471.7" y="222.1" width="206.5" height="154.2" fill="none" stroke="#555" stroke-width="0.8"/>
<line x1="469.5" x2="471.7" y1="376.30" y2="376.30" stroke="#555" stroke-width="0.8"/>
<text x="467.6" y="378.60" text-anchor="end" class="tk">0</text>
<line x1="469.5" x2="471.7" y1="346.50" y2="346.50" stroke="#555" stroke-width="0.8"/>
<text x="467.6" y="348.80" text-anchor="end" class="tk">500</text>
<line x1="469.5" x2="471.7" y1="316.70" y2="316.70" stroke="#555" stroke-width="0.8"/>
<text x="467.6" y="319.00" text-anchor="end" class="tk">1000</text>
<line x1="469.5" x2="471.7" y1="286.90" y2="286.90" stroke="#555" stroke-width="0.8"/>
<text x="467.6" y="289.20" text-anchor="end" class="tk">1500</text>
<line x1="469.5" x2="471.7" y1="257.10" y2="257.10" stroke="#555" stroke-width="0.8"/>
<text x="467.6" y="259.40" text-anchor="end" class="tk">2000</text>
<line x1="469.5" x2="471.7" y1="227.30" y2="227.30" stroke="#555" stroke-width="0.8"/>
<text x="467.6" y="229.60" text-anchor="end" class="tk">2500</text>
<line x1="512.70" x2="512.70" y1="376.3" y2="378.5" stroke="#555" stroke-width="0.8"/>
<text x="512.70" y="385.0" text-anchor="middle" class="tk">200</text>
<line x1="556.02" x2="556.02" y1="376.3" y2="378.5" stroke="#555" stroke-width="0.8"/>
<text x="556.02" y="385.0" text-anchor="middle" class="tk">400</text>
<line x1="599.33" x2="599.33" y1="376.3" y2="378.5" stroke="#555" stroke-width="0.8"/>
<text x="599.33" y="385.0" text-anchor="middle" class="tk">600</text>
<line x1="642.65" x2="642.65" y1="376.3" y2="378.5" stroke="#555" stroke-width="0.8"/>
<text x="642.65" y="385.0" text-anchor="middle" class="tk">800</text>
<text x="577" y="395.4" text-anchor="middle" class="lb">Distance (Å)</text>
<text transform="translate(446.4,301) rotate(-90)" text-anchor="middle" class="lb">Relative Frequency</text>
</g>
<text x="438.6" y="230" class="pl">c</text>
</svg>
</body></html>
